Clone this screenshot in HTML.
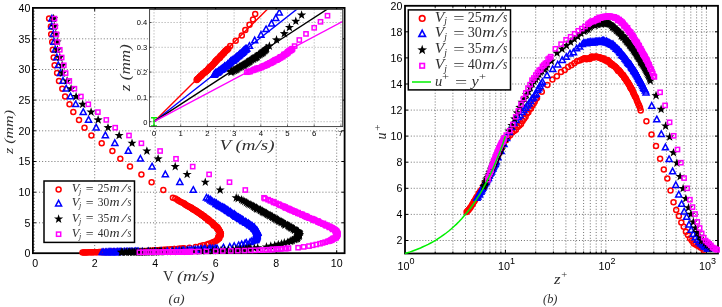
<!DOCTYPE html>
<html><head><meta charset="utf-8"><title>figure</title><style>html,body{margin:0;padding:0;background:#fff}svg{display:block}</style></head><body>
<svg width="722" height="307" viewBox="0 0 722 307">
<rect width="722" height="307" fill="#fff"/>
<g stroke="#5a5a5a" stroke-width="0.85" stroke-dasharray="1 2.08" fill="none">
<line x1="94.7" y1="7.9" x2="94.7" y2="253.2"/>
<line x1="155.2" y1="7.9" x2="155.2" y2="253.2"/>
<line x1="215.7" y1="7.9" x2="215.7" y2="253.2"/>
<line x1="276.2" y1="7.9" x2="276.2" y2="253.2"/>
<line x1="336.7" y1="7.9" x2="336.7" y2="253.2"/>
<line x1="32.9" y1="222.8" x2="344.6" y2="222.8"/>
<line x1="32.9" y1="192.2" x2="344.6" y2="192.2"/>
<line x1="32.9" y1="161.5" x2="344.6" y2="161.5"/>
<line x1="32.9" y1="130.8" x2="344.6" y2="130.8"/>
<line x1="32.9" y1="100.1" x2="344.6" y2="100.1"/>
<line x1="32.9" y1="69.5" x2="344.6" y2="69.5"/>
<line x1="32.9" y1="38.8" x2="344.6" y2="38.8"/>
</g>
<rect x="32.9" y="7.9" width="311.7" height="245.3" fill="none" stroke="#000" stroke-width="1.8"/>
<g stroke="#000" stroke-width="1">
<line x1="94.7" y1="253.2" x2="94.7" y2="250.2"/>
<line x1="94.7" y1="7.9" x2="94.7" y2="10.9"/>
<line x1="155.2" y1="253.2" x2="155.2" y2="250.2"/>
<line x1="155.2" y1="7.9" x2="155.2" y2="10.9"/>
<line x1="215.7" y1="253.2" x2="215.7" y2="250.2"/>
<line x1="215.7" y1="7.9" x2="215.7" y2="10.9"/>
<line x1="276.2" y1="253.2" x2="276.2" y2="250.2"/>
<line x1="276.2" y1="7.9" x2="276.2" y2="10.9"/>
<line x1="336.7" y1="253.2" x2="336.7" y2="250.2"/>
<line x1="336.7" y1="7.9" x2="336.7" y2="10.9"/>
<line x1="32.9" y1="222.8" x2="35.9" y2="222.8"/>
<line x1="344.6" y1="222.8" x2="341.6" y2="222.8"/>
<line x1="32.9" y1="192.2" x2="35.9" y2="192.2"/>
<line x1="344.6" y1="192.2" x2="341.6" y2="192.2"/>
<line x1="32.9" y1="161.5" x2="35.9" y2="161.5"/>
<line x1="344.6" y1="161.5" x2="341.6" y2="161.5"/>
<line x1="32.9" y1="130.8" x2="35.9" y2="130.8"/>
<line x1="344.6" y1="130.8" x2="341.6" y2="130.8"/>
<line x1="32.9" y1="100.1" x2="35.9" y2="100.1"/>
<line x1="344.6" y1="100.1" x2="341.6" y2="100.1"/>
<line x1="32.9" y1="69.5" x2="35.9" y2="69.5"/>
<line x1="344.6" y1="69.5" x2="341.6" y2="69.5"/>
<line x1="32.9" y1="38.8" x2="35.9" y2="38.8"/>
<line x1="344.6" y1="38.8" x2="341.6" y2="38.8"/>
<line x1="32.9" y1="250.4" x2="34.7" y2="250.4" stroke-width="0.6"/>
<line x1="32.9" y1="247.4" x2="34.7" y2="247.4" stroke-width="0.6"/>
<line x1="32.9" y1="244.3" x2="34.7" y2="244.3" stroke-width="0.6"/>
<line x1="32.9" y1="241.2" x2="34.7" y2="241.2" stroke-width="0.6"/>
<line x1="32.9" y1="238.2" x2="34.7" y2="238.2" stroke-width="0.6"/>
<line x1="32.9" y1="235.1" x2="34.7" y2="235.1" stroke-width="0.6"/>
<line x1="32.9" y1="232" x2="34.7" y2="232" stroke-width="0.6"/>
<line x1="32.9" y1="229" x2="34.7" y2="229" stroke-width="0.6"/>
<line x1="32.9" y1="225.9" x2="34.7" y2="225.9" stroke-width="0.6"/>
<line x1="32.9" y1="219.8" x2="34.7" y2="219.8" stroke-width="0.6"/>
<line x1="32.9" y1="216.7" x2="34.7" y2="216.7" stroke-width="0.6"/>
<line x1="32.9" y1="213.6" x2="34.7" y2="213.6" stroke-width="0.6"/>
<line x1="32.9" y1="210.6" x2="34.7" y2="210.6" stroke-width="0.6"/>
<line x1="32.9" y1="207.5" x2="34.7" y2="207.5" stroke-width="0.6"/>
<line x1="32.9" y1="204.4" x2="34.7" y2="204.4" stroke-width="0.6"/>
<line x1="32.9" y1="201.4" x2="34.7" y2="201.4" stroke-width="0.6"/>
<line x1="32.9" y1="198.3" x2="34.7" y2="198.3" stroke-width="0.6"/>
<line x1="32.9" y1="195.2" x2="34.7" y2="195.2" stroke-width="0.6"/>
<line x1="32.9" y1="189.1" x2="34.7" y2="189.1" stroke-width="0.6"/>
<line x1="32.9" y1="186" x2="34.7" y2="186" stroke-width="0.6"/>
<line x1="32.9" y1="182.9" x2="34.7" y2="182.9" stroke-width="0.6"/>
<line x1="32.9" y1="179.9" x2="34.7" y2="179.9" stroke-width="0.6"/>
<line x1="32.9" y1="176.8" x2="34.7" y2="176.8" stroke-width="0.6"/>
<line x1="32.9" y1="173.7" x2="34.7" y2="173.7" stroke-width="0.6"/>
<line x1="32.9" y1="170.7" x2="34.7" y2="170.7" stroke-width="0.6"/>
<line x1="32.9" y1="167.6" x2="34.7" y2="167.6" stroke-width="0.6"/>
<line x1="32.9" y1="164.5" x2="34.7" y2="164.5" stroke-width="0.6"/>
<line x1="32.9" y1="158.4" x2="34.7" y2="158.4" stroke-width="0.6"/>
<line x1="32.9" y1="155.3" x2="34.7" y2="155.3" stroke-width="0.6"/>
<line x1="32.9" y1="152.3" x2="34.7" y2="152.3" stroke-width="0.6"/>
<line x1="32.9" y1="149.2" x2="34.7" y2="149.2" stroke-width="0.6"/>
<line x1="32.9" y1="146.1" x2="34.7" y2="146.1" stroke-width="0.6"/>
<line x1="32.9" y1="143.1" x2="34.7" y2="143.1" stroke-width="0.6"/>
<line x1="32.9" y1="140" x2="34.7" y2="140" stroke-width="0.6"/>
<line x1="32.9" y1="136.9" x2="34.7" y2="136.9" stroke-width="0.6"/>
<line x1="32.9" y1="133.9" x2="34.7" y2="133.9" stroke-width="0.6"/>
<line x1="32.9" y1="127.7" x2="34.7" y2="127.7" stroke-width="0.6"/>
<line x1="32.9" y1="124.7" x2="34.7" y2="124.7" stroke-width="0.6"/>
<line x1="32.9" y1="121.6" x2="34.7" y2="121.6" stroke-width="0.6"/>
<line x1="32.9" y1="118.5" x2="34.7" y2="118.5" stroke-width="0.6"/>
<line x1="32.9" y1="115.5" x2="34.7" y2="115.5" stroke-width="0.6"/>
<line x1="32.9" y1="112.4" x2="34.7" y2="112.4" stroke-width="0.6"/>
<line x1="32.9" y1="109.3" x2="34.7" y2="109.3" stroke-width="0.6"/>
<line x1="32.9" y1="106.3" x2="34.7" y2="106.3" stroke-width="0.6"/>
<line x1="32.9" y1="103.2" x2="34.7" y2="103.2" stroke-width="0.6"/>
<line x1="32.9" y1="97.1" x2="34.7" y2="97.1" stroke-width="0.6"/>
<line x1="32.9" y1="94" x2="34.7" y2="94" stroke-width="0.6"/>
<line x1="32.9" y1="90.9" x2="34.7" y2="90.9" stroke-width="0.6"/>
<line x1="32.9" y1="87.9" x2="34.7" y2="87.9" stroke-width="0.6"/>
<line x1="32.9" y1="84.8" x2="34.7" y2="84.8" stroke-width="0.6"/>
<line x1="32.9" y1="81.7" x2="34.7" y2="81.7" stroke-width="0.6"/>
<line x1="32.9" y1="78.7" x2="34.7" y2="78.7" stroke-width="0.6"/>
<line x1="32.9" y1="75.6" x2="34.7" y2="75.6" stroke-width="0.6"/>
<line x1="32.9" y1="72.5" x2="34.7" y2="72.5" stroke-width="0.6"/>
<line x1="32.9" y1="66.4" x2="34.7" y2="66.4" stroke-width="0.6"/>
<line x1="32.9" y1="63.3" x2="34.7" y2="63.3" stroke-width="0.6"/>
<line x1="32.9" y1="60.2" x2="34.7" y2="60.2" stroke-width="0.6"/>
<line x1="32.9" y1="57.2" x2="34.7" y2="57.2" stroke-width="0.6"/>
<line x1="32.9" y1="54.1" x2="34.7" y2="54.1" stroke-width="0.6"/>
<line x1="32.9" y1="51" x2="34.7" y2="51" stroke-width="0.6"/>
<line x1="32.9" y1="48" x2="34.7" y2="48" stroke-width="0.6"/>
<line x1="32.9" y1="44.9" x2="34.7" y2="44.9" stroke-width="0.6"/>
<line x1="32.9" y1="41.8" x2="34.7" y2="41.8" stroke-width="0.6"/>
<line x1="32.9" y1="35.7" x2="34.7" y2="35.7" stroke-width="0.6"/>
<line x1="32.9" y1="32.6" x2="34.7" y2="32.6" stroke-width="0.6"/>
<line x1="32.9" y1="29.6" x2="34.7" y2="29.6" stroke-width="0.6"/>
<line x1="32.9" y1="26.5" x2="34.7" y2="26.5" stroke-width="0.6"/>
<line x1="32.9" y1="23.4" x2="34.7" y2="23.4" stroke-width="0.6"/>
<line x1="32.9" y1="20.4" x2="34.7" y2="20.4" stroke-width="0.6"/>
<line x1="32.9" y1="17.3" x2="34.7" y2="17.3" stroke-width="0.6"/>
<line x1="32.9" y1="14.2" x2="34.7" y2="14.2" stroke-width="0.6"/>
<line x1="32.9" y1="11.2" x2="34.7" y2="11.2" stroke-width="0.6"/>
</g>
<clipPath id="cl"><rect x="28.9" y="3.9" width="319.7" height="253.3"/></clipPath>
<g clip-path="url(#cl)">
<g fill="none" stroke="#ff0000" stroke-width="1.5">
<circle cx="82.5" cy="252.5" r="2.5"/>
<circle cx="83.7" cy="252.4" r="2.5"/>
<circle cx="84.7" cy="252.4" r="2.5"/>
<circle cx="86" cy="252.4" r="2.5"/>
<circle cx="87" cy="252.4" r="2.5"/>
<circle cx="88.8" cy="252.3" r="2.5"/>
<circle cx="90" cy="252.3" r="2.5"/>
<circle cx="91.8" cy="252.3" r="2.5"/>
<circle cx="92.5" cy="252.3" r="2.5"/>
<circle cx="93.8" cy="252.2" r="2.5"/>
<circle cx="95.2" cy="252.2" r="2.5"/>
<circle cx="96.4" cy="252.2" r="2.5"/>
<circle cx="97.4" cy="252.2" r="2.5"/>
<circle cx="99" cy="252.1" r="2.5"/>
<circle cx="100.4" cy="252.1" r="2.5"/>
<circle cx="101.1" cy="252.1" r="2.5"/>
<circle cx="102.3" cy="252.1" r="2.5"/>
<circle cx="103.6" cy="252" r="2.5"/>
<circle cx="104.3" cy="252" r="2.5"/>
<circle cx="105.9" cy="252" r="2.5"/>
<circle cx="106.9" cy="251.9" r="2.5"/>
<circle cx="108.6" cy="251.9" r="2.5"/>
<circle cx="109.2" cy="251.9" r="2.5"/>
<circle cx="110.4" cy="251.9" r="2.5"/>
<circle cx="111.8" cy="251.8" r="2.5"/>
<circle cx="113" cy="251.8" r="2.5"/>
<circle cx="113.8" cy="251.8" r="2.5"/>
<circle cx="115.1" cy="251.8" r="2.5"/>
<circle cx="116.8" cy="251.7" r="2.5"/>
<circle cx="118" cy="251.7" r="2.5"/>
<circle cx="120.6" cy="251.6" r="2.5"/>
<circle cx="126.7" cy="251.5" r="2.5"/>
<circle cx="133.7" cy="251.4" r="2.5"/>
<circle cx="137.7" cy="251.2" r="2.5"/>
<circle cx="142.4" cy="251.1" r="2.5"/>
<circle cx="146.4" cy="251" r="2.5"/>
<circle cx="148.9" cy="250.8" r="2.5"/>
<circle cx="150.8" cy="250.7" r="2.5"/>
<circle cx="153.3" cy="250.6" r="2.5"/>
<circle cx="154.5" cy="250.4" r="2.5"/>
<circle cx="155.7" cy="250.3" r="2.5"/>
<circle cx="158.2" cy="250.2" r="2.5"/>
<circle cx="159.6" cy="250" r="2.5"/>
<circle cx="160.8" cy="249.9" r="2.5"/>
<circle cx="163.5" cy="249.8" r="2.5"/>
<circle cx="165.4" cy="249.7" r="2.5"/>
<circle cx="167.4" cy="249.5" r="2.5"/>
<circle cx="170.1" cy="249.4" r="2.5"/>
<circle cx="171.3" cy="249.3" r="2.5"/>
<circle cx="174.2" cy="249.1" r="2.5"/>
<circle cx="174.5" cy="249" r="2.5"/>
<circle cx="177.4" cy="248.9" r="2.5"/>
<circle cx="178.9" cy="248.7" r="2.5"/>
<circle cx="180.7" cy="248.6" r="2.5"/>
<circle cx="183" cy="248.5" r="2.5"/>
<circle cx="183.9" cy="248.3" r="2.5"/>
<circle cx="189.5" cy="247.7" r="2.5"/>
<circle cx="195.6" cy="246.9" r="2.5"/>
<circle cx="200.3" cy="246.1" r="2.5"/>
<circle cx="203.2" cy="245.3" r="2.5"/>
<circle cx="207" cy="244.5" r="2.5"/>
<circle cx="208.9" cy="243.7" r="2.5"/>
<circle cx="211.4" cy="242.9" r="2.5"/>
<circle cx="213" cy="242.2" r="2.5"/>
<circle cx="214.8" cy="241.4" r="2.5"/>
<circle cx="216.6" cy="240.6" r="2.5"/>
<circle cx="217.2" cy="239.8" r="2.5"/>
<circle cx="218.2" cy="239" r="2.5"/>
<circle cx="218.6" cy="238.6" r="2.5"/>
<circle cx="219.3" cy="238.2" r="2.5"/>
<circle cx="218.9" cy="237.8" r="2.5"/>
<circle cx="218.3" cy="237.4" r="2.5"/>
<circle cx="219.1" cy="237" r="2.5"/>
<circle cx="219" cy="236.6" r="2.5"/>
<circle cx="218.6" cy="236.2" r="2.5"/>
<circle cx="219.9" cy="235.8" r="2.5"/>
<circle cx="220.7" cy="235.4" r="2.5"/>
<circle cx="220.3" cy="235" r="2.5"/>
<circle cx="220" cy="234.6" r="2.5"/>
<circle cx="220.1" cy="234.2" r="2.5"/>
<circle cx="220.9" cy="233.8" r="2.5"/>
<circle cx="220.5" cy="233.4" r="2.5"/>
<circle cx="220.6" cy="233" r="2.5"/>
<circle cx="220.2" cy="232.6" r="2.5"/>
<circle cx="220" cy="232.2" r="2.5"/>
<circle cx="219.9" cy="231.8" r="2.5"/>
<circle cx="219.9" cy="231.4" r="2.5"/>
<circle cx="219.2" cy="231" r="2.5"/>
<circle cx="218.6" cy="230.6" r="2.5"/>
<circle cx="219.2" cy="230.2" r="2.5"/>
<circle cx="218.5" cy="229.8" r="2.5"/>
<circle cx="218.8" cy="229.4" r="2.5"/>
<circle cx="217.5" cy="229" r="2.5"/>
<circle cx="217.7" cy="228.6" r="2.5"/>
<circle cx="217.4" cy="228.2" r="2.5"/>
<circle cx="216.7" cy="227.8" r="2.5"/>
<circle cx="217.6" cy="227.4" r="2.5"/>
<circle cx="216.9" cy="227" r="2.5"/>
<circle cx="215.7" cy="226.6" r="2.5"/>
<circle cx="215.7" cy="226.2" r="2.5"/>
<circle cx="215.3" cy="225.8" r="2.5"/>
<circle cx="213.8" cy="225.4" r="2.5"/>
<circle cx="214.3" cy="225" r="2.5"/>
<circle cx="213.9" cy="224.6" r="2.5"/>
<circle cx="213.4" cy="224.2" r="2.5"/>
<circle cx="212.8" cy="223.8" r="2.5"/>
<circle cx="212.6" cy="223.4" r="2.5"/>
<circle cx="212.2" cy="223" r="2.5"/>
<circle cx="212" cy="222.6" r="2.5"/>
<circle cx="211.4" cy="222.2" r="2.5"/>
<circle cx="210.7" cy="221.8" r="2.5"/>
<circle cx="210.7" cy="221.4" r="2.5"/>
<circle cx="209.5" cy="221" r="2.5"/>
<circle cx="208.9" cy="220.6" r="2.5"/>
<circle cx="207.9" cy="220.2" r="2.5"/>
<circle cx="208.9" cy="219.8" r="2.5"/>
<circle cx="208" cy="219.4" r="2.5"/>
<circle cx="207.6" cy="219" r="2.5"/>
<circle cx="207.1" cy="218.6" r="2.5"/>
<circle cx="206" cy="218.2" r="2.5"/>
<circle cx="205.7" cy="217.8" r="2.5"/>
<circle cx="205.1" cy="217.4" r="2.5"/>
<circle cx="204.7" cy="217" r="2.5"/>
<circle cx="204.1" cy="216.6" r="2.5"/>
<circle cx="204.3" cy="216.2" r="2.5"/>
<circle cx="203.3" cy="215.8" r="2.5"/>
<circle cx="202.4" cy="215.4" r="2.5"/>
<circle cx="201.7" cy="215" r="2.5"/>
<circle cx="201.3" cy="214.6" r="2.5"/>
<circle cx="201.5" cy="214.2" r="2.5"/>
<circle cx="200.2" cy="213.8" r="2.5"/>
<circle cx="199.9" cy="213.4" r="2.5"/>
<circle cx="199.1" cy="213" r="2.5"/>
<circle cx="198.4" cy="212.6" r="2.5"/>
<circle cx="197.9" cy="212.2" r="2.5"/>
<circle cx="197.6" cy="211.8" r="2.5"/>
<circle cx="196.5" cy="211.4" r="2.5"/>
<circle cx="196.4" cy="211" r="2.5"/>
<circle cx="195.5" cy="210.6" r="2.5"/>
<circle cx="195.2" cy="210.2" r="2.5"/>
<circle cx="193.8" cy="209.8" r="2.5"/>
<circle cx="193.7" cy="209.5" r="2.5"/>
<circle cx="192.7" cy="209.1" r="2.5"/>
<circle cx="192.7" cy="208.7" r="2.5"/>
<circle cx="191.7" cy="208.3" r="2.5"/>
<circle cx="191.2" cy="207.9" r="2.5"/>
<circle cx="191.1" cy="207.4" r="2.5"/>
<circle cx="189.6" cy="207" r="2.5"/>
<circle cx="188.5" cy="206.5" r="2.5"/>
<circle cx="187.9" cy="206" r="2.5"/>
<circle cx="186.8" cy="205.4" r="2.5"/>
<circle cx="185.5" cy="204.8" r="2.5"/>
<circle cx="184.7" cy="204.1" r="2.5"/>
<circle cx="183.9" cy="203.3" r="2.5"/>
<circle cx="182" cy="202.5" r="2.5"/>
<circle cx="180.4" cy="201.7" r="2.5"/>
<circle cx="178.6" cy="200.8" r="2.5"/>
<circle cx="177.4" cy="199.7" r="2.5"/>
<circle cx="175.3" cy="198.6" r="2.5"/>
<circle cx="172.9" cy="197.8" r="2.5"/>
<circle cx="163.3" cy="190" r="2.5"/>
<circle cx="151.6" cy="182.2" r="2.5"/>
<circle cx="141.4" cy="174.4" r="2.5"/>
<circle cx="130" cy="166.6" r="2.5"/>
<circle cx="120.3" cy="158.8" r="2.5"/>
<circle cx="112.4" cy="151" r="2.5"/>
<circle cx="101.7" cy="143.3" r="2.5"/>
<circle cx="91.4" cy="135.5" r="2.5"/>
<circle cx="84.5" cy="127.7" r="2.5"/>
<circle cx="79" cy="119.9" r="2.5"/>
<circle cx="73.3" cy="112.1" r="2.5"/>
<circle cx="69.5" cy="104.3" r="2.5"/>
<circle cx="65.1" cy="96.5" r="2.5"/>
<circle cx="62.3" cy="88.7" r="2.5"/>
<circle cx="59" cy="80.9" r="2.5"/>
<circle cx="57.1" cy="73.1" r="2.5"/>
<circle cx="54.6" cy="65.3" r="2.5"/>
<circle cx="53.7" cy="57.5" r="2.5"/>
<circle cx="52.8" cy="49.8" r="2.5"/>
<circle cx="52.2" cy="42" r="2.5"/>
<circle cx="51.2" cy="34.2" r="2.5"/>
<circle cx="50.9" cy="26.4" r="2.5"/>
<circle cx="49.1" cy="18.6" r="2.5"/>
</g>
<g fill="none" stroke="#0000ff" stroke-width="1.5">
<polygon points="102.1,249 105.2,254.6 99.1,254.6"/>
<polygon points="103.3,249 106.3,254.6 100.3,254.6"/>
<polygon points="105.3,249 108.3,254.6 102.3,254.6"/>
<polygon points="106.3,249 109.4,254.6 103.3,254.6"/>
<polygon points="108.1,248.9 111.1,254.5 105.1,254.5"/>
<polygon points="109.3,248.9 112.3,254.5 106.2,254.5"/>
<polygon points="110.7,248.9 113.8,254.5 107.7,254.5"/>
<polygon points="111.9,248.9 115,254.5 108.9,254.5"/>
<polygon points="113.4,248.8 116.4,254.4 110.4,254.4"/>
<polygon points="114.5,248.8 117.5,254.4 111.4,254.4"/>
<polygon points="116.1,248.8 119.1,254.4 113.1,254.4"/>
<polygon points="117.3,248.8 120.4,254.4 114.3,254.4"/>
<polygon points="118,248.7 121.1,254.4 115,254.4"/>
<polygon points="119.6,248.7 122.6,254.3 116.5,254.3"/>
<polygon points="120.8,248.7 123.8,254.3 117.8,254.3"/>
<polygon points="121.7,248.7 124.8,254.3 118.7,254.3"/>
<polygon points="123.9,248.7 126.9,254.3 120.8,254.3"/>
<polygon points="124.5,248.6 127.5,254.2 121.4,254.2"/>
<polygon points="126.1,248.6 129.1,254.2 123,254.2"/>
<polygon points="127.1,248.6 130.1,254.2 124,254.2"/>
<polygon points="128,248.6 131.1,254.2 125,254.2"/>
<polygon points="129.6,248.6 132.6,254.2 126.6,254.2"/>
<polygon points="130.9,248.5 134,254.1 127.9,254.1"/>
<polygon points="131.4,248.5 134.5,254.1 128.4,254.1"/>
<polygon points="132.8,248.5 135.8,254.1 129.8,254.1"/>
<polygon points="134.1,248.5 137.1,254.1 131,254.1"/>
<polygon points="135.2,248.4 138.2,254 132.1,254"/>
<polygon points="135.9,248.4 138.9,254 132.8,254"/>
<polygon points="137.2,248.4 140.3,254 134.2,254"/>
<polygon points="138.3,248.4 141.4,254 135.3,254"/>
<polygon points="142.3,248.3 145.4,253.9 139.3,253.9"/>
<polygon points="148.3,248.2 151.3,253.8 145.3,253.8"/>
<polygon points="155.4,248 158.5,253.6 152.4,253.6"/>
<polygon points="161.2,247.9 164.2,253.5 158.1,253.5"/>
<polygon points="167.3,247.8 170.4,253.4 164.3,253.4"/>
<polygon points="172.2,247.6 175.2,253.2 169.2,253.2"/>
<polygon points="176.2,247.5 179.2,253.1 173.1,253.1"/>
<polygon points="179.2,247.3 182.2,252.9 176.1,252.9"/>
<polygon points="182,247.2 185,252.8 178.9,252.8"/>
<polygon points="183.8,247.1 186.8,252.7 180.8,252.7"/>
<polygon points="187.1,246.9 190.1,252.5 184,252.5"/>
<polygon points="189.2,246.8 192.2,252.4 186.1,252.4"/>
<polygon points="191.3,246.6 194.4,252.3 188.3,252.3"/>
<polygon points="193.6,246.5 196.6,252.1 190.6,252.1"/>
<polygon points="195.5,246.4 198.5,252 192.5,252"/>
<polygon points="197.9,246.2 200.9,251.8 194.8,251.8"/>
<polygon points="200.4,246.1 203.4,251.7 197.4,251.7"/>
<polygon points="201.5,246 204.6,251.6 198.5,251.6"/>
<polygon points="204,245.8 207.1,251.4 201,251.4"/>
<polygon points="205.1,245.7 208.1,251.3 202,251.3"/>
<polygon points="209.2,245.5 212.2,251.1 206.1,251.1"/>
<polygon points="210.6,245.4 213.6,251 207.5,251"/>
<polygon points="212.7,245.3 215.8,250.9 209.7,250.9"/>
<polygon points="215.2,245.1 218.3,250.7 212.2,250.7"/>
<polygon points="217,245 220,250.6 213.9,250.6"/>
<polygon points="223.5,244.4 226.5,250 220.4,250"/>
<polygon points="229.8,243.6 232.8,249.2 226.8,249.2"/>
<polygon points="234.2,242.8 237.2,248.4 231.1,248.4"/>
<polygon points="238.7,242 241.7,247.6 235.7,247.6"/>
<polygon points="241.7,241.2 244.7,246.8 238.7,246.8"/>
<polygon points="245,240.4 248.1,246 242,246"/>
<polygon points="246.3,239.6 249.3,245.2 243.2,245.2"/>
<polygon points="250.1,238.8 253.2,244.4 247.1,244.4"/>
<polygon points="251.8,238 254.9,243.6 248.8,243.6"/>
<polygon points="254.3,237.2 257.4,242.8 251.3,242.8"/>
<polygon points="255.6,236.8 258.6,242.4 252.5,242.4"/>
<polygon points="255.6,236.4 258.7,242 252.6,242"/>
<polygon points="255.1,236 258.2,241.6 252.1,241.6"/>
<polygon points="256,235.6 259,241.2 252.9,241.2"/>
<polygon points="256,235.2 259.1,240.8 253,240.8"/>
<polygon points="256.3,234.8 259.4,240.4 253.3,240.4"/>
<polygon points="256.7,234.4 259.7,240 253.6,240"/>
<polygon points="255.8,234 258.9,239.6 252.8,239.6"/>
<polygon points="256.7,233.6 259.8,239.2 253.7,239.2"/>
<polygon points="256,233.2 259.1,238.8 253,238.8"/>
<polygon points="257,232.8 260.1,238.4 254,238.4"/>
<polygon points="257,232.4 260,238 253.9,238"/>
<polygon points="256.9,232 260,237.7 253.9,237.7"/>
<polygon points="256.9,231.6 259.9,237.3 253.8,237.3"/>
<polygon points="256.9,231.2 259.9,236.9 253.8,236.9"/>
<polygon points="257,230.8 260.1,236.5 254,236.5"/>
<polygon points="256.5,230.5 259.6,236.1 253.5,236.1"/>
<polygon points="257.2,230.1 260.2,235.7 254.1,235.7"/>
<polygon points="257.8,229.7 260.9,235.3 254.8,235.3"/>
<polygon points="258,229.3 261,234.9 254.9,234.9"/>
<polygon points="257.4,228.9 260.4,234.5 254.3,234.5"/>
<polygon points="256.9,228.5 259.9,234.1 253.9,234.1"/>
<polygon points="256.2,228.1 259.2,233.7 253.1,233.7"/>
<polygon points="257.2,227.7 260.2,233.3 254.2,233.3"/>
<polygon points="256.2,227.3 259.2,232.9 253.2,232.9"/>
<polygon points="256.1,226.9 259.1,232.5 253,232.5"/>
<polygon points="255.5,226.5 258.5,232.1 252.5,232.1"/>
<polygon points="255.5,226.1 258.5,231.7 252.5,231.7"/>
<polygon points="254.7,225.7 257.8,231.3 251.7,231.3"/>
<polygon points="254.5,225.3 257.6,230.9 251.5,230.9"/>
<polygon points="254,224.9 257.1,230.5 251,230.5"/>
<polygon points="253.7,224.5 256.8,230.1 250.7,230.1"/>
<polygon points="254.3,224.1 257.3,229.7 251.2,229.7"/>
<polygon points="252.8,223.7 255.8,229.3 249.8,229.3"/>
<polygon points="252.3,223.3 255.3,228.9 249.2,228.9"/>
<polygon points="252.2,222.9 255.2,228.5 249.1,228.5"/>
<polygon points="251.5,222.5 254.5,228.1 248.4,228.1"/>
<polygon points="249.9,222.1 253,227.7 246.9,227.7"/>
<polygon points="249.9,221.7 252.9,227.3 246.9,227.3"/>
<polygon points="249.8,221.3 252.8,226.9 246.8,226.9"/>
<polygon points="248.9,220.9 251.9,226.5 245.9,226.5"/>
<polygon points="248.4,220.5 251.4,226.1 245.3,226.1"/>
<polygon points="248.2,220.1 251.2,225.7 245.2,225.7"/>
<polygon points="246.7,219.7 249.7,225.3 243.6,225.3"/>
<polygon points="246.1,219.3 249.2,224.9 243.1,224.9"/>
<polygon points="245.5,218.9 248.5,224.5 242.4,224.5"/>
<polygon points="245.8,218.5 248.9,224.1 242.8,224.1"/>
<polygon points="243.6,218.1 246.6,223.7 240.5,223.7"/>
<polygon points="243.4,217.7 246.4,223.3 240.4,223.3"/>
<polygon points="242.8,217.3 245.9,222.9 239.8,222.9"/>
<polygon points="242.9,216.9 245.9,222.5 239.9,222.5"/>
<polygon points="241.9,216.5 245,222.1 238.9,222.1"/>
<polygon points="241.8,216.1 244.8,221.7 238.7,221.7"/>
<polygon points="240,215.7 243,221.3 237,221.3"/>
<polygon points="240.4,215.3 243.5,220.9 237.4,220.9"/>
<polygon points="239.2,214.9 242.3,220.5 236.2,220.5"/>
<polygon points="238.6,214.5 241.6,220.1 235.6,220.1"/>
<polygon points="238.4,214.1 241.5,219.7 235.4,219.7"/>
<polygon points="237.3,213.7 240.3,219.3 234.2,219.3"/>
<polygon points="236.2,213.3 239.2,218.9 233.1,218.9"/>
<polygon points="236.1,212.9 239.2,218.5 233.1,218.5"/>
<polygon points="235.2,212.5 238.2,218.1 232.2,218.1"/>
<polygon points="235.1,212.1 238.1,217.7 232,217.7"/>
<polygon points="234.6,211.7 237.7,217.3 231.6,217.3"/>
<polygon points="234.1,211.3 237.1,216.9 231,216.9"/>
<polygon points="234.1,210.9 237.1,216.5 231,216.5"/>
<polygon points="232.5,210.5 235.6,216.1 229.5,216.1"/>
<polygon points="231.5,210.1 234.6,215.7 228.5,215.7"/>
<polygon points="231.1,209.7 234.1,215.3 228,215.3"/>
<polygon points="230.7,209.3 233.7,214.9 227.6,214.9"/>
<polygon points="230.1,208.9 233.1,214.5 227,214.5"/>
<polygon points="230.1,208.5 233.1,214.1 227,214.1"/>
<polygon points="228.7,208.1 231.8,213.7 225.7,213.7"/>
<polygon points="227.7,207.7 230.8,213.3 224.7,213.3"/>
<polygon points="228.1,207.3 231.1,212.9 225,212.9"/>
<polygon points="227.1,206.9 230.1,212.5 224.1,212.5"/>
<polygon points="226.8,206.5 229.8,212.1 223.8,212.1"/>
<polygon points="225.7,206.1 228.7,211.7 222.7,211.7"/>
<polygon points="225.5,205.7 228.6,211.3 222.5,211.3"/>
<polygon points="224.5,205.3 227.5,210.9 221.5,210.9"/>
<polygon points="224.5,204.9 227.5,210.5 221.4,210.5"/>
<polygon points="223.3,204.5 226.4,210.1 220.3,210.1"/>
<polygon points="222.5,204.1 225.5,209.7 219.5,209.7"/>
<polygon points="221.9,203.7 224.9,209.3 218.8,209.3"/>
<polygon points="220.4,203.2 223.4,208.8 217.3,208.8"/>
<polygon points="219.9,202.6 222.9,208.2 216.8,208.2"/>
<polygon points="218.9,202.1 222,207.7 215.9,207.7"/>
<polygon points="218,201.4 221,207 214.9,207"/>
<polygon points="216.1,200.8 219.1,206.4 213.1,206.4"/>
<polygon points="216.4,200 219.4,205.6 213.4,205.6"/>
<polygon points="214.6,199.2 217.6,204.8 211.5,204.8"/>
<polygon points="212.7,198.4 215.8,204 209.7,204"/>
<polygon points="211.1,197.4 214.1,203 208.1,203"/>
<polygon points="210.2,196.4 213.2,202 207.1,202"/>
<polygon points="208.3,195.3 211.4,200.9 205.3,200.9"/>
<polygon points="206.5,194.5 209.5,200.1 203.4,200.1"/>
<polygon points="193.3,186.7 196.3,192.3 190.2,192.3"/>
<polygon points="179.8,178.9 182.9,184.5 176.8,184.5"/>
<polygon points="165.3,171.1 168.4,176.7 162.3,176.7"/>
<polygon points="152.1,163.3 155.1,168.9 149,168.9"/>
<polygon points="140.4,155.5 143.4,161.1 137.4,161.1"/>
<polygon points="128.3,147.7 131.3,153.3 125.3,153.3"/>
<polygon points="114.8,139.9 117.9,145.5 111.8,145.5"/>
<polygon points="105.4,132.1 108.4,137.7 102.3,137.7"/>
<polygon points="96.2,124.3 99.2,130 93.1,130"/>
<polygon points="88.6,116.6 91.6,122.2 85.5,122.2"/>
<polygon points="83.3,108.8 86.3,114.4 80.2,114.4"/>
<polygon points="75.7,101 78.7,106.6 72.7,106.6"/>
<polygon points="70.5,93.2 73.5,98.8 67.4,98.8"/>
<polygon points="66.2,85.4 69.2,91 63.1,91"/>
<polygon points="63,77.6 66,83.2 60,83.2"/>
<polygon points="60.5,69.8 63.5,75.4 57.4,75.4"/>
<polygon points="58.3,62 61.4,67.6 55.3,67.6"/>
<polygon points="56.8,54.2 59.8,59.8 53.7,59.8"/>
<polygon points="55.3,46.4 58.4,52 52.3,52"/>
<polygon points="54,38.6 57,44.2 50.9,44.2"/>
<polygon points="53.4,30.8 56.4,36.5 50.3,36.5"/>
<polygon points="51.8,23.1 54.9,28.7 48.8,28.7"/>
<polygon points="51.9,15.3 55,20.9 48.9,20.9"/>
</g>
<g fill="#000000" stroke="none">
<polygon points="121.3,247.5 122.4,250.7 125.9,250.8 123.1,252.9 124.1,256.2 121.3,254.2 118.5,256.2 119.5,252.9 116.7,250.8 120.2,250.7"/>
<polygon points="122.5,247.5 123.6,250.7 127,250.8 124.3,252.8 125.3,256.1 122.5,254.2 119.6,256.1 120.6,252.8 117.9,250.8 121.3,250.7"/>
<polygon points="124.9,247.4 126,250.7 129.5,250.7 126.7,252.8 127.7,256.1 124.9,254.2 122.1,256.1 123.1,252.8 120.4,250.7 123.8,250.7"/>
<polygon points="126.4,247.4 127.5,250.7 130.9,250.7 128.2,252.8 129.2,256.1 126.4,254.1 123.6,256.1 124.6,252.8 121.8,250.7 125.3,250.7"/>
<polygon points="128.4,247.4 129.6,250.6 133,250.7 130.3,252.8 131.3,256.1 128.4,254.1 125.6,256.1 126.6,252.8 123.9,250.7 127.3,250.6"/>
<polygon points="129.4,247.4 130.5,250.6 133.9,250.7 131.2,252.8 132.2,256.1 129.4,254.1 126.5,256.1 127.5,252.8 124.8,250.7 128.2,250.6"/>
<polygon points="131,247.3 132.1,250.6 135.6,250.7 132.8,252.7 133.8,256 131,254.1 128.2,256 129.2,252.7 126.4,250.7 129.9,250.6"/>
<polygon points="132.8,247.3 133.9,250.6 137.4,250.7 134.6,252.7 135.6,256 132.8,254.1 130,256 131,252.7 128.2,250.7 131.7,250.6"/>
<polygon points="134.3,247.3 135.4,250.6 138.8,250.6 136.1,252.7 137.1,256 134.3,254 131.5,256 132.5,252.7 129.7,250.6 133.2,250.6"/>
<polygon points="136.2,247.3 137.3,250.5 140.8,250.6 138,252.7 139,256 136.2,254 133.4,256 134.4,252.7 131.6,250.6 135.1,250.5"/>
<polygon points="137.1,247.3 138.2,250.5 141.7,250.6 138.9,252.7 139.9,256 137.1,254 134.3,256 135.3,252.7 132.5,250.6 136,250.5"/>
<polygon points="139.3,247.2 140.4,250.5 143.8,250.6 141.1,252.6 142.1,255.9 139.3,254 136.4,255.9 137.4,252.6 134.7,250.6 138.1,250.5"/>
<polygon points="140.2,247.2 141.3,250.5 144.8,250.5 142,252.6 143,255.9 140.2,254 137.4,255.9 138.4,252.6 135.6,250.5 139.1,250.5"/>
<polygon points="142,247.2 143.2,250.5 146.6,250.5 143.9,252.6 144.9,255.9 142,253.9 139.2,255.9 140.2,252.6 137.5,250.5 140.9,250.5"/>
<polygon points="143,247.2 144.1,250.4 147.5,250.5 144.8,252.6 145.8,255.9 143,253.9 140.1,255.9 141.1,252.6 138.4,250.5 141.8,250.4"/>
<polygon points="144.6,247.2 145.7,250.4 149.1,250.5 146.4,252.6 147.4,255.9 144.6,253.9 141.8,255.9 142.8,252.6 140,250.5 143.4,250.4"/>
<polygon points="146,247.2 147.2,250.4 150.6,250.5 147.9,252.5 148.9,255.8 146,253.9 143.2,255.8 144.2,252.5 141.5,250.5 144.9,250.4"/>
<polygon points="147.3,247.1 148.4,250.4 151.9,250.5 149.1,252.5 150.1,255.8 147.3,253.9 144.5,255.8 145.5,252.5 142.7,250.5 146.2,250.4"/>
<polygon points="148.8,247.1 150,250.4 153.4,250.4 150.7,252.5 151.7,255.8 148.8,253.8 146,255.8 147,252.5 144.3,250.4 147.7,250.4"/>
<polygon points="150,247.1 151.2,250.3 154.6,250.4 151.9,252.5 152.8,255.8 150,253.8 147.2,255.8 148.2,252.5 145.5,250.4 148.9,250.3"/>
<polygon points="150.7,247.1 151.9,250.3 155.3,250.4 152.6,252.5 153.6,255.8 150.7,253.8 147.9,255.8 148.9,252.5 146.2,250.4 149.6,250.3"/>
<polygon points="152.3,247.1 153.5,250.3 156.9,250.4 154.2,252.4 155.2,255.7 152.3,253.8 149.5,255.7 150.5,252.4 147.8,250.4 151.2,250.3"/>
<polygon points="154.3,247 155.4,250.3 158.8,250.4 156.1,252.4 157.1,255.7 154.3,253.8 151.4,255.7 152.4,252.4 149.7,250.4 153.1,250.3"/>
<polygon points="154.3,247 155.4,250.3 158.9,250.3 156.1,252.4 157.1,255.7 154.3,253.7 151.5,255.7 152.5,252.4 149.7,250.3 153.2,250.3"/>
<polygon points="156,247 157.1,250.3 160.6,250.3 157.8,252.4 158.8,255.7 156,253.7 153.2,255.7 154.2,252.4 151.4,250.3 154.9,250.3"/>
<polygon points="157.5,247 158.6,250.2 162.1,250.3 159.3,252.4 160.3,255.7 157.5,253.7 154.7,255.7 155.7,252.4 152.9,250.3 156.4,250.2"/>
<polygon points="159,246.9 160.1,250.2 163.6,250.3 160.8,252.3 161.8,255.6 159,253.7 156.2,255.6 157.2,252.3 154.5,250.3 157.9,250.2"/>
<polygon points="159.6,246.9 160.7,250.2 164.1,250.3 161.4,252.3 162.4,255.6 159.6,253.7 156.7,255.6 157.7,252.3 155,250.3 158.4,250.2"/>
<polygon points="160.6,246.9 161.7,250.2 165.1,250.2 162.4,252.3 163.4,255.6 160.6,253.6 157.7,255.6 158.7,252.3 156,250.2 159.4,250.2"/>
<polygon points="161.4,246.9 162.5,250.1 166,250.2 163.2,252.3 164.2,255.6 161.4,253.6 158.6,255.6 159.6,252.3 156.8,250.2 160.3,250.1"/>
<polygon points="164.9,246.8 166,250.1 169.5,250.1 166.7,252.2 167.7,255.5 164.9,253.5 162.1,255.5 163.1,252.2 160.3,250.1 163.8,250.1"/>
<polygon points="173,246.7 174.1,249.9 177.6,250 174.8,252.1 175.8,255.4 173,253.4 170.2,255.4 171.2,252.1 168.4,250 171.9,249.9"/>
<polygon points="181.7,246.5 182.9,249.8 186.3,249.8 183.6,251.9 184.6,255.2 181.7,253.2 178.9,255.2 179.9,251.9 177.2,249.8 180.6,249.8"/>
<polygon points="187.6,246.4 188.8,249.6 192.2,249.7 189.4,251.8 190.4,255.1 187.6,253.1 184.8,255.1 185.8,251.8 183.1,249.7 186.5,249.6"/>
<polygon points="194.9,246.2 196,249.5 199.4,249.5 196.7,251.6 197.7,254.9 194.9,252.9 192,254.9 193,251.6 190.3,249.5 193.7,249.5"/>
<polygon points="201.4,246.1 202.5,249.3 206,249.4 203.2,251.5 204.2,254.7 201.4,252.8 198.6,254.7 199.6,251.5 196.9,249.4 200.3,249.3"/>
<polygon points="207.4,245.9 208.5,249.2 212,249.2 209.2,251.3 210.2,254.6 207.4,252.6 204.6,254.6 205.6,251.3 202.8,249.2 206.3,249.2"/>
<polygon points="212.9,245.8 214,249 217.5,249.1 214.7,251.1 215.7,254.4 212.9,252.5 210.1,254.4 211.1,251.1 208.3,249.1 211.8,249"/>
<polygon points="216.3,245.6 217.4,248.8 220.9,248.9 218.1,251 219.1,254.3 216.3,252.3 213.5,254.3 214.5,251 211.8,248.9 215.2,248.8"/>
<polygon points="221,245.4 222.2,248.7 225.6,248.8 222.8,250.8 223.8,254.1 221,252.2 218.2,254.1 219.2,250.8 216.5,248.8 219.9,248.7"/>
<polygon points="224.3,245.3 225.5,248.5 228.9,248.6 226.2,250.7 227.2,254 224.3,252 221.5,254 222.5,250.7 219.8,248.6 223.2,248.5"/>
<polygon points="228.6,245.1 229.7,248.4 233.1,248.5 230.4,250.5 231.4,253.8 228.6,251.9 225.7,253.8 226.7,250.5 224,248.5 227.4,248.4"/>
<polygon points="233,245 234.1,248.2 237.6,248.3 234.8,250.4 235.8,253.7 233,251.7 230.2,253.7 231.2,250.4 228.5,248.3 231.9,248.2"/>
<polygon points="235.8,244.8 237,248.1 240.4,248.2 237.7,250.2 238.6,253.5 235.8,251.6 233,253.5 234,250.2 231.3,248.2 234.7,248.1"/>
<polygon points="237.9,244.7 239.1,247.9 242.5,248 239.8,250.1 240.8,253.4 237.9,251.4 235.1,253.4 236.1,250.1 233.4,248 236.8,247.9"/>
<polygon points="240.4,244.5 241.5,247.8 244.9,247.8 242.2,249.9 243.2,253.2 240.4,251.2 237.6,253.2 238.6,249.9 235.8,247.8 239.3,247.8"/>
<polygon points="243.3,244.4 244.4,247.6 247.9,247.7 245.1,249.8 246.1,253.1 243.3,251.1 240.5,253.1 241.5,249.8 238.8,247.7 242.2,247.6"/>
<polygon points="245.8,244.2 246.9,247.5 250.3,247.5 247.6,249.6 248.6,252.9 245.8,250.9 242.9,252.9 243.9,249.6 241.2,247.5 244.6,247.5"/>
<polygon points="246.9,244.1 248.1,247.3 251.5,247.4 248.8,249.5 249.8,252.8 246.9,250.8 244.1,252.8 245.1,249.5 242.4,247.4 245.8,247.3"/>
<polygon points="248.9,243.9 250,247.2 253.5,247.2 250.7,249.3 251.7,252.6 248.9,250.6 246.1,252.6 247.1,249.3 244.3,247.2 247.8,247.2"/>
<polygon points="249,243.8 250.1,247 253.5,247.1 250.8,249.2 251.8,252.4 249,250.5 246.1,252.4 247.1,249.2 244.4,247.1 247.8,247"/>
<polygon points="250.8,243.6 251.9,246.9 255.4,246.9 252.6,249 253.6,252.3 250.8,250.3 248,252.3 249,249 246.3,246.9 249.7,246.9"/>
<polygon points="254.4,243.5 255.5,246.7 258.9,246.8 256.2,248.8 257.2,252.1 254.4,250.2 251.5,252.1 252.5,248.8 249.8,246.8 253.2,246.7"/>
<polygon points="257.7,242.9 258.8,246.2 262.3,246.2 259.5,248.3 260.5,251.6 257.7,249.7 254.9,251.6 255.9,248.3 253.1,246.2 256.6,246.2"/>
<polygon points="266.4,242.1 267.5,245.4 271,245.5 268.2,247.5 269.2,250.8 266.4,248.9 263.6,250.8 264.6,247.5 261.8,245.5 265.3,245.4"/>
<polygon points="270.8,241.3 271.9,244.6 275.3,244.7 272.6,246.7 273.6,250 270.8,248.1 267.9,250 268.9,246.7 266.2,244.7 269.6,244.6"/>
<polygon points="274.7,240.5 275.8,243.8 279.2,243.9 276.5,245.9 277.5,249.2 274.7,247.3 271.9,249.2 272.9,245.9 270.1,243.9 273.6,243.8"/>
<polygon points="278.3,239.7 279.4,243 282.9,243.1 280.1,245.1 281.1,248.4 278.3,246.5 275.5,248.4 276.5,245.1 273.7,243.1 277.2,243"/>
<polygon points="281.6,238.9 282.7,242.2 286.2,242.3 283.4,244.3 284.4,247.6 281.6,245.7 278.8,247.6 279.8,244.3 277,242.3 280.5,242.2"/>
<polygon points="284.3,238.1 285.5,241.4 288.9,241.5 286.2,243.5 287.2,246.8 284.3,244.9 281.5,246.8 282.5,243.5 279.8,241.5 283.2,241.4"/>
<polygon points="287.8,237.4 289,240.6 292.4,240.7 289.7,242.7 290.7,246 287.8,244.1 285,246 286,242.7 283.3,240.7 286.7,240.6"/>
<polygon points="290.1,236.6 291.2,239.8 294.7,239.9 291.9,241.9 292.9,245.2 290.1,243.3 287.3,245.2 288.3,241.9 285.5,239.9 289,239.8"/>
<polygon points="290.9,236.2 292,239.4 295.5,239.5 292.7,241.5 293.7,244.8 290.9,242.9 288.1,244.8 289.1,241.5 286.4,239.5 289.8,239.4"/>
<polygon points="292,235.8 293.1,239 296.5,239.1 293.8,241.1 294.8,244.4 292,242.5 289.2,244.4 290.2,241.1 287.4,239.1 290.9,239"/>
<polygon points="292.4,235.4 293.5,238.6 297,238.7 294.2,240.7 295.2,244 292.4,242.1 289.6,244 290.6,240.7 287.9,238.7 291.3,238.6"/>
<polygon points="294.3,235 295.4,238.2 298.8,238.3 296.1,240.4 297.1,243.6 294.3,241.7 291.5,243.6 292.5,240.4 289.7,238.3 293.2,238.2"/>
<polygon points="294.9,234.6 296.1,237.8 299.5,237.9 296.8,240 297.8,243.2 294.9,241.3 292.1,243.2 293.1,240 290.4,237.9 293.8,237.8"/>
<polygon points="296.3,234.2 297.4,237.4 300.9,237.5 298.1,239.6 299.1,242.8 296.3,240.9 293.5,242.8 294.5,239.6 291.7,237.5 295.2,237.4"/>
<polygon points="297.3,233.8 298.5,237 301.9,237.1 299.2,239.2 300.2,242.4 297.3,240.5 294.5,242.4 295.5,239.2 292.8,237.1 296.2,237"/>
<polygon points="297,233.4 298.1,236.6 301.5,236.7 298.8,238.8 299.8,242 297,240.1 294.1,242 295.1,238.8 292.4,236.7 295.8,236.6"/>
<polygon points="296.5,233 297.6,236.2 301.1,236.3 298.3,238.4 299.3,241.6 296.5,239.7 293.7,241.6 294.7,238.4 291.9,236.3 295.4,236.2"/>
<polygon points="297.6,232.6 298.8,235.8 302.2,235.9 299.5,238 300.5,241.2 297.6,239.3 294.8,241.2 295.8,238 293.1,235.9 296.5,235.8"/>
<polygon points="297.7,232.2 298.8,235.4 302.3,235.5 299.5,237.6 300.5,240.8 297.7,238.9 294.9,240.8 295.9,237.6 293.2,235.5 296.6,235.4"/>
<polygon points="297.9,231.8 299,235 302.4,235.1 299.7,237.2 300.7,240.5 297.9,238.5 295,240.5 296,237.2 293.3,235.1 296.7,235"/>
<polygon points="299.2,231.4 300.4,234.6 303.8,234.7 301.1,236.8 302.1,240.1 299.2,238.1 296.4,240.1 297.4,236.8 294.7,234.7 298.1,234.6"/>
<polygon points="298.5,231 299.7,234.2 303.1,234.3 300.4,236.4 301.4,239.7 298.5,237.7 295.7,239.7 296.7,236.4 294,234.3 297.4,234.2"/>
<polygon points="298,230.6 299.1,233.8 302.5,233.9 299.8,236 300.8,239.3 298,237.3 295.1,239.3 296.1,236 293.4,233.9 296.8,233.8"/>
<polygon points="299.4,230.2 300.5,233.4 303.9,233.5 301.2,235.6 302.2,238.9 299.4,236.9 296.5,238.9 297.5,235.6 294.8,233.5 298.2,233.4"/>
<polygon points="299.5,229.8 300.6,233 304,233.1 301.3,235.2 302.3,238.5 299.5,236.5 296.6,238.5 297.6,235.2 294.9,233.1 298.3,233"/>
<polygon points="298.7,229.4 299.8,232.6 303.2,232.7 300.5,234.8 301.5,238.1 298.7,236.1 295.9,238.1 296.9,234.8 294.1,232.7 297.6,232.6"/>
<polygon points="298.4,229 299.6,232.2 303,232.3 300.3,234.4 301.3,237.7 298.4,235.7 295.6,237.7 296.6,234.4 293.9,232.3 297.3,232.2"/>
<polygon points="298.4,228.6 299.6,231.8 303,231.9 300.3,234 301.3,237.3 298.4,235.3 295.6,237.3 296.6,234 293.9,231.9 297.3,231.8"/>
<polygon points="299,228.2 300.1,231.4 303.6,231.5 300.8,233.6 301.8,236.9 299,234.9 296.2,236.9 297.2,233.6 294.4,231.5 297.9,231.4"/>
<polygon points="298.7,227.8 299.8,231 303.2,231.1 300.5,233.2 301.5,236.5 298.7,234.5 295.8,236.5 296.8,233.2 294.1,231.1 297.5,231"/>
<polygon points="298.7,227.4 299.8,230.6 303.3,230.7 300.5,232.8 301.5,236.1 298.7,234.1 295.9,236.1 296.9,232.8 294.1,230.7 297.6,230.6"/>
<polygon points="298.3,227 299.5,230.2 302.9,230.3 300.2,232.4 301.1,235.7 298.3,233.7 295.5,235.7 296.5,232.4 293.8,230.3 297.2,230.2"/>
<polygon points="297.9,226.6 299,229.8 302.4,229.9 299.7,232 300.7,235.3 297.9,233.3 295,235.3 296,232 293.3,229.9 296.7,229.8"/>
<polygon points="297.4,226.2 298.5,229.4 301.9,229.5 299.2,231.6 300.2,234.9 297.4,232.9 294.5,234.9 295.5,231.6 292.8,229.5 296.2,229.4"/>
<polygon points="296.4,225.8 297.6,229 301,229.1 298.3,231.2 299.2,234.5 296.4,232.5 293.6,234.5 294.6,231.2 291.9,229.1 295.3,229"/>
<polygon points="294.6,225.4 295.7,228.6 299.2,228.7 296.4,230.8 297.4,234.1 294.6,232.1 291.8,234.1 292.8,230.8 290,228.7 293.5,228.6"/>
<polygon points="294.7,225 295.8,228.2 299.3,228.3 296.5,230.4 297.5,233.7 294.7,231.7 291.9,233.7 292.9,230.4 290.2,228.3 293.6,228.2"/>
<polygon points="294.5,224.6 295.6,227.8 299.1,227.9 296.3,230 297.3,233.3 294.5,231.3 291.7,233.3 292.7,230 289.9,227.9 293.4,227.8"/>
<polygon points="293.4,224.2 294.5,227.4 297.9,227.5 295.2,229.6 296.2,232.9 293.4,230.9 290.5,232.9 291.5,229.6 288.8,227.5 292.2,227.4"/>
<polygon points="293.2,223.8 294.4,227 297.8,227.1 295.1,229.2 296.1,232.5 293.2,230.5 290.4,232.5 291.4,229.2 288.7,227.1 292.1,227"/>
<polygon points="291.9,223.4 293,226.6 296.4,226.7 293.7,228.8 294.7,232.1 291.9,230.1 289,232.1 290,228.8 287.3,226.7 290.7,226.6"/>
<polygon points="290.9,223 292,226.2 295.5,226.3 292.7,228.4 293.7,231.7 290.9,229.7 288.1,231.7 289.1,228.4 286.4,226.3 289.8,226.2"/>
<polygon points="291.2,222.6 292.4,225.8 295.8,225.9 293.1,228 294.1,231.3 291.2,229.3 288.4,231.3 289.4,228 286.7,225.9 290.1,225.8"/>
<polygon points="290.2,222.2 291.3,225.4 294.8,225.5 292,227.6 293,230.9 290.2,228.9 287.4,230.9 288.4,227.6 285.6,225.5 289.1,225.4"/>
<polygon points="289.2,221.8 290.4,225 293.8,225.1 291.1,227.2 292,230.5 289.2,228.5 286.4,230.5 287.4,227.2 284.7,225.1 288.1,225"/>
<polygon points="289.1,221.4 290.2,224.6 293.7,224.7 290.9,226.8 291.9,230.1 289.1,228.1 286.3,230.1 287.3,226.8 284.5,224.7 288,224.6"/>
<polygon points="288.5,221 289.6,224.2 293.1,224.3 290.3,226.4 291.3,229.7 288.5,227.7 285.7,229.7 286.7,226.4 283.9,224.3 287.4,224.2"/>
<polygon points="287.6,220.6 288.8,223.8 292.2,223.9 289.5,226 290.5,229.3 287.6,227.3 284.8,229.3 285.8,226 283.1,223.9 286.5,223.8"/>
<polygon points="285.1,220.2 286.2,223.4 289.7,223.5 286.9,225.6 287.9,228.9 285.1,226.9 282.3,228.9 283.3,225.6 280.5,223.5 284,223.4"/>
<polygon points="285.4,219.8 286.5,223.1 290,223.1 287.2,225.2 288.2,228.5 285.4,226.5 282.6,228.5 283.6,225.2 280.8,223.1 284.3,223.1"/>
<polygon points="285,219.4 286.2,222.7 289.6,222.7 286.8,224.8 287.8,228.1 285,226.1 282.2,228.1 283.2,224.8 280.5,222.7 283.9,222.7"/>
<polygon points="283.9,219 285.1,222.3 288.5,222.3 285.8,224.4 286.7,227.7 283.9,225.7 281.1,227.7 282.1,224.4 279.4,222.3 282.8,222.3"/>
<polygon points="283.8,218.6 284.9,221.9 288.4,221.9 285.6,224 286.6,227.3 283.8,225.3 281,227.3 282,224 279.2,221.9 282.7,221.9"/>
<polygon points="283.9,218.2 285,221.5 288.4,221.5 285.7,223.6 286.7,226.9 283.9,224.9 281,226.9 282,223.6 279.3,221.5 282.7,221.5"/>
<polygon points="282.1,217.8 283.2,221.1 286.6,221.1 283.9,223.2 284.9,226.5 282.1,224.5 279.3,226.5 280.3,223.2 277.5,221.1 280.9,221.1"/>
<polygon points="281,217.4 282.1,220.7 285.5,220.7 282.8,222.8 283.8,226.1 281,224.1 278.1,226.1 279.1,222.8 276.4,220.7 279.8,220.7"/>
<polygon points="281.8,217 282.9,220.3 286.4,220.3 283.6,222.4 284.6,225.7 281.8,223.7 279,225.7 280,222.4 277.2,220.3 280.7,220.3"/>
<polygon points="280.1,216.6 281.2,219.9 284.6,219.9 281.9,222 282.9,225.3 280.1,223.3 277.3,225.3 278.3,222 275.5,219.9 279,219.9"/>
<polygon points="279,216.2 280.1,219.5 283.6,219.5 280.8,221.6 281.8,224.9 279,222.9 276.2,224.9 277.2,221.6 274.4,219.5 277.9,219.5"/>
<polygon points="278.8,215.8 279.9,219.1 283.4,219.1 280.6,221.2 281.6,224.5 278.8,222.5 276,224.5 277,221.2 274.2,219.1 277.7,219.1"/>
<polygon points="278.2,215.4 279.4,218.7 282.8,218.7 280.1,220.8 281.1,224.1 278.2,222.1 275.4,224.1 276.4,220.8 273.7,218.7 277.1,218.7"/>
<polygon points="277.2,215 278.3,218.3 281.7,218.3 279,220.4 280,223.7 277.2,221.7 274.3,223.7 275.3,220.4 272.6,218.3 276,218.3"/>
<polygon points="277.2,214.6 278.3,217.9 281.7,217.9 279,220 280,223.3 277.2,221.3 274.4,223.3 275.4,220 272.6,217.9 276,217.9"/>
<polygon points="275.7,214.2 276.8,217.5 280.3,217.5 277.5,219.6 278.5,222.9 275.7,220.9 272.9,222.9 273.9,219.6 271.1,217.5 274.6,217.5"/>
<polygon points="274.9,213.8 276,217.1 279.5,217.1 276.7,219.2 277.7,222.5 274.9,220.5 272.1,222.5 273.1,219.2 270.4,217.1 273.8,217.1"/>
<polygon points="274.7,213.4 275.8,216.7 279.3,216.7 276.5,218.8 277.5,222.1 274.7,220.1 271.9,222.1 272.9,218.8 270.2,216.7 273.6,216.7"/>
<polygon points="274,213 275.1,216.3 278.6,216.3 275.8,218.4 276.8,221.7 274,219.7 271.2,221.7 272.2,218.4 269.4,216.3 272.9,216.3"/>
<polygon points="272.8,212.6 273.9,215.9 277.3,215.9 274.6,218 275.6,221.3 272.8,219.3 269.9,221.3 270.9,218 268.2,215.9 271.6,215.9"/>
<polygon points="272.6,212.2 273.7,215.5 277.2,215.5 274.4,217.6 275.4,220.9 272.6,218.9 269.8,220.9 270.8,217.6 268,215.5 271.5,215.5"/>
<polygon points="271.5,211.8 272.7,215.1 276.1,215.1 273.4,217.2 274.4,220.5 271.5,218.5 268.7,220.5 269.7,217.2 267,215.1 270.4,215.1"/>
<polygon points="272,211.4 273.1,214.7 276.6,214.7 273.8,216.8 274.8,220.1 272,218.1 269.2,220.1 270.2,216.8 267.4,214.7 270.9,214.7"/>
<polygon points="269.8,211 271,214.3 274.4,214.3 271.7,216.4 272.6,219.7 269.8,217.8 267,219.7 268,216.4 265.3,214.3 268.7,214.3"/>
<polygon points="270.2,210.6 271.3,213.9 274.8,213.9 272,216 273,219.3 270.2,217.4 267.4,219.3 268.4,216 265.6,213.9 269.1,213.9"/>
<polygon points="268.9,210.2 270,213.5 273.5,213.6 270.7,215.6 271.7,218.9 268.9,217 266.1,218.9 267.1,215.6 264.3,213.6 267.8,213.5"/>
<polygon points="267.7,209.8 268.8,213.1 272.2,213.2 269.5,215.2 270.5,218.5 267.7,216.6 264.9,218.5 265.9,215.2 263.1,213.2 266.6,213.1"/>
<polygon points="267.9,209.4 269.1,212.7 272.5,212.8 269.8,214.8 270.8,218.1 267.9,216.2 265.1,218.1 266.1,214.8 263.4,212.8 266.8,212.7"/>
<polygon points="266.8,209 268,212.3 271.4,212.4 268.7,214.4 269.7,217.7 266.8,215.8 264,217.7 265,214.4 262.3,212.4 265.7,212.3"/>
<polygon points="266.5,208.6 267.7,211.9 271.1,212 268.4,214 269.4,217.3 266.5,215.4 263.7,217.3 264.7,214 262,212 265.4,211.9"/>
<polygon points="265.4,208.2 266.5,211.5 270,211.6 267.2,213.6 268.2,216.9 265.4,215 262.6,216.9 263.6,213.6 260.8,211.6 264.3,211.5"/>
<polygon points="264.2,207.8 265.4,211.1 268.8,211.2 266.1,213.2 267.1,216.5 264.2,214.6 261.4,216.5 262.4,213.2 259.7,211.2 263.1,211.1"/>
<polygon points="263.4,207.4 264.6,210.7 268,210.8 265.3,212.8 266.3,216.1 263.4,214.2 260.6,216.1 261.6,212.8 258.9,210.8 262.3,210.7"/>
<polygon points="263,207 264.2,210.3 267.6,210.4 264.9,212.4 265.9,215.7 263,213.8 260.2,215.7 261.2,212.4 258.5,210.4 261.9,210.3"/>
<polygon points="262.6,206.6 263.7,209.9 267.1,210 264.4,212 265.4,215.3 262.6,213.4 259.8,215.3 260.8,212 258,210 261.4,209.9"/>
<polygon points="262.1,206.2 263.2,209.5 266.6,209.6 263.9,211.6 264.9,214.9 262.1,213 259.3,214.9 260.2,211.6 257.5,209.6 260.9,209.5"/>
<polygon points="260.7,205.8 261.8,209.1 265.3,209.2 262.5,211.2 263.5,214.5 260.7,212.6 257.9,214.5 258.9,211.2 256.1,209.2 259.6,209.1"/>
<polygon points="260.9,205.4 262.1,208.7 265.5,208.8 262.8,210.8 263.7,214.1 260.9,212.2 258.1,214.1 259.1,210.8 256.4,208.8 259.8,208.7"/>
<polygon points="260.2,205 261.3,208.3 264.7,208.4 262,210.4 263,213.7 260.2,211.8 257.3,213.7 258.3,210.4 255.6,208.4 259,208.3"/>
<polygon points="259,204.7 260.1,207.9 263.6,208 260.8,210 261.8,213.3 259,211.4 256.2,213.3 257.2,210 254.4,208 257.9,207.9"/>
<polygon points="257.2,204.3 258.3,207.5 261.8,207.6 259,209.6 260,212.9 257.2,211 254.4,212.9 255.4,209.6 252.6,207.6 256.1,207.5"/>
<polygon points="256.9,203.9 258.1,207.1 261.5,207.2 258.8,209.2 259.8,212.5 256.9,210.6 254.1,212.5 255.1,209.2 252.4,207.2 255.8,207.1"/>
<polygon points="256.1,203.5 257.3,206.7 260.7,206.8 258,208.8 259,212.1 256.1,210.2 253.3,212.1 254.3,208.8 251.6,206.8 255,206.7"/>
<polygon points="256.8,203.1 257.9,206.3 261.3,206.4 258.6,208.4 259.6,211.7 256.8,209.8 253.9,211.7 254.9,208.4 252.2,206.4 255.6,206.3"/>
<polygon points="254.8,202.6 255.9,205.9 259.3,206 256.6,208 257.6,211.3 254.8,209.4 251.9,211.3 252.9,208 250.2,206 253.6,205.9"/>
<polygon points="254.7,202.2 255.8,205.4 259.3,205.5 256.5,207.6 257.5,210.9 254.7,208.9 251.9,210.9 252.9,207.6 250.2,205.5 253.6,205.4"/>
<polygon points="253.7,201.7 254.8,204.9 258.2,205 255.5,207.1 256.5,210.4 253.7,208.4 250.9,210.4 251.9,207.1 249.1,205 252.6,204.9"/>
<polygon points="253,201.2 254.1,204.4 257.5,204.5 254.8,206.6 255.8,209.8 253,207.9 250.2,209.8 251.2,206.6 248.4,204.5 251.9,204.4"/>
<polygon points="251.7,200.6 252.8,203.8 256.3,203.9 253.5,206 254.5,209.3 251.7,207.3 248.9,209.3 249.9,206 247.1,203.9 250.6,203.8"/>
<polygon points="250.3,200 251.4,203.2 254.9,203.3 252.1,205.3 253.1,208.6 250.3,206.7 247.5,208.6 248.5,205.3 245.7,203.3 249.2,203.2"/>
<polygon points="248.9,199.3 250,202.5 253.5,202.6 250.7,204.7 251.7,208 248.9,206 246.1,208 247.1,204.7 244.3,202.6 247.8,202.5"/>
<polygon points="247.8,198.5 248.9,201.8 252.4,201.9 249.6,203.9 250.6,207.2 247.8,205.3 245,207.2 246,203.9 243.2,201.9 246.7,201.8"/>
<polygon points="246.4,197.7 247.5,201 250.9,201.1 248.2,203.1 249.2,206.4 246.4,204.5 243.6,206.4 244.6,203.1 241.8,201.1 245.3,201"/>
<polygon points="244.7,196.9 245.9,200.1 249.3,200.2 246.6,202.3 247.6,205.6 244.7,203.6 241.9,205.6 242.9,202.3 240.2,200.2 243.6,200.1"/>
<polygon points="243.1,196 244.2,199.2 247.7,199.3 244.9,201.3 245.9,204.6 243.1,202.7 240.3,204.6 241.3,201.3 238.5,199.3 242,199.2"/>
<polygon points="241.6,194.9 242.7,198.2 246.1,198.3 243.4,200.3 244.4,203.6 241.6,201.7 238.8,203.6 239.8,200.3 237,198.3 240.5,198.2"/>
<polygon points="238.1,193.8 239.3,197.1 242.7,197.2 239.9,199.2 240.9,202.5 238.1,200.6 235.3,202.5 236.3,199.2 233.6,197.2 237,197.1"/>
<polygon points="236.2,193 237.3,196.2 240.7,196.3 238,198.4 239,201.7 236.2,199.7 233.4,201.7 234.4,198.4 231.6,196.3 235.1,196.2"/>
<polygon points="220.1,185.2 221.3,188.4 224.7,188.5 222,190.6 223,193.9 220.1,191.9 217.3,193.9 218.3,190.6 215.6,188.5 219,188.4"/>
<polygon points="205.3,177.4 206.4,180.7 209.8,180.7 207.1,182.8 208.1,186.1 205.3,184.1 202.5,186.1 203.5,182.8 200.7,180.7 204.1,180.7"/>
<polygon points="187.1,169.6 188.2,172.9 191.7,172.9 188.9,175 189.9,178.3 187.1,176.3 184.3,178.3 185.3,175 182.5,172.9 186,172.9"/>
<polygon points="175.2,161.8 176.3,165.1 179.8,165.1 177,167.2 178,170.5 175.2,168.5 172.4,170.5 173.4,167.2 170.6,165.1 174.1,165.1"/>
<polygon points="158.1,154 159.2,157.3 162.7,157.4 159.9,159.4 160.9,162.7 158.1,160.8 155.3,162.7 156.3,159.4 153.5,157.4 157,157.3"/>
<polygon points="146.9,146.2 148,149.5 151.4,149.6 148.7,151.6 149.7,154.9 146.9,153 144,154.9 145,151.6 142.3,149.6 145.7,149.5"/>
<polygon points="132,138.5 133.2,141.7 136.6,141.8 133.9,143.8 134.9,147.1 132,145.2 129.2,147.1 130.2,143.8 127.5,141.8 130.9,141.7"/>
<polygon points="119.2,130.7 120.3,133.9 123.7,134 121,136.1 122,139.3 119.2,137.4 116.3,139.3 117.3,136.1 114.6,134 118,133.9"/>
<polygon points="108,122.9 109.1,126.1 112.6,126.2 109.8,128.3 110.8,131.6 108,129.6 105.2,131.6 106.2,128.3 103.5,126.2 106.9,126.1"/>
<polygon points="98.1,115.1 99.3,118.3 102.7,118.4 100,120.5 101,123.8 98.1,121.8 95.3,123.8 96.3,120.5 93.6,118.4 97,118.3"/>
<polygon points="91.1,107.3 92.2,110.5 95.6,110.6 92.9,112.7 93.9,116 91.1,114 88.3,116 89.3,112.7 86.5,110.6 90,110.5"/>
<polygon points="82.7,99.5 83.8,102.7 87.2,102.8 84.5,104.9 85.5,108.2 82.7,106.2 79.8,108.2 80.8,104.9 78.1,102.8 81.5,102.7"/>
<polygon points="76.1,91.7 77.2,95 80.7,95 77.9,97.1 78.9,100.4 76.1,98.4 73.3,100.4 74.3,97.1 71.5,95 75,95"/>
<polygon points="71.1,83.9 72.2,87.2 75.7,87.2 72.9,89.3 73.9,92.6 71.1,90.6 68.3,92.6 69.3,89.3 66.6,87.2 70,87.2"/>
<polygon points="67.1,76.1 68.2,79.4 71.6,79.4 68.9,81.5 69.9,84.8 67.1,82.8 64.3,84.8 65.3,81.5 62.5,79.4 65.9,79.4"/>
<polygon points="62.5,68.3 63.6,71.6 67.1,71.6 64.3,73.7 65.3,77 62.5,75.1 59.7,77 60.7,73.7 57.9,71.6 61.4,71.6"/>
<polygon points="62.1,60.5 63.2,63.8 66.7,63.9 63.9,65.9 64.9,69.2 62.1,67.3 59.3,69.2 60.3,65.9 57.5,63.9 61,63.8"/>
<polygon points="59.8,52.7 60.9,56 64.4,56.1 61.6,58.1 62.6,61.4 59.8,59.5 57,61.4 58,58.1 55.2,56.1 58.7,56"/>
<polygon points="57.5,45 58.6,48.2 62.1,48.3 59.3,50.3 60.3,53.6 57.5,51.7 54.7,53.6 55.7,50.3 52.9,48.3 56.4,48.2"/>
<polygon points="57.2,37.2 58.3,40.4 61.7,40.5 59,42.6 60,45.8 57.2,43.9 54.3,45.8 55.3,42.6 52.6,40.5 56,40.4"/>
<polygon points="55.8,29.4 56.9,32.6 60.3,32.7 57.6,34.8 58.6,38.1 55.8,36.1 52.9,38.1 53.9,34.8 51.2,32.7 54.6,32.6"/>
<polygon points="54.2,21.6 55.3,24.8 58.8,24.9 56,27 57,30.3 54.2,28.3 51.4,30.3 52.4,27 49.6,24.9 53.1,24.8"/>
<polygon points="53.6,13.8 54.8,17 58.2,17.1 55.5,19.2 56.5,22.5 53.6,20.5 50.8,22.5 51.8,19.2 49.1,17.1 52.5,17"/>
</g>
<g fill="none" stroke="#ff00ff" stroke-width="1.5">
<rect x="137.3" y="250.2" width="4.2" height="4.2"/>
<rect x="140.8" y="250.2" width="4.2" height="4.2"/>
<rect x="143.9" y="250.1" width="4.2" height="4.2"/>
<rect x="146.2" y="250.1" width="4.2" height="4.2"/>
<rect x="148.6" y="250.1" width="4.2" height="4.2"/>
<rect x="150.8" y="250.1" width="4.2" height="4.2"/>
<rect x="153.4" y="250.1" width="4.2" height="4.2"/>
<rect x="154.6" y="250" width="4.2" height="4.2"/>
<rect x="157.2" y="250" width="4.2" height="4.2"/>
<rect x="160" y="250" width="4.2" height="4.2"/>
<rect x="161.2" y="250" width="4.2" height="4.2"/>
<rect x="163.3" y="250" width="4.2" height="4.2"/>
<rect x="165.1" y="249.9" width="4.2" height="4.2"/>
<rect x="167.5" y="249.9" width="4.2" height="4.2"/>
<rect x="169.4" y="249.9" width="4.2" height="4.2"/>
<rect x="170.7" y="249.9" width="4.2" height="4.2"/>
<rect x="170.9" y="249.9" width="4.2" height="4.2"/>
<rect x="173.2" y="249.8" width="4.2" height="4.2"/>
<rect x="175.4" y="249.8" width="4.2" height="4.2"/>
<rect x="175.9" y="249.8" width="4.2" height="4.2"/>
<rect x="177.9" y="249.8" width="4.2" height="4.2"/>
<rect x="179.5" y="249.8" width="4.2" height="4.2"/>
<rect x="180.6" y="249.7" width="4.2" height="4.2"/>
<rect x="182.2" y="249.7" width="4.2" height="4.2"/>
<rect x="183.4" y="249.7" width="4.2" height="4.2"/>
<rect x="183.9" y="249.7" width="4.2" height="4.2"/>
<rect x="185.3" y="249.7" width="4.2" height="4.2"/>
<rect x="186.5" y="249.6" width="4.2" height="4.2"/>
<rect x="187.9" y="249.6" width="4.2" height="4.2"/>
<rect x="188.2" y="249.6" width="4.2" height="4.2"/>
<rect x="191.4" y="249.5" width="4.2" height="4.2"/>
<rect x="196.8" y="249.4" width="4.2" height="4.2"/>
<rect x="204.3" y="249.2" width="4.2" height="4.2"/>
<rect x="213.6" y="249.1" width="4.2" height="4.2"/>
<rect x="220.7" y="248.9" width="4.2" height="4.2"/>
<rect x="228.7" y="248.8" width="4.2" height="4.2"/>
<rect x="235.7" y="248.6" width="4.2" height="4.2"/>
<rect x="242.4" y="248.5" width="4.2" height="4.2"/>
<rect x="248.4" y="248.3" width="4.2" height="4.2"/>
<rect x="252.6" y="248.2" width="4.2" height="4.2"/>
<rect x="258" y="248" width="4.2" height="4.2"/>
<rect x="260.6" y="247.9" width="4.2" height="4.2"/>
<rect x="264.1" y="247.7" width="4.2" height="4.2"/>
<rect x="267.2" y="247.6" width="4.2" height="4.2"/>
<rect x="270" y="247.4" width="4.2" height="4.2"/>
<rect x="270.8" y="247.3" width="4.2" height="4.2"/>
<rect x="274.6" y="247.1" width="4.2" height="4.2"/>
<rect x="276.3" y="247" width="4.2" height="4.2"/>
<rect x="278.2" y="246.8" width="4.2" height="4.2"/>
<rect x="278.9" y="246.7" width="4.2" height="4.2"/>
<rect x="283.4" y="246.5" width="4.2" height="4.2"/>
<rect x="284.5" y="246.4" width="4.2" height="4.2"/>
<rect x="286.4" y="246.2" width="4.2" height="4.2"/>
<rect x="296" y="245.6" width="4.2" height="4.2"/>
<rect x="301.6" y="244.8" width="4.2" height="4.2"/>
<rect x="306.9" y="244" width="4.2" height="4.2"/>
<rect x="310.6" y="243.2" width="4.2" height="4.2"/>
<rect x="314.2" y="242.4" width="4.2" height="4.2"/>
<rect x="317.9" y="241.6" width="4.2" height="4.2"/>
<rect x="320.5" y="240.8" width="4.2" height="4.2"/>
<rect x="323.1" y="240.1" width="4.2" height="4.2"/>
<rect x="325.7" y="239.3" width="4.2" height="4.2"/>
<rect x="327.2" y="238.9" width="4.2" height="4.2"/>
<rect x="328.3" y="238.5" width="4.2" height="4.2"/>
<rect x="329.6" y="238.1" width="4.2" height="4.2"/>
<rect x="329.1" y="237.7" width="4.2" height="4.2"/>
<rect x="330.1" y="237.3" width="4.2" height="4.2"/>
<rect x="330.7" y="236.9" width="4.2" height="4.2"/>
<rect x="332.4" y="236.5" width="4.2" height="4.2"/>
<rect x="331.3" y="236.1" width="4.2" height="4.2"/>
<rect x="334" y="235.7" width="4.2" height="4.2"/>
<rect x="333.3" y="235.3" width="4.2" height="4.2"/>
<rect x="333.7" y="234.9" width="4.2" height="4.2"/>
<rect x="334.3" y="234.5" width="4.2" height="4.2"/>
<rect x="334.9" y="234.1" width="4.2" height="4.2"/>
<rect x="334.9" y="233.7" width="4.2" height="4.2"/>
<rect x="335.2" y="233.3" width="4.2" height="4.2"/>
<rect x="334.7" y="232.9" width="4.2" height="4.2"/>
<rect x="335.7" y="232.5" width="4.2" height="4.2"/>
<rect x="335.6" y="232.1" width="4.2" height="4.2"/>
<rect x="334.7" y="231.7" width="4.2" height="4.2"/>
<rect x="335.8" y="231.3" width="4.2" height="4.2"/>
<rect x="334.8" y="230.9" width="4.2" height="4.2"/>
<rect x="335.1" y="230.5" width="4.2" height="4.2"/>
<rect x="334.4" y="230.1" width="4.2" height="4.2"/>
<rect x="334.3" y="229.7" width="4.2" height="4.2"/>
<rect x="334.7" y="229.3" width="4.2" height="4.2"/>
<rect x="333.1" y="228.9" width="4.2" height="4.2"/>
<rect x="333.9" y="228.5" width="4.2" height="4.2"/>
<rect x="333.1" y="228.1" width="4.2" height="4.2"/>
<rect x="332.8" y="227.7" width="4.2" height="4.2"/>
<rect x="330.5" y="227.3" width="4.2" height="4.2"/>
<rect x="331.4" y="226.9" width="4.2" height="4.2"/>
<rect x="331.4" y="226.5" width="4.2" height="4.2"/>
<rect x="329.9" y="226.1" width="4.2" height="4.2"/>
<rect x="329.8" y="225.7" width="4.2" height="4.2"/>
<rect x="327.4" y="225.3" width="4.2" height="4.2"/>
<rect x="328.5" y="224.9" width="4.2" height="4.2"/>
<rect x="326.8" y="224.5" width="4.2" height="4.2"/>
<rect x="326.7" y="224.1" width="4.2" height="4.2"/>
<rect x="324.1" y="223.7" width="4.2" height="4.2"/>
<rect x="324.7" y="223.3" width="4.2" height="4.2"/>
<rect x="323.4" y="222.9" width="4.2" height="4.2"/>
<rect x="322.9" y="222.5" width="4.2" height="4.2"/>
<rect x="321.1" y="222.1" width="4.2" height="4.2"/>
<rect x="320.5" y="221.7" width="4.2" height="4.2"/>
<rect x="321.3" y="221.3" width="4.2" height="4.2"/>
<rect x="318.7" y="220.9" width="4.2" height="4.2"/>
<rect x="317.7" y="220.5" width="4.2" height="4.2"/>
<rect x="316.9" y="220.1" width="4.2" height="4.2"/>
<rect x="315.8" y="219.7" width="4.2" height="4.2"/>
<rect x="316.1" y="219.3" width="4.2" height="4.2"/>
<rect x="315.5" y="218.9" width="4.2" height="4.2"/>
<rect x="313.1" y="218.5" width="4.2" height="4.2"/>
<rect x="311.7" y="218.1" width="4.2" height="4.2"/>
<rect x="312.4" y="217.7" width="4.2" height="4.2"/>
<rect x="311.4" y="217.3" width="4.2" height="4.2"/>
<rect x="310.3" y="216.9" width="4.2" height="4.2"/>
<rect x="309.5" y="216.5" width="4.2" height="4.2"/>
<rect x="307.4" y="216.1" width="4.2" height="4.2"/>
<rect x="306.9" y="215.7" width="4.2" height="4.2"/>
<rect x="305.4" y="215.3" width="4.2" height="4.2"/>
<rect x="304.2" y="214.9" width="4.2" height="4.2"/>
<rect x="304.9" y="214.5" width="4.2" height="4.2"/>
<rect x="302.8" y="214.1" width="4.2" height="4.2"/>
<rect x="303.6" y="213.7" width="4.2" height="4.2"/>
<rect x="301.4" y="213.3" width="4.2" height="4.2"/>
<rect x="300" y="212.9" width="4.2" height="4.2"/>
<rect x="300.2" y="212.5" width="4.2" height="4.2"/>
<rect x="299.5" y="212.1" width="4.2" height="4.2"/>
<rect x="297.8" y="211.7" width="4.2" height="4.2"/>
<rect x="296" y="211.3" width="4.2" height="4.2"/>
<rect x="296" y="210.9" width="4.2" height="4.2"/>
<rect x="295.9" y="210.5" width="4.2" height="4.2"/>
<rect x="293.8" y="210.1" width="4.2" height="4.2"/>
<rect x="292.8" y="209.7" width="4.2" height="4.2"/>
<rect x="292.6" y="209.3" width="4.2" height="4.2"/>
<rect x="291.5" y="208.9" width="4.2" height="4.2"/>
<rect x="290" y="208.5" width="4.2" height="4.2"/>
<rect x="289.6" y="208.1" width="4.2" height="4.2"/>
<rect x="288.2" y="207.7" width="4.2" height="4.2"/>
<rect x="288" y="207.4" width="4.2" height="4.2"/>
<rect x="287" y="207" width="4.2" height="4.2"/>
<rect x="286.5" y="206.6" width="4.2" height="4.2"/>
<rect x="285.5" y="206.2" width="4.2" height="4.2"/>
<rect x="283.5" y="205.8" width="4.2" height="4.2"/>
<rect x="283.3" y="205.3" width="4.2" height="4.2"/>
<rect x="282.9" y="204.9" width="4.2" height="4.2"/>
<rect x="281.6" y="204.4" width="4.2" height="4.2"/>
<rect x="280.6" y="203.9" width="4.2" height="4.2"/>
<rect x="278.5" y="203.3" width="4.2" height="4.2"/>
<rect x="277.2" y="202.7" width="4.2" height="4.2"/>
<rect x="276.5" y="202" width="4.2" height="4.2"/>
<rect x="274" y="201.2" width="4.2" height="4.2"/>
<rect x="271.8" y="200.4" width="4.2" height="4.2"/>
<rect x="271.1" y="199.6" width="4.2" height="4.2"/>
<rect x="268.3" y="198.7" width="4.2" height="4.2"/>
<rect x="266" y="197.6" width="4.2" height="4.2"/>
<rect x="262.9" y="196.5" width="4.2" height="4.2"/>
<rect x="261.9" y="195.7" width="4.2" height="4.2"/>
<rect x="243.2" y="187.9" width="4.2" height="4.2"/>
<rect x="227.4" y="180.1" width="4.2" height="4.2"/>
<rect x="207" y="172.3" width="4.2" height="4.2"/>
<rect x="190.6" y="164.5" width="4.2" height="4.2"/>
<rect x="173.9" y="156.7" width="4.2" height="4.2"/>
<rect x="158" y="148.9" width="4.2" height="4.2"/>
<rect x="139.3" y="141.2" width="4.2" height="4.2"/>
<rect x="126.9" y="133.4" width="4.2" height="4.2"/>
<rect x="113.1" y="125.6" width="4.2" height="4.2"/>
<rect x="104.2" y="117.8" width="4.2" height="4.2"/>
<rect x="95.8" y="110" width="4.2" height="4.2"/>
<rect x="86.2" y="102.2" width="4.2" height="4.2"/>
<rect x="78.8" y="94.4" width="4.2" height="4.2"/>
<rect x="72.3" y="86.6" width="4.2" height="4.2"/>
<rect x="67.2" y="78.8" width="4.2" height="4.2"/>
<rect x="63.5" y="71" width="4.2" height="4.2"/>
<rect x="61.7" y="63.2" width="4.2" height="4.2"/>
<rect x="59.6" y="55.4" width="4.2" height="4.2"/>
<rect x="57.7" y="47.7" width="4.2" height="4.2"/>
<rect x="55.2" y="39.9" width="4.2" height="4.2"/>
<rect x="54.3" y="32.1" width="4.2" height="4.2"/>
<rect x="53.2" y="24.3" width="4.2" height="4.2"/>
<rect x="52.4" y="16.5" width="4.2" height="4.2"/>
</g>
</g>
<text x="35.2" y="267.2" font-family="Liberation Sans, sans-serif" font-size="10.6" text-anchor="middle" fill="#000">0</text>
<text x="94.7" y="267.2" font-family="Liberation Sans, sans-serif" font-size="10.6" text-anchor="middle" fill="#000">2</text>
<text x="155.2" y="267.2" font-family="Liberation Sans, sans-serif" font-size="10.6" text-anchor="middle" fill="#000">4</text>
<text x="215.7" y="267.2" font-family="Liberation Sans, sans-serif" font-size="10.6" text-anchor="middle" fill="#000">6</text>
<text x="276.2" y="267.2" font-family="Liberation Sans, sans-serif" font-size="10.6" text-anchor="middle" fill="#000">8</text>
<text x="336.7" y="267.2" font-family="Liberation Sans, sans-serif" font-size="10.6" text-anchor="middle" fill="#000">10</text>
<text x="30.4" y="257.3" font-family="Liberation Sans, sans-serif" font-size="10.6" text-anchor="end" fill="#000">0</text>
<text x="30.4" y="226.6" font-family="Liberation Sans, sans-serif" font-size="10.6" text-anchor="end" fill="#000">5</text>
<text x="30.4" y="196" font-family="Liberation Sans, sans-serif" font-size="10.6" text-anchor="end" fill="#000">10</text>
<text x="30.4" y="165.3" font-family="Liberation Sans, sans-serif" font-size="10.6" text-anchor="end" fill="#000">15</text>
<text x="30.4" y="134.6" font-family="Liberation Sans, sans-serif" font-size="10.6" text-anchor="end" fill="#000">20</text>
<text x="30.4" y="103.9" font-family="Liberation Sans, sans-serif" font-size="10.6" text-anchor="end" fill="#000">25</text>
<text x="30.4" y="73.3" font-family="Liberation Sans, sans-serif" font-size="10.6" text-anchor="end" fill="#000">30</text>
<text x="30.4" y="42.6" font-family="Liberation Sans, sans-serif" font-size="10.6" text-anchor="end" fill="#000">35</text>
<text x="30.4" y="11.9" font-family="Liberation Sans, sans-serif" font-size="10.6" text-anchor="end" fill="#000">40</text>
<rect x="149.6" y="9.4" width="193.1" height="117.2" fill="#fff"/>
<g stroke="#8a8a8a" stroke-width="0.8" stroke-dasharray="1 2" fill="none">
<line x1="154" y1="9.4" x2="154" y2="126.6"/>
<line x1="180.7" y1="9.4" x2="180.7" y2="126.6"/>
<line x1="207.4" y1="9.4" x2="207.4" y2="126.6"/>
<line x1="234.1" y1="9.4" x2="234.1" y2="126.6"/>
<line x1="260.8" y1="9.4" x2="260.8" y2="126.6"/>
<line x1="287.5" y1="9.4" x2="287.5" y2="126.6"/>
<line x1="314.2" y1="9.4" x2="314.2" y2="126.6"/>
<line x1="340.9" y1="9.4" x2="340.9" y2="126.6"/>
<line x1="149.6" y1="121.7" x2="342.7" y2="121.7"/>
<line x1="149.6" y1="96.9" x2="342.7" y2="96.9"/>
<line x1="149.6" y1="72.1" x2="342.7" y2="72.1"/>
<line x1="149.6" y1="47.3" x2="342.7" y2="47.3"/>
<line x1="149.6" y1="22.5" x2="342.7" y2="22.5"/>
</g>
<clipPath id="ci"><rect x="149.6" y="9.4" width="193.1" height="117.2"/></clipPath>
<g clip-path="url(#ci)">
<line x1="154" y1="121.7" x2="279" y2="-2.3" stroke="#ff0000" stroke-width="1.4"/>
<line x1="154" y1="121.7" x2="311.5" y2="-2.3" stroke="#0000ff" stroke-width="1.4"/>
<line x1="154" y1="121.7" x2="344.9" y2="-2.3" stroke="#000000" stroke-width="1.4"/>
<line x1="154" y1="121.7" x2="387.3" y2="-2.3" stroke="#ff00ff" stroke-width="1.4"/>
<g fill="none" stroke="#ff0000" stroke-width="1.5">
<circle cx="196.7" cy="80" r="2.5"/>
<circle cx="197" cy="79.4" r="2.5"/>
<circle cx="197.7" cy="79" r="2.5"/>
<circle cx="197.8" cy="78.7" r="2.5"/>
<circle cx="198.6" cy="78" r="2.5"/>
<circle cx="199.4" cy="77.6" r="2.5"/>
<circle cx="199.7" cy="76.8" r="2.5"/>
<circle cx="200.8" cy="76" r="2.5"/>
<circle cx="200.6" cy="75.9" r="2.5"/>
<circle cx="201.6" cy="75.4" r="2.5"/>
<circle cx="202.2" cy="74.6" r="2.5"/>
<circle cx="202.6" cy="74.1" r="2.5"/>
<circle cx="203.3" cy="73.6" r="2.5"/>
<circle cx="203.6" cy="73.3" r="2.5"/>
<circle cx="204.8" cy="72.6" r="2.5"/>
<circle cx="205.3" cy="71.9" r="2.5"/>
<circle cx="205.5" cy="71.8" r="2.5"/>
<circle cx="206" cy="71.1" r="2.5"/>
<circle cx="206.6" cy="70.9" r="2.5"/>
<circle cx="207.3" cy="70.2" r="2.5"/>
<circle cx="207.9" cy="69.8" r="2.5"/>
<circle cx="208.2" cy="68.9" r="2.5"/>
<circle cx="208.9" cy="68.6" r="2.5"/>
<circle cx="209.3" cy="67.7" r="2.5"/>
<circle cx="209.8" cy="67.2" r="2.5"/>
<circle cx="210.1" cy="66.7" r="2.5"/>
<circle cx="211.2" cy="66.8" r="2.5"/>
<circle cx="211.5" cy="65.8" r="2.5"/>
<circle cx="212.5" cy="65.1" r="2.5"/>
<circle cx="212.8" cy="64.5" r="2.5"/>
<circle cx="213.1" cy="64.4" r="2.5"/>
<circle cx="213.8" cy="63.6" r="2.5"/>
<circle cx="214.1" cy="63.2" r="2.5"/>
<circle cx="215" cy="62.6" r="2.5"/>
<circle cx="215.2" cy="61.6" r="2.5"/>
<circle cx="215.9" cy="61.6" r="2.5"/>
<circle cx="215.9" cy="60.8" r="2.5"/>
<circle cx="216.8" cy="60.1" r="2.5"/>
<circle cx="217.3" cy="59.9" r="2.5"/>
<circle cx="217.4" cy="59.2" r="2.5"/>
<circle cx="218.1" cy="58.7" r="2.5"/>
<circle cx="218.8" cy="58.1" r="2.5"/>
<circle cx="219.7" cy="57.9" r="2.5"/>
<circle cx="220.1" cy="57.1" r="2.5"/>
<circle cx="220.2" cy="56.2" r="2.5"/>
<circle cx="220.7" cy="56.4" r="2.5"/>
<circle cx="221.2" cy="55.3" r="2.5"/>
<circle cx="222.2" cy="54.9" r="2.5"/>
<circle cx="222.5" cy="54.6" r="2.5"/>
<circle cx="223" cy="53.4" r="2.5"/>
<circle cx="223.6" cy="53.2" r="2.5"/>
<circle cx="224.2" cy="53.1" r="2.5"/>
<circle cx="224.3" cy="52.3" r="2.5"/>
<circle cx="225" cy="51.6" r="2.5"/>
<circle cx="225.4" cy="51.3" r="2.5"/>
<circle cx="225.7" cy="50.5" r="2.5"/>
<circle cx="226.9" cy="50.2" r="2.5"/>
<circle cx="226.9" cy="49.4" r="2.5"/>
<circle cx="228" cy="48.7" r="2.5"/>
<circle cx="228.3" cy="48.7" r="2.5"/>
<circle cx="230.2" cy="46.1" r="2.5"/>
<circle cx="235.7" cy="40.7" r="2.5"/>
<circle cx="241.8" cy="35.4" r="2.5"/>
<circle cx="245.3" cy="30.1" r="2.5"/>
<circle cx="249.5" cy="24.7" r="2.5"/>
<circle cx="253" cy="19.4" r="2.5"/>
<circle cx="255.2" cy="14.1" r="2.5"/>
</g>
<g fill="none" stroke="#0000ff" stroke-width="1.5">
<polygon points="214,71.6 217,77.2 210.9,77.2"/>
<polygon points="214.5,71.1 217.5,76.7 211.4,76.7"/>
<polygon points="215,70.7 218,76.3 212,76.3"/>
<polygon points="215.7,69.7 218.7,75.4 212.6,75.4"/>
<polygon points="216.8,69.3 219.8,74.9 213.7,74.9"/>
<polygon points="217.3,69.3 220.3,74.9 214.2,74.9"/>
<polygon points="217.7,69 220.7,74.6 214.6,74.6"/>
<polygon points="218.3,68.3 221.3,73.9 215.3,73.9"/>
<polygon points="219.2,67.4 222.3,73 216.2,73"/>
<polygon points="218.8,68 221.9,73.6 215.8,73.6"/>
<polygon points="220.3,66.7 223.3,72.3 217.2,72.3"/>
<polygon points="220.9,66.7 224,72.3 217.9,72.3"/>
<polygon points="221.5,65.7 224.6,71.3 218.5,71.3"/>
<polygon points="222.3,65.8 225.4,71.4 219.3,71.4"/>
<polygon points="222.6,65.1 225.6,70.8 219.6,70.8"/>
<polygon points="223.1,65 226.2,70.6 220.1,70.6"/>
<polygon points="223.9,64.4 226.9,70 220.9,70"/>
<polygon points="224.5,63.4 227.6,69 221.5,69"/>
<polygon points="224.8,63.1 227.9,68.7 221.8,68.7"/>
<polygon points="225.1,63 228.2,68.6 222.1,68.6"/>
<polygon points="226.3,62.6 229.3,68.2 223.3,68.2"/>
<polygon points="227.2,62.5 230.2,68.1 224.1,68.1"/>
<polygon points="227.4,61.6 230.4,67.2 224.3,67.2"/>
<polygon points="227.8,61.1 230.8,66.7 224.7,66.7"/>
<polygon points="228,60.7 231,66.3 224.9,66.3"/>
<polygon points="229.3,60.2 232.3,65.8 226.2,65.8"/>
<polygon points="229.4,60.1 232.4,65.7 226.3,65.7"/>
<polygon points="229.6,59.4 232.7,65 226.6,65"/>
<polygon points="230.4,58.9 233.5,64.5 227.4,64.5"/>
<polygon points="230.7,58.1 233.7,63.7 227.6,63.7"/>
<polygon points="231.3,57.6 234.3,63.2 228.2,63.2"/>
<polygon points="232.1,57.6 235.2,63.2 229.1,63.2"/>
<polygon points="233.2,57.3 236.2,62.9 230.1,62.9"/>
<polygon points="232.9,56.7 235.9,62.3 229.9,62.3"/>
<polygon points="233.7,56.4 236.7,62 230.6,62"/>
<polygon points="234.8,56 237.8,61.6 231.7,61.6"/>
<polygon points="235.1,55.4 238.1,61 232.1,61"/>
<polygon points="235.1,55.2 238.1,60.8 232,60.8"/>
<polygon points="236,54.3 239,59.9 232.9,59.9"/>
<polygon points="236.2,54.1 239.2,59.7 233.1,59.7"/>
<polygon points="236.8,53.5 239.9,59.1 233.8,59.1"/>
<polygon points="237.5,53.2 240.5,58.8 234.4,58.8"/>
<polygon points="238.2,52.9 241.2,58.5 235.2,58.5"/>
<polygon points="238.4,52.5 241.5,58.1 235.4,58.1"/>
<polygon points="239.4,51.9 242.4,57.5 236.3,57.5"/>
<polygon points="239.1,51.5 242.2,57.1 236.1,57.1"/>
<polygon points="239.8,50.9 242.9,56.5 236.8,56.5"/>
<polygon points="240.7,50.5 243.7,56.1 237.7,56.1"/>
<polygon points="241,50.4 244.1,56 238,56"/>
<polygon points="241.9,49.6 244.9,55.2 238.8,55.2"/>
<polygon points="242.1,49.5 245.2,55.1 239.1,55.1"/>
<polygon points="242.3,48.9 245.3,54.5 239.2,54.5"/>
<polygon points="243.1,48.4 246.2,54 240.1,54"/>
<polygon points="243.2,48.4 246.2,54 240.1,54"/>
<polygon points="243.7,47.4 246.8,53 240.7,53"/>
<polygon points="244.6,46.9 247.6,52.5 241.5,52.5"/>
<polygon points="244.9,46.6 248,52.2 241.9,52.2"/>
<polygon points="245.8,46.2 248.8,51.8 242.8,51.8"/>
<polygon points="245.9,45.7 248.9,51.4 242.9,51.4"/>
<polygon points="246.7,45.5 249.8,51.1 243.7,51.1"/>
<polygon points="249.4,42.7 252.5,48.3 246.4,48.3"/>
<polygon points="254.7,37.2 257.7,42.8 251.7,42.8"/>
<polygon points="261,31.6 264,37.2 258,37.2"/>
<polygon points="266.1,26 269.1,31.6 263,31.6"/>
<polygon points="271.5,20.4 274.5,26 268.5,26"/>
<polygon points="275.8,14.8 278.8,20.4 272.8,20.4"/>
<polygon points="279.3,9.3 282.3,14.9 276.3,14.9"/>
</g>
<g fill="#000000" stroke="none">
<polygon points="230.9,67.6 232,70.8 235.5,70.9 232.7,72.9 233.7,76.2 230.9,74.3 228.1,76.2 229.1,72.9 226.3,70.9 229.8,70.8"/>
<polygon points="231.3,66.7 232.4,69.9 235.8,70 233.1,72.1 234.1,75.3 231.3,73.4 228.5,75.3 229.5,72.1 226.7,70 230.1,69.9"/>
<polygon points="231.9,66.6 233,69.8 236.5,69.9 233.7,72 234.7,75.2 231.9,73.3 229.1,75.2 230.1,72 227.3,69.9 230.8,69.8"/>
<polygon points="232.9,66.3 234,69.6 237.4,69.6 234.7,71.7 235.7,75 232.9,73 230.1,75 231,71.7 228.3,69.6 231.7,69.6"/>
<polygon points="234.1,65.6 235.2,68.9 238.6,68.9 235.9,71 236.9,74.3 234.1,72.3 231.3,74.3 232.2,71 229.5,68.9 232.9,68.9"/>
<polygon points="234,65.5 235.2,68.8 238.6,68.8 235.9,70.9 236.9,74.2 234,72.2 231.2,74.2 232.2,70.9 229.5,68.8 232.9,68.8"/>
<polygon points="235.4,65.1 236.5,68.4 239.9,68.4 237.2,70.5 238.2,73.8 235.4,71.9 232.5,73.8 233.5,70.5 230.8,68.4 234.2,68.4"/>
<polygon points="236.3,64.9 237.4,68.1 240.8,68.2 238.1,70.3 239.1,73.6 236.3,71.6 233.4,73.6 234.4,70.3 231.7,68.2 235.1,68.1"/>
<polygon points="237.2,64.1 238.3,67.4 241.7,67.4 239,69.5 240,72.8 237.2,70.8 234.4,72.8 235.4,69.5 232.6,67.4 236.1,67.4"/>
<polygon points="236.9,63.6 238,66.8 241.5,66.9 238.7,69 239.7,72.3 236.9,70.3 234.1,72.3 235.1,69 232.3,66.9 235.8,66.8"/>
<polygon points="238,63.1 239.1,66.3 242.6,66.4 239.8,68.4 240.8,71.7 238,69.8 235.2,71.7 236.2,68.4 233.4,66.4 236.9,66.3"/>
<polygon points="239,62.9 240.1,66.2 243.5,66.3 240.8,68.3 241.8,71.6 239,69.7 236.2,71.6 237.2,68.3 234.4,66.3 237.8,66.2"/>
<polygon points="239.4,62.2 240.6,65.5 244,65.6 241.3,67.6 242.3,70.9 239.4,69 236.6,70.9 237.6,67.6 234.9,65.6 238.3,65.5"/>
<polygon points="240,62.1 241.1,65.4 244.5,65.4 241.8,67.5 242.8,70.8 240,68.8 237.2,70.8 238.2,67.5 235.4,65.4 238.9,65.4"/>
<polygon points="241,61.7 242.2,65 245.6,65 242.9,67.1 243.9,70.4 241,68.5 238.2,70.4 239.2,67.1 236.5,65 239.9,65"/>
<polygon points="241.3,61.2 242.4,64.4 245.8,64.5 243.1,66.6 244.1,69.9 241.3,67.9 238.4,69.9 239.4,66.6 236.7,64.5 240.1,64.4"/>
<polygon points="242.3,60.6 243.5,63.9 246.9,64 244.2,66 245.2,69.3 242.3,67.4 239.5,69.3 240.5,66 237.8,64 241.2,63.9"/>
<polygon points="243.5,60.6 244.7,63.8 248.1,63.9 245.3,66 246.3,69.3 243.5,67.3 240.7,69.3 241.7,66 239,63.9 242.4,63.8"/>
<polygon points="244,60.2 245.2,63.4 248.6,63.5 245.9,65.6 246.9,68.9 244,66.9 241.2,68.9 242.2,65.6 239.5,63.5 242.9,63.4"/>
<polygon points="244,59.8 245.1,63 248.5,63.1 245.8,65.1 246.8,68.4 244,66.5 241.1,68.4 242.1,65.1 239.4,63.1 242.8,63"/>
<polygon points="244.8,59.3 245.9,62.5 249.4,62.6 246.6,64.7 247.6,68 244.8,66 242,68 243,64.7 240.2,62.6 243.7,62.5"/>
<polygon points="245.8,59.1 246.9,62.4 250.4,62.5 247.6,64.5 248.6,67.8 245.8,65.9 243,67.8 244,64.5 241.2,62.5 244.7,62.4"/>
<polygon points="246.7,58.3 247.9,61.5 251.3,61.6 248.6,63.7 249.6,66.9 246.7,65 243.9,66.9 244.9,63.7 242.2,61.6 245.6,61.5"/>
<polygon points="246.9,58.2 248,61.5 251.5,61.5 248.7,63.6 249.7,66.9 246.9,64.9 244.1,66.9 245.1,63.6 242.3,61.5 245.8,61.5"/>
<polygon points="247.5,57.6 248.7,60.8 252.1,60.9 249.4,63 250.4,66.3 247.5,64.3 244.7,66.3 245.7,63 243,60.9 246.4,60.8"/>
<polygon points="248.6,57.5 249.7,60.8 253.1,60.8 250.4,62.9 251.4,66.2 248.6,64.2 245.8,66.2 246.8,62.9 244,60.8 247.5,60.8"/>
<polygon points="249.2,56.8 250.3,60.1 253.7,60.1 251,62.2 252,65.5 249.2,63.5 246.4,65.5 247.3,62.2 244.6,60.1 248,60.1"/>
<polygon points="249.4,56.4 250.5,59.7 254,59.7 251.2,61.8 252.2,65.1 249.4,63.1 246.6,65.1 247.6,61.8 244.9,59.7 248.3,59.7"/>
<polygon points="250,56.2 251.1,59.5 254.6,59.5 251.8,61.6 252.8,64.9 250,62.9 247.2,64.9 248.2,61.6 245.4,59.5 248.9,59.5"/>
<polygon points="250.2,55.2 251.3,58.5 254.7,58.5 252,60.6 253,63.9 250.2,61.9 247.4,63.9 248.4,60.6 245.6,58.5 249.1,58.5"/>
<polygon points="251.4,55.2 252.6,58.5 256,58.5 253.3,60.6 254.2,63.9 251.4,61.9 248.6,63.9 249.6,60.6 246.9,58.5 250.3,58.5"/>
<polygon points="251.4,54.5 252.5,57.7 255.9,57.8 253.2,59.9 254.2,63.2 251.4,61.2 248.5,63.2 249.5,59.9 246.8,57.8 250.2,57.7"/>
<polygon points="252.7,54.3 253.8,57.5 257.3,57.6 254.5,59.7 255.5,63 252.7,61 249.9,63 250.9,59.7 248.2,57.6 251.6,57.5"/>
<polygon points="252.9,54.3 254.1,57.5 257.5,57.6 254.8,59.7 255.8,63 252.9,61 250.1,63 251.1,59.7 248.4,57.6 251.8,57.5"/>
<polygon points="253.8,53.8 255,57.1 258.4,57.1 255.7,59.2 256.6,62.5 253.8,60.5 251,62.5 252,59.2 249.3,57.1 252.7,57.1"/>
<polygon points="255,53.2 256.1,56.5 259.5,56.5 256.8,58.6 257.8,61.9 255,59.9 252.1,61.9 253.1,58.6 250.4,56.5 253.8,56.5"/>
<polygon points="255.2,52.9 256.3,56.2 259.8,56.2 257,58.3 258,61.6 255.2,59.6 252.4,61.6 253.4,58.3 250.6,56.2 254.1,56.2"/>
<polygon points="255.4,52.5 256.5,55.8 259.9,55.8 257.2,57.9 258.2,61.2 255.4,59.2 252.5,61.2 253.5,57.9 250.8,55.8 254.2,55.8"/>
<polygon points="256.2,52.2 257.4,55.4 260.8,55.5 258.1,57.6 259.1,60.9 256.2,58.9 253.4,60.9 254.4,57.6 251.7,55.5 255.1,55.4"/>
<polygon points="256.6,52.2 257.8,55.4 261.2,55.5 258.5,57.6 259.5,60.9 256.6,58.9 253.8,60.9 254.8,57.6 252.1,55.5 255.5,55.4"/>
<polygon points="256.9,51.4 258,54.6 261.4,54.7 258.7,56.8 259.7,60.1 256.9,58.1 254,60.1 255,56.8 252.3,54.7 255.7,54.6"/>
<polygon points="257.1,51.5 258.3,54.7 261.7,54.8 259,56.9 260,60.2 257.1,58.2 254.3,60.2 255.3,56.9 252.6,54.8 256,54.7"/>
<polygon points="258.3,50.4 259.4,53.7 262.8,53.8 260.1,55.8 261.1,59.1 258.3,57.2 255.5,59.1 256.5,55.8 253.7,53.8 257.1,53.7"/>
<polygon points="258.5,50.3 259.7,53.6 263.1,53.6 260.4,55.7 261.4,59 258.5,57 255.7,59 256.7,55.7 254,53.6 257.4,53.6"/>
<polygon points="260,49.9 261.1,53.2 264.5,53.2 261.8,55.3 262.8,58.6 260,56.6 257.2,58.6 258.1,55.3 255.4,53.2 258.8,53.2"/>
<polygon points="259,49.4 260.1,52.6 263.5,52.7 260.8,54.8 261.8,58.1 259,56.1 256.1,58.1 257.1,54.8 254.4,52.7 257.8,52.6"/>
<polygon points="260,48.9 261.1,52.1 264.6,52.2 261.8,54.3 262.8,57.5 260,55.6 257.2,57.5 258.2,54.3 255.4,52.2 258.9,52.1"/>
<polygon points="261.2,48.9 262.3,52.1 265.8,52.2 263,54.3 264,57.6 261.2,55.6 258.4,57.6 259.4,54.3 256.6,52.2 260.1,52.1"/>
<polygon points="261.5,48.6 262.6,51.8 266.1,51.9 263.3,54 264.3,57.2 261.5,55.3 258.7,57.2 259.7,54 256.9,51.9 260.4,51.8"/>
<polygon points="262.1,48 263.2,51.2 266.7,51.3 263.9,53.4 264.9,56.7 262.1,54.7 259.3,56.7 260.3,53.4 257.5,51.3 261,51.2"/>
<polygon points="262.8,47.8 264,51.1 267.4,51.2 264.7,53.2 265.6,56.5 262.8,54.6 260,56.5 261,53.2 258.3,51.2 261.7,51.1"/>
<polygon points="263.4,47.2 264.5,50.4 268,50.5 265.2,52.6 266.2,55.9 263.4,53.9 260.6,55.9 261.6,52.6 258.8,50.5 262.3,50.4"/>
<polygon points="264.2,46.1 265.3,49.4 268.7,49.5 266,51.5 267,54.8 264.2,52.9 261.4,54.8 262.3,51.5 259.6,49.5 263,49.4"/>
<polygon points="263.4,46.4 264.5,49.6 268,49.7 265.2,51.8 266.2,55.1 263.4,53.1 260.6,55.1 261.6,51.8 258.8,49.7 262.3,49.6"/>
<polygon points="264.7,45.6 265.8,48.8 269.2,48.9 266.5,51 267.5,54.3 264.7,52.3 261.8,54.3 262.8,51 260.1,48.9 263.5,48.8"/>
<polygon points="265,45.7 266.1,48.9 269.5,49 266.8,51.1 267.8,54.4 265,52.4 262.1,54.4 263.1,51.1 260.4,49 263.8,48.9"/>
<polygon points="265.5,44.9 266.7,48.1 270.1,48.2 267.4,50.3 268.4,53.5 265.5,51.6 262.7,53.5 263.7,50.3 261,48.2 264.4,48.1"/>
<polygon points="266,44.6 267.1,47.9 270.6,47.9 267.8,50 268.8,53.3 266,51.3 263.2,53.3 264.2,50 261.4,47.9 264.9,47.9"/>
<polygon points="266.3,44.2 267.4,47.4 270.8,47.5 268.1,49.5 269.1,52.8 266.3,50.9 263.5,52.8 264.4,49.5 261.7,47.5 265.1,47.4"/>
<polygon points="266.7,43.6 267.8,46.8 271.3,46.9 268.5,49 269.5,52.3 266.7,50.3 263.9,52.3 264.9,49 262.1,46.9 265.6,46.8"/>
<polygon points="269.4,41.3 270.5,44.5 273.9,44.6 271.2,46.7 272.2,49.9 269.4,48 266.5,49.9 267.5,46.7 264.8,44.6 268.2,44.5"/>
<polygon points="276.5,35.1 277.6,38.3 281.1,38.4 278.3,40.5 279.3,43.7 276.5,41.8 273.7,43.7 274.7,40.5 271.9,38.4 275.4,38.3"/>
<polygon points="284.2,28.9 285.3,32.1 288.8,32.2 286,34.3 287,37.5 284.2,35.6 281.4,37.5 282.4,34.3 279.7,32.2 283.1,32.1"/>
<polygon points="289.4,22.7 290.5,25.9 294,26 291.2,28.1 292.2,31.3 289.4,29.4 286.6,31.3 287.6,28.1 284.9,26 288.3,25.9"/>
<polygon points="295.8,16.5 296.9,19.7 300.4,19.8 297.6,21.9 298.6,25.1 295.8,23.2 293,25.1 294,21.9 291.2,19.8 294.7,19.7"/>
<polygon points="301.6,10.3 302.7,13.5 306.2,13.6 303.4,15.7 304.4,18.9 301.6,17 298.8,18.9 299.8,15.7 297,13.6 300.5,13.5"/>
</g>
<g fill="none" stroke="#ff00ff" stroke-width="1.5">
<rect x="244.8" y="70.1" width="4.2" height="4.2"/>
<rect x="246.2" y="69.6" width="4.2" height="4.2"/>
<rect x="247.8" y="69.6" width="4.2" height="4.2"/>
<rect x="248.3" y="69" width="4.2" height="4.2"/>
<rect x="250.6" y="68.3" width="4.2" height="4.2"/>
<rect x="251.7" y="67.9" width="4.2" height="4.2"/>
<rect x="252.6" y="67.3" width="4.2" height="4.2"/>
<rect x="253.2" y="67.2" width="4.2" height="4.2"/>
<rect x="254.8" y="66.2" width="4.2" height="4.2"/>
<rect x="255.8" y="66.6" width="4.2" height="4.2"/>
<rect x="256.6" y="65.9" width="4.2" height="4.2"/>
<rect x="257.2" y="66.1" width="4.2" height="4.2"/>
<rect x="258.9" y="65.5" width="4.2" height="4.2"/>
<rect x="260.4" y="64.5" width="4.2" height="4.2"/>
<rect x="260" y="64.6" width="4.2" height="4.2"/>
<rect x="261.9" y="63.9" width="4.2" height="4.2"/>
<rect x="262.3" y="63.6" width="4.2" height="4.2"/>
<rect x="263.3" y="63.5" width="4.2" height="4.2"/>
<rect x="264.8" y="62.9" width="4.2" height="4.2"/>
<rect x="264.7" y="62.5" width="4.2" height="4.2"/>
<rect x="265.9" y="62.1" width="4.2" height="4.2"/>
<rect x="267.4" y="61.4" width="4.2" height="4.2"/>
<rect x="267.7" y="61.1" width="4.2" height="4.2"/>
<rect x="268.5" y="61" width="4.2" height="4.2"/>
<rect x="269.3" y="60.6" width="4.2" height="4.2"/>
<rect x="270.2" y="59.9" width="4.2" height="4.2"/>
<rect x="271.4" y="59.6" width="4.2" height="4.2"/>
<rect x="271.4" y="59" width="4.2" height="4.2"/>
<rect x="273.1" y="58.2" width="4.2" height="4.2"/>
<rect x="272.7" y="58.2" width="4.2" height="4.2"/>
<rect x="274.2" y="58" width="4.2" height="4.2"/>
<rect x="274.9" y="57.7" width="4.2" height="4.2"/>
<rect x="274.4" y="57.4" width="4.2" height="4.2"/>
<rect x="276.1" y="57" width="4.2" height="4.2"/>
<rect x="276.4" y="56.7" width="4.2" height="4.2"/>
<rect x="277.5" y="56.1" width="4.2" height="4.2"/>
<rect x="278.4" y="55.7" width="4.2" height="4.2"/>
<rect x="278.2" y="55" width="4.2" height="4.2"/>
<rect x="278.8" y="54.9" width="4.2" height="4.2"/>
<rect x="280.4" y="54.5" width="4.2" height="4.2"/>
<rect x="280.6" y="54.3" width="4.2" height="4.2"/>
<rect x="281.7" y="53.2" width="4.2" height="4.2"/>
<rect x="282" y="53.1" width="4.2" height="4.2"/>
<rect x="281.9" y="52.4" width="4.2" height="4.2"/>
<rect x="283" y="52.2" width="4.2" height="4.2"/>
<rect x="284.1" y="51.7" width="4.2" height="4.2"/>
<rect x="284.4" y="51.7" width="4.2" height="4.2"/>
<rect x="284.7" y="51.1" width="4.2" height="4.2"/>
<rect x="285.5" y="50.2" width="4.2" height="4.2"/>
<rect x="285.7" y="50.7" width="4.2" height="4.2"/>
<rect x="285.9" y="49.7" width="4.2" height="4.2"/>
<rect x="287.5" y="49.2" width="4.2" height="4.2"/>
<rect x="287.1" y="49.1" width="4.2" height="4.2"/>
<rect x="287.3" y="48.6" width="4.2" height="4.2"/>
<rect x="288.1" y="48.1" width="4.2" height="4.2"/>
<rect x="288.9" y="48.2" width="4.2" height="4.2"/>
<rect x="289.4" y="47.5" width="4.2" height="4.2"/>
<rect x="289.7" y="47.5" width="4.2" height="4.2"/>
<rect x="289.7" y="47" width="4.2" height="4.2"/>
<rect x="290.5" y="46.6" width="4.2" height="4.2"/>
<rect x="292.5" y="44" width="4.2" height="4.2"/>
<rect x="297.2" y="37.9" width="4.2" height="4.2"/>
<rect x="303.9" y="31.8" width="4.2" height="4.2"/>
<rect x="312.1" y="25.7" width="4.2" height="4.2"/>
<rect x="318.4" y="19.7" width="4.2" height="4.2"/>
<rect x="325.4" y="13.6" width="4.2" height="4.2"/>
</g>
<g stroke="#00f000" stroke-width="1.4" fill="none"><line x1="154" y1="117.7" x2="154" y2="125.9"/><line x1="151" y1="117.7" x2="157" y2="117.7"/><line x1="151" y1="125.9" x2="157" y2="125.9"/></g>
</g>
<rect x="149.6" y="9.4" width="193.1" height="117.2" fill="none" stroke="#333" stroke-width="0.9"/>
<g stroke="#333" stroke-width="0.8">
<line x1="154" y1="126.6" x2="154" y2="124.6"/>
<line x1="180.7" y1="126.6" x2="180.7" y2="124.6"/>
<line x1="207.4" y1="126.6" x2="207.4" y2="124.6"/>
<line x1="234.1" y1="126.6" x2="234.1" y2="124.6"/>
<line x1="260.8" y1="126.6" x2="260.8" y2="124.6"/>
<line x1="287.5" y1="126.6" x2="287.5" y2="124.6"/>
<line x1="314.2" y1="126.6" x2="314.2" y2="124.6"/>
<line x1="340.9" y1="126.6" x2="340.9" y2="124.6"/>
<line x1="149.6" y1="121.7" x2="151.6" y2="121.7"/>
<line x1="149.6" y1="96.9" x2="151.6" y2="96.9"/>
<line x1="149.6" y1="72.1" x2="151.6" y2="72.1"/>
<line x1="149.6" y1="47.3" x2="151.6" y2="47.3"/>
<line x1="149.6" y1="22.5" x2="151.6" y2="22.5"/>
</g>
<text x="154" y="135.7" font-family="Liberation Sans, sans-serif" font-size="7.8" text-anchor="middle" fill="#000">0</text>
<text x="180.7" y="135.7" font-family="Liberation Sans, sans-serif" font-size="7.8" text-anchor="middle" fill="#000">1</text>
<text x="207.4" y="135.7" font-family="Liberation Sans, sans-serif" font-size="7.8" text-anchor="middle" fill="#000">2</text>
<text x="234.1" y="135.7" font-family="Liberation Sans, sans-serif" font-size="7.8" text-anchor="middle" fill="#000">3</text>
<text x="260.8" y="135.7" font-family="Liberation Sans, sans-serif" font-size="7.8" text-anchor="middle" fill="#000">4</text>
<text x="287.5" y="135.7" font-family="Liberation Sans, sans-serif" font-size="7.8" text-anchor="middle" fill="#000">5</text>
<text x="314.2" y="135.7" font-family="Liberation Sans, sans-serif" font-size="7.8" text-anchor="middle" fill="#000">6</text>
<text x="340.4" y="135.7" font-family="Liberation Sans, sans-serif" font-size="7.8" text-anchor="middle" fill="#000">7</text>
<text x="147.3" y="124.5" font-family="Liberation Sans, sans-serif" font-size="7.5" text-anchor="end" fill="#000">0</text>
<text x="147.3" y="99.7" font-family="Liberation Sans, sans-serif" font-size="7.5" text-anchor="end" fill="#000">0.1</text>
<text x="147.3" y="74.9" font-family="Liberation Sans, sans-serif" font-size="7.5" text-anchor="end" fill="#000">0.2</text>
<text x="147.3" y="50.1" font-family="Liberation Sans, sans-serif" font-size="7.5" text-anchor="end" fill="#000">0.3</text>
<text x="147.3" y="25.3" font-family="Liberation Sans, sans-serif" font-size="7.5" text-anchor="end" fill="#000">0.4</text>
<text x="219.5" y="149.5" font-family="Liberation Serif, serif" font-size="14.5" font-style="italic" text-anchor="start" textLength="55" lengthAdjust="spacingAndGlyphs" fill="#303030">V (m/s)</text>
<rect x="118" y="43" width="15.5" height="50" fill="#fff"/>
<g transform="translate(129.8,91.2) rotate(-90)"><text x="0" y="0" font-family="Liberation Serif, serif" font-size="14.5" font-style="italic" text-anchor="start" textLength="47" lengthAdjust="spacingAndGlyphs" fill="#303030">z (mm)</text></g>
<rect x="44" y="181" width="90.5" height="61.4" fill="#fff" stroke="#000" stroke-width="1.5"/>
<g fill="none" stroke="#ff0000" stroke-width="1.5">
<circle cx="58.6" cy="189.4" r="2.5"/>
</g>
<text fill="#303030"><tspan x="71.7" y="191.9" font-family="Liberation Serif, serif" font-size="11.7" font-style="italic" textLength="7.6" lengthAdjust="spacingAndGlyphs">V</tspan><tspan x="78.9" y="194.1" font-family="Liberation Serif, serif" font-size="8" font-style="italic">j</tspan><tspan x="85.8" y="192.8" font-family="Liberation Serif, serif" font-size="11.7" textLength="7.8" lengthAdjust="spacingAndGlyphs">=</tspan><tspan x="97.8" y="191.9" font-family="Liberation Serif, serif" font-size="11.7" textLength="11.4" lengthAdjust="spacingAndGlyphs">25</tspan><tspan x="109.5" y="191.9" font-family="Liberation Serif, serif" font-size="11.7" font-style="italic" textLength="10.1" lengthAdjust="spacingAndGlyphs">m</tspan><tspan x="121.7" y="191.9" font-family="Liberation Serif, serif" font-size="11.7" font-style="italic" textLength="4.7" lengthAdjust="spacingAndGlyphs">/</tspan><tspan x="127.5" y="191.9" font-family="Liberation Serif, serif" font-size="11.7" font-style="italic" textLength="3.9" lengthAdjust="spacingAndGlyphs">s</tspan></text>
<g fill="none" stroke="#0000ff" stroke-width="1.5">
<polygon points="58.6,200.4 61.6,206 55.6,206"/>
</g>
<text fill="#303030"><tspan x="71.7" y="206.2" font-family="Liberation Serif, serif" font-size="11.7" font-style="italic" textLength="7.6" lengthAdjust="spacingAndGlyphs">V</tspan><tspan x="78.9" y="208.4" font-family="Liberation Serif, serif" font-size="8" font-style="italic">j</tspan><tspan x="85.8" y="207.1" font-family="Liberation Serif, serif" font-size="11.7" textLength="7.8" lengthAdjust="spacingAndGlyphs">=</tspan><tspan x="97.8" y="206.2" font-family="Liberation Serif, serif" font-size="11.7" textLength="11.4" lengthAdjust="spacingAndGlyphs">30</tspan><tspan x="109.5" y="206.2" font-family="Liberation Serif, serif" font-size="11.7" font-style="italic" textLength="10.1" lengthAdjust="spacingAndGlyphs">m</tspan><tspan x="121.7" y="206.2" font-family="Liberation Serif, serif" font-size="11.7" font-style="italic" textLength="4.7" lengthAdjust="spacingAndGlyphs">/</tspan><tspan x="127.5" y="206.2" font-family="Liberation Serif, serif" font-size="11.7" font-style="italic" textLength="3.9" lengthAdjust="spacingAndGlyphs">s</tspan></text>
<g fill="#000000" stroke="none">
<polygon points="58.6,214.2 59.7,217.4 63.2,217.5 60.4,219.6 61.4,222.9 58.6,220.9 55.8,222.9 56.8,219.6 54,217.5 57.5,217.4"/>
</g>
<text fill="#303030"><tspan x="71.7" y="221.5" font-family="Liberation Serif, serif" font-size="11.7" font-style="italic" textLength="7.6" lengthAdjust="spacingAndGlyphs">V</tspan><tspan x="78.9" y="223.7" font-family="Liberation Serif, serif" font-size="8" font-style="italic">j</tspan><tspan x="85.8" y="222.4" font-family="Liberation Serif, serif" font-size="11.7" textLength="7.8" lengthAdjust="spacingAndGlyphs">=</tspan><tspan x="97.8" y="221.5" font-family="Liberation Serif, serif" font-size="11.7" textLength="11.4" lengthAdjust="spacingAndGlyphs">35</tspan><tspan x="109.5" y="221.5" font-family="Liberation Serif, serif" font-size="11.7" font-style="italic" textLength="10.1" lengthAdjust="spacingAndGlyphs">m</tspan><tspan x="121.7" y="221.5" font-family="Liberation Serif, serif" font-size="11.7" font-style="italic" textLength="4.7" lengthAdjust="spacingAndGlyphs">/</tspan><tspan x="127.5" y="221.5" font-family="Liberation Serif, serif" font-size="11.7" font-style="italic" textLength="3.9" lengthAdjust="spacingAndGlyphs">s</tspan></text>
<g fill="none" stroke="#ff00ff" stroke-width="1.5">
<rect x="56.5" y="232.1" width="4.2" height="4.2"/>
</g>
<text fill="#303030"><tspan x="71.7" y="236.7" font-family="Liberation Serif, serif" font-size="11.7" font-style="italic" textLength="7.6" lengthAdjust="spacingAndGlyphs">V</tspan><tspan x="78.9" y="238.9" font-family="Liberation Serif, serif" font-size="8" font-style="italic">j</tspan><tspan x="85.8" y="237.6" font-family="Liberation Serif, serif" font-size="11.7" textLength="7.8" lengthAdjust="spacingAndGlyphs">=</tspan><tspan x="97.8" y="236.7" font-family="Liberation Serif, serif" font-size="11.7" textLength="11.4" lengthAdjust="spacingAndGlyphs">40</tspan><tspan x="109.5" y="236.7" font-family="Liberation Serif, serif" font-size="11.7" font-style="italic" textLength="10.1" lengthAdjust="spacingAndGlyphs">m</tspan><tspan x="121.7" y="236.7" font-family="Liberation Serif, serif" font-size="11.7" font-style="italic" textLength="4.7" lengthAdjust="spacingAndGlyphs">/</tspan><tspan x="127.5" y="236.7" font-family="Liberation Serif, serif" font-size="11.7" font-style="italic" textLength="3.9" lengthAdjust="spacingAndGlyphs">s</tspan></text>
<g transform="translate(13.2,154) rotate(-90)"><text x="0" y="0" font-family="Liberation Serif, serif" font-size="13.5" font-style="italic" text-anchor="start" textLength="44" lengthAdjust="spacingAndGlyphs" fill="#303030">z (mm)</text></g>
<text fill="#303030"><tspan x="163" y="281.3" font-family="Liberation Serif, serif" font-size="14.5">V </tspan><tspan x="177" y="281.3" font-family="Liberation Serif, serif" font-size="14.5" font-style="italic" textLength="37.7" lengthAdjust="spacingAndGlyphs">(m/s)</tspan></text>
<text x="168.6" y="303.3" font-family="Liberation Serif, serif" font-size="12" font-style="italic" text-anchor="start" textLength="16" lengthAdjust="spacingAndGlyphs" fill="#303030">(a)</text>
<g stroke="#5a5a5a" stroke-width="0.85" stroke-dasharray="1 1.9" fill="none">
<line x1="435.2" y1="5.8" x2="435.2" y2="253.5"/>
<line x1="452.9" y1="5.8" x2="452.9" y2="253.5"/>
<line x1="465.5" y1="5.8" x2="465.5" y2="253.5"/>
<line x1="475.2" y1="5.8" x2="475.2" y2="253.5"/>
<line x1="483.2" y1="5.8" x2="483.2" y2="253.5"/>
<line x1="489.9" y1="5.8" x2="489.9" y2="253.5"/>
<line x1="495.7" y1="5.8" x2="495.7" y2="253.5"/>
<line x1="500.9" y1="5.8" x2="500.9" y2="253.5"/>
<line x1="505.4" y1="5.8" x2="505.4" y2="253.5"/>
<line x1="535.7" y1="5.8" x2="535.7" y2="253.5"/>
<line x1="553.4" y1="5.8" x2="553.4" y2="253.5"/>
<line x1="565.9" y1="5.8" x2="565.9" y2="253.5"/>
<line x1="575.7" y1="5.8" x2="575.7" y2="253.5"/>
<line x1="583.6" y1="5.8" x2="583.6" y2="253.5"/>
<line x1="590.3" y1="5.8" x2="590.3" y2="253.5"/>
<line x1="596.2" y1="5.8" x2="596.2" y2="253.5"/>
<line x1="601.3" y1="5.8" x2="601.3" y2="253.5"/>
<line x1="605.9" y1="5.8" x2="605.9" y2="253.5"/>
<line x1="636.1" y1="5.8" x2="636.1" y2="253.5"/>
<line x1="653.8" y1="5.8" x2="653.8" y2="253.5"/>
<line x1="666.4" y1="5.8" x2="666.4" y2="253.5"/>
<line x1="676.1" y1="5.8" x2="676.1" y2="253.5"/>
<line x1="684.1" y1="5.8" x2="684.1" y2="253.5"/>
<line x1="690.8" y1="5.8" x2="690.8" y2="253.5"/>
<line x1="696.6" y1="5.8" x2="696.6" y2="253.5"/>
<line x1="701.8" y1="5.8" x2="701.8" y2="253.5"/>
<line x1="706.4" y1="5.8" x2="706.4" y2="253.5"/>
<line x1="405" y1="240.5" x2="718" y2="240.5"/>
<line x1="405" y1="214.4" x2="718" y2="214.4"/>
<line x1="405" y1="188.3" x2="718" y2="188.3"/>
<line x1="405" y1="162.2" x2="718" y2="162.2"/>
<line x1="405" y1="136.1" x2="718" y2="136.1"/>
<line x1="405" y1="110.1" x2="718" y2="110.1"/>
<line x1="405" y1="84" x2="718" y2="84"/>
<line x1="405" y1="57.9" x2="718" y2="57.9"/>
<line x1="405" y1="31.8" x2="718" y2="31.8"/>
</g>
<rect x="405" y="5.8" width="313" height="247.7" fill="none" stroke="#000" stroke-width="1.8"/>
<g stroke="#000" stroke-width="1">
<line x1="435.2" y1="253.5" x2="435.2" y2="251.5"/>
<line x1="435.2" y1="5.8" x2="435.2" y2="7.8"/>
<line x1="452.9" y1="253.5" x2="452.9" y2="251.5"/>
<line x1="452.9" y1="5.8" x2="452.9" y2="7.8"/>
<line x1="465.5" y1="253.5" x2="465.5" y2="251.5"/>
<line x1="465.5" y1="5.8" x2="465.5" y2="7.8"/>
<line x1="475.2" y1="253.5" x2="475.2" y2="251.5"/>
<line x1="475.2" y1="5.8" x2="475.2" y2="7.8"/>
<line x1="483.2" y1="253.5" x2="483.2" y2="251.5"/>
<line x1="483.2" y1="5.8" x2="483.2" y2="7.8"/>
<line x1="489.9" y1="253.5" x2="489.9" y2="251.5"/>
<line x1="489.9" y1="5.8" x2="489.9" y2="7.8"/>
<line x1="495.7" y1="253.5" x2="495.7" y2="251.5"/>
<line x1="495.7" y1="5.8" x2="495.7" y2="7.8"/>
<line x1="500.9" y1="253.5" x2="500.9" y2="251.5"/>
<line x1="500.9" y1="5.8" x2="500.9" y2="7.8"/>
<line x1="505.4" y1="253.5" x2="505.4" y2="250"/>
<line x1="505.4" y1="5.8" x2="505.4" y2="9.3"/>
<line x1="535.7" y1="253.5" x2="535.7" y2="251.5"/>
<line x1="535.7" y1="5.8" x2="535.7" y2="7.8"/>
<line x1="553.4" y1="253.5" x2="553.4" y2="251.5"/>
<line x1="553.4" y1="5.8" x2="553.4" y2="7.8"/>
<line x1="565.9" y1="253.5" x2="565.9" y2="251.5"/>
<line x1="565.9" y1="5.8" x2="565.9" y2="7.8"/>
<line x1="575.7" y1="253.5" x2="575.7" y2="251.5"/>
<line x1="575.7" y1="5.8" x2="575.7" y2="7.8"/>
<line x1="583.6" y1="253.5" x2="583.6" y2="251.5"/>
<line x1="583.6" y1="5.8" x2="583.6" y2="7.8"/>
<line x1="590.3" y1="253.5" x2="590.3" y2="251.5"/>
<line x1="590.3" y1="5.8" x2="590.3" y2="7.8"/>
<line x1="596.2" y1="253.5" x2="596.2" y2="251.5"/>
<line x1="596.2" y1="5.8" x2="596.2" y2="7.8"/>
<line x1="601.3" y1="253.5" x2="601.3" y2="251.5"/>
<line x1="601.3" y1="5.8" x2="601.3" y2="7.8"/>
<line x1="605.9" y1="253.5" x2="605.9" y2="250"/>
<line x1="605.9" y1="5.8" x2="605.9" y2="9.3"/>
<line x1="636.1" y1="253.5" x2="636.1" y2="251.5"/>
<line x1="636.1" y1="5.8" x2="636.1" y2="7.8"/>
<line x1="653.8" y1="253.5" x2="653.8" y2="251.5"/>
<line x1="653.8" y1="5.8" x2="653.8" y2="7.8"/>
<line x1="666.4" y1="253.5" x2="666.4" y2="251.5"/>
<line x1="666.4" y1="5.8" x2="666.4" y2="7.8"/>
<line x1="676.1" y1="253.5" x2="676.1" y2="251.5"/>
<line x1="676.1" y1="5.8" x2="676.1" y2="7.8"/>
<line x1="684.1" y1="253.5" x2="684.1" y2="251.5"/>
<line x1="684.1" y1="5.8" x2="684.1" y2="7.8"/>
<line x1="690.8" y1="253.5" x2="690.8" y2="251.5"/>
<line x1="690.8" y1="5.8" x2="690.8" y2="7.8"/>
<line x1="696.6" y1="253.5" x2="696.6" y2="251.5"/>
<line x1="696.6" y1="5.8" x2="696.6" y2="7.8"/>
<line x1="701.8" y1="253.5" x2="701.8" y2="251.5"/>
<line x1="701.8" y1="5.8" x2="701.8" y2="7.8"/>
<line x1="706.4" y1="253.5" x2="706.4" y2="250"/>
<line x1="706.4" y1="5.8" x2="706.4" y2="9.3"/>
<line x1="405" y1="240.5" x2="408" y2="240.5"/>
<line x1="718" y1="240.5" x2="715" y2="240.5"/>
<line x1="405" y1="214.4" x2="408" y2="214.4"/>
<line x1="718" y1="214.4" x2="715" y2="214.4"/>
<line x1="405" y1="188.3" x2="408" y2="188.3"/>
<line x1="718" y1="188.3" x2="715" y2="188.3"/>
<line x1="405" y1="162.2" x2="408" y2="162.2"/>
<line x1="718" y1="162.2" x2="715" y2="162.2"/>
<line x1="405" y1="136.1" x2="408" y2="136.1"/>
<line x1="718" y1="136.1" x2="715" y2="136.1"/>
<line x1="405" y1="110.1" x2="408" y2="110.1"/>
<line x1="718" y1="110.1" x2="715" y2="110.1"/>
<line x1="405" y1="84" x2="408" y2="84"/>
<line x1="718" y1="84" x2="715" y2="84"/>
<line x1="405" y1="57.9" x2="408" y2="57.9"/>
<line x1="718" y1="57.9" x2="715" y2="57.9"/>
<line x1="405" y1="31.8" x2="408" y2="31.8"/>
<line x1="718" y1="31.8" x2="715" y2="31.8"/>
</g>
<clipPath id="cr"><rect x="401" y="1.8" width="319" height="255.7"/></clipPath>
<g clip-path="url(#cr)">
<g fill="none" stroke="#ff0000" stroke-width="1.5">
<circle cx="466.6" cy="212.1" r="2.5"/>
<circle cx="467.7" cy="210.8" r="2.5"/>
<circle cx="468.7" cy="209.7" r="2.5"/>
<circle cx="469.9" cy="208.2" r="2.5"/>
<circle cx="470.8" cy="207.1" r="2.5"/>
<circle cx="472" cy="205.1" r="2.5"/>
<circle cx="472.9" cy="203.7" r="2.5"/>
<circle cx="473.8" cy="201.7" r="2.5"/>
<circle cx="474.5" cy="200.9" r="2.5"/>
<circle cx="475.3" cy="199.5" r="2.5"/>
<circle cx="476.2" cy="197.8" r="2.5"/>
<circle cx="477.2" cy="196.5" r="2.5"/>
<circle cx="478.4" cy="195.4" r="2.5"/>
<circle cx="478.7" cy="193.6" r="2.5"/>
<circle cx="480" cy="192" r="2.5"/>
<circle cx="480.5" cy="191.2" r="2.5"/>
<circle cx="481.4" cy="189.9" r="2.5"/>
<circle cx="482.6" cy="188.5" r="2.5"/>
<circle cx="483.2" cy="187.7" r="2.5"/>
<circle cx="483.8" cy="185.8" r="2.5"/>
<circle cx="484.7" cy="184.8" r="2.5"/>
<circle cx="485.2" cy="182.8" r="2.5"/>
<circle cx="486.4" cy="182.1" r="2.5"/>
<circle cx="487" cy="180.8" r="2.5"/>
<circle cx="487.4" cy="179.3" r="2.5"/>
<circle cx="488.4" cy="177.8" r="2.5"/>
<circle cx="488.9" cy="176.9" r="2.5"/>
<circle cx="489.5" cy="175.4" r="2.5"/>
<circle cx="490.2" cy="173.6" r="2.5"/>
<circle cx="491.1" cy="172.2" r="2.5"/>
<circle cx="492.7" cy="169.3" r="2.5"/>
<circle cx="495.6" cy="162.4" r="2.5"/>
<circle cx="498.4" cy="154.6" r="2.5"/>
<circle cx="501" cy="150.1" r="2.5"/>
<circle cx="503.5" cy="144.8" r="2.5"/>
<circle cx="505.8" cy="140.3" r="2.5"/>
<circle cx="508" cy="137.5" r="2.5"/>
<circle cx="510.1" cy="135.3" r="2.5"/>
<circle cx="512.2" cy="132.5" r="2.5"/>
<circle cx="514.1" cy="131.1" r="2.5"/>
<circle cx="515.9" cy="129.8" r="2.5"/>
<circle cx="517.7" cy="127" r="2.5"/>
<circle cx="519.4" cy="125.4" r="2.5"/>
<circle cx="521" cy="124" r="2.5"/>
<circle cx="522.6" cy="121" r="2.5"/>
<circle cx="524.1" cy="118.8" r="2.5"/>
<circle cx="525.6" cy="116.7" r="2.5"/>
<circle cx="527" cy="113.6" r="2.5"/>
<circle cx="528.4" cy="112.2" r="2.5"/>
<circle cx="529.7" cy="108.9" r="2.5"/>
<circle cx="531" cy="108.6" r="2.5"/>
<circle cx="532.3" cy="105.4" r="2.5"/>
<circle cx="533.5" cy="103.7" r="2.5"/>
<circle cx="534.7" cy="101.7" r="2.5"/>
<circle cx="535.8" cy="99.1" r="2.5"/>
<circle cx="537" cy="98" r="2.5"/>
<circle cx="541.8" cy="91.7" r="2.5"/>
<circle cx="547.4" cy="84.9" r="2.5"/>
<circle cx="552.4" cy="79.5" r="2.5"/>
<circle cx="556.9" cy="76.3" r="2.5"/>
<circle cx="561" cy="72.1" r="2.5"/>
<circle cx="564.7" cy="70" r="2.5"/>
<circle cx="568.1" cy="67.1" r="2.5"/>
<circle cx="571.3" cy="65.2" r="2.5"/>
<circle cx="574.3" cy="63.2" r="2.5"/>
<circle cx="577" cy="61.2" r="2.5"/>
<circle cx="579.6" cy="60.6" r="2.5"/>
<circle cx="582.1" cy="59.4" r="2.5"/>
<circle cx="583.3" cy="59" r="2.5"/>
<circle cx="584.4" cy="58.2" r="2.5"/>
<circle cx="585.5" cy="58.6" r="2.5"/>
<circle cx="586.6" cy="59.3" r="2.5"/>
<circle cx="587.7" cy="58.4" r="2.5"/>
<circle cx="588.7" cy="58.6" r="2.5"/>
<circle cx="589.8" cy="59" r="2.5"/>
<circle cx="590.7" cy="57.6" r="2.5"/>
<circle cx="591.7" cy="56.6" r="2.5"/>
<circle cx="592.7" cy="57.1" r="2.5"/>
<circle cx="593.6" cy="57.5" r="2.5"/>
<circle cx="594.5" cy="57.3" r="2.5"/>
<circle cx="595.4" cy="56.4" r="2.5"/>
<circle cx="596.3" cy="56.8" r="2.5"/>
<circle cx="597.1" cy="56.8" r="2.5"/>
<circle cx="598" cy="57.2" r="2.5"/>
<circle cx="598.8" cy="57.4" r="2.5"/>
<circle cx="599.6" cy="57.5" r="2.5"/>
<circle cx="600.4" cy="57.6" r="2.5"/>
<circle cx="601.2" cy="58.3" r="2.5"/>
<circle cx="601.9" cy="59" r="2.5"/>
<circle cx="602.7" cy="58.3" r="2.5"/>
<circle cx="603.4" cy="59.1" r="2.5"/>
<circle cx="604.2" cy="58.7" r="2.5"/>
<circle cx="604.9" cy="60.3" r="2.5"/>
<circle cx="605.6" cy="60" r="2.5"/>
<circle cx="606.3" cy="60.4" r="2.5"/>
<circle cx="607" cy="61.1" r="2.5"/>
<circle cx="607.6" cy="60.1" r="2.5"/>
<circle cx="608.3" cy="60.9" r="2.5"/>
<circle cx="608.9" cy="62.2" r="2.5"/>
<circle cx="609.6" cy="62.2" r="2.5"/>
<circle cx="610.2" cy="62.7" r="2.5"/>
<circle cx="610.8" cy="64.4" r="2.5"/>
<circle cx="611.5" cy="63.8" r="2.5"/>
<circle cx="612.1" cy="64.2" r="2.5"/>
<circle cx="612.7" cy="64.8" r="2.5"/>
<circle cx="613.2" cy="65.5" r="2.5"/>
<circle cx="613.8" cy="65.7" r="2.5"/>
<circle cx="614.4" cy="66.2" r="2.5"/>
<circle cx="615" cy="66.4" r="2.5"/>
<circle cx="615.5" cy="67.1" r="2.5"/>
<circle cx="616.1" cy="67.9" r="2.5"/>
<circle cx="616.6" cy="67.9" r="2.5"/>
<circle cx="617.2" cy="69.2" r="2.5"/>
<circle cx="617.7" cy="69.9" r="2.5"/>
<circle cx="618.2" cy="71" r="2.5"/>
<circle cx="618.7" cy="69.9" r="2.5"/>
<circle cx="619.3" cy="70.9" r="2.5"/>
<circle cx="619.8" cy="71.4" r="2.5"/>
<circle cx="620.3" cy="72" r="2.5"/>
<circle cx="620.8" cy="73.1" r="2.5"/>
<circle cx="621.3" cy="73.5" r="2.5"/>
<circle cx="621.7" cy="74.1" r="2.5"/>
<circle cx="622.2" cy="74.7" r="2.5"/>
<circle cx="622.7" cy="75.3" r="2.5"/>
<circle cx="623.2" cy="75.1" r="2.5"/>
<circle cx="623.6" cy="76.2" r="2.5"/>
<circle cx="624.1" cy="77.3" r="2.5"/>
<circle cx="624.5" cy="78" r="2.5"/>
<circle cx="625" cy="78.4" r="2.5"/>
<circle cx="625.4" cy="78.3" r="2.5"/>
<circle cx="625.9" cy="79.7" r="2.5"/>
<circle cx="626.3" cy="80" r="2.5"/>
<circle cx="626.7" cy="80.9" r="2.5"/>
<circle cx="627.2" cy="81.8" r="2.5"/>
<circle cx="627.6" cy="82.3" r="2.5"/>
<circle cx="628" cy="82.6" r="2.5"/>
<circle cx="628.4" cy="83.8" r="2.5"/>
<circle cx="628.8" cy="83.9" r="2.5"/>
<circle cx="629.2" cy="85" r="2.5"/>
<circle cx="629.7" cy="85.3" r="2.5"/>
<circle cx="630.1" cy="86.9" r="2.5"/>
<circle cx="630.5" cy="87" r="2.5"/>
<circle cx="630.8" cy="88.2" r="2.5"/>
<circle cx="631.2" cy="88.1" r="2.5"/>
<circle cx="631.6" cy="89.2" r="2.5"/>
<circle cx="632" cy="89.8" r="2.5"/>
<circle cx="632.4" cy="90" r="2.5"/>
<circle cx="632.8" cy="91.6" r="2.5"/>
<circle cx="633.3" cy="92.9" r="2.5"/>
<circle cx="633.8" cy="93.5" r="2.5"/>
<circle cx="634.3" cy="94.7" r="2.5"/>
<circle cx="634.9" cy="96.2" r="2.5"/>
<circle cx="635.5" cy="97.1" r="2.5"/>
<circle cx="636.1" cy="98" r="2.5"/>
<circle cx="636.8" cy="100.2" r="2.5"/>
<circle cx="637.5" cy="101.9" r="2.5"/>
<circle cx="638.3" cy="104" r="2.5"/>
<circle cx="639.1" cy="105.4" r="2.5"/>
<circle cx="640" cy="107.8" r="2.5"/>
<circle cx="640.7" cy="110.5" r="2.5"/>
<circle cx="646.4" cy="121.3" r="2.5"/>
<circle cx="651.5" cy="134.5" r="2.5"/>
<circle cx="656" cy="145.9" r="2.5"/>
<circle cx="660.1" cy="158.7" r="2.5"/>
<circle cx="663.8" cy="169.6" r="2.5"/>
<circle cx="667.3" cy="178.6" r="2.5"/>
<circle cx="670.5" cy="190.5" r="2.5"/>
<circle cx="673.5" cy="202.2" r="2.5"/>
<circle cx="676.2" cy="210" r="2.5"/>
<circle cx="678.9" cy="216.1" r="2.5"/>
<circle cx="681.3" cy="222.5" r="2.5"/>
<circle cx="683.7" cy="226.8" r="2.5"/>
<circle cx="685.9" cy="231.8" r="2.5"/>
<circle cx="688" cy="234.9" r="2.5"/>
<circle cx="690" cy="238.6" r="2.5"/>
<circle cx="691.9" cy="240.7" r="2.5"/>
<circle cx="693.8" cy="243.6" r="2.5"/>
<circle cx="695.6" cy="244.5" r="2.5"/>
<circle cx="697.3" cy="245.6" r="2.5"/>
<circle cx="698.9" cy="246.2" r="2.5"/>
<circle cx="700.5" cy="247.4" r="2.5"/>
<circle cx="702" cy="247.8" r="2.5"/>
<circle cx="703.5" cy="249.8" r="2.5"/>
</g>
<g fill="none" stroke="#0000ff" stroke-width="1.5">
<polygon points="477,194.6 480,200.2 473.9,200.2"/>
<polygon points="477.8,193.4 480.9,199.1 474.8,199.1"/>
<polygon points="479.1,191.4 482.2,197 476.1,197"/>
<polygon points="479.4,190.4 482.5,196 476.4,196"/>
<polygon points="480.8,188.6 483.8,194.2 477.7,194.2"/>
<polygon points="481.3,187.4 484.4,193 478.3,193"/>
<polygon points="482.2,186 485.2,191.6 479.1,191.6"/>
<polygon points="482.6,184.7 485.7,190.3 479.6,190.3"/>
<polygon points="483.2,183.3 486.3,188.9 480.2,188.9"/>
<polygon points="484.3,182.2 487.3,187.8 481.2,187.8"/>
<polygon points="484.7,180.5 487.7,186.1 481.6,186.1"/>
<polygon points="485.4,179.3 488.5,184.9 482.4,184.9"/>
<polygon points="486.2,178.6 489.2,184.2 483.1,184.2"/>
<polygon points="486.6,177 489.7,182.6 483.6,182.6"/>
<polygon points="487.5,175.8 490.5,181.4 484.4,181.4"/>
<polygon points="488.5,174.8 491.5,180.4 485.4,180.4"/>
<polygon points="488.6,172.7 491.7,178.3 485.6,178.3"/>
<polygon points="489.3,172.1 492.3,177.7 486.2,177.7"/>
<polygon points="490,170.5 493,176.1 487,176.1"/>
<polygon points="490.7,169.5 493.8,175.1 487.7,175.1"/>
<polygon points="491.3,168.5 494.3,174.1 488.2,174.1"/>
<polygon points="491.7,166.9 494.7,172.5 488.6,172.5"/>
<polygon points="492.3,165.5 495.4,171.2 489.3,171.2"/>
<polygon points="493,165.1 496,170.7 490,170.7"/>
<polygon points="493.3,163.7 496.3,169.3 490.3,169.3"/>
<polygon points="493.9,162.4 496.9,168 490.8,168"/>
<polygon points="494.6,161.3 497.6,166.9 491.6,166.9"/>
<polygon points="495.2,160.6 498.2,166.2 492.2,166.2"/>
<polygon points="495.7,159.2 498.7,164.8 492.7,164.8"/>
<polygon points="496.2,158.1 499.2,163.7 493.2,163.7"/>
<polygon points="498,154 501,159.7 494.9,159.7"/>
<polygon points="501.1,148 504.1,153.6 498,153.6"/>
<polygon points="504,140.8 507,146.4 500.9,146.4"/>
<polygon points="506.7,135 509.7,140.6 503.7,140.6"/>
<polygon points="509.3,128.8 512.3,134.4 506.2,134.4"/>
<polygon points="511.7,123.9 514.7,129.5 508.6,129.5"/>
<polygon points="514,119.9 517,125.5 510.9,125.5"/>
<polygon points="516.1,116.9 519.2,122.5 513.1,122.5"/>
<polygon points="518.2,114 521.3,119.6 515.2,119.6"/>
<polygon points="520.2,112.2 523.2,117.8 517.1,117.8"/>
<polygon points="522.1,108.9 525.1,114.5 519,114.5"/>
<polygon points="523.9,106.8 526.9,112.4 520.9,112.4"/>
<polygon points="525.6,104.6 528.7,110.2 522.6,110.2"/>
<polygon points="527.3,102.3 530.4,107.9 524.3,107.9"/>
<polygon points="528.9,100.4 532,106 525.9,106"/>
<polygon points="530.5,98 533.5,103.6 527.4,103.6"/>
<polygon points="532,95.4 535,101 528.9,101"/>
<polygon points="533.4,94.3 536.5,99.9 530.4,99.9"/>
<polygon points="534.8,91.8 537.9,97.4 531.8,97.4"/>
<polygon points="536.2,90.7 539.2,96.3 533.2,96.3"/>
<polygon points="537.5,86.6 540.6,92.2 534.5,92.2"/>
<polygon points="538.8,85.2 541.8,90.8 535.8,90.8"/>
<polygon points="540,83 543.1,88.6 537,88.6"/>
<polygon points="541.3,80.5 544.3,86.1 538.2,86.1"/>
<polygon points="542.4,78.7 545.5,84.3 539.4,84.3"/>
<polygon points="547.1,72.1 550.1,77.7 544,77.7"/>
<polygon points="552.7,65.8 555.8,71.4 549.7,71.4"/>
<polygon points="557.7,61.3 560.8,66.9 554.7,66.9"/>
<polygon points="562.2,56.8 565.3,62.4 559.2,62.4"/>
<polygon points="566.3,53.7 569.3,59.3 563.2,59.3"/>
<polygon points="570,50.4 573,56 567,56"/>
<polygon points="573.4,49.1 576.5,54.7 570.4,54.7"/>
<polygon points="576.6,45.2 579.7,50.8 573.6,50.8"/>
<polygon points="579.6,43.5 582.6,49.1 576.5,49.1"/>
<polygon points="582.4,41 585.4,46.6 579.3,46.6"/>
<polygon points="583.7,39.7 586.7,45.3 580.6,45.3"/>
<polygon points="585,39.7 588,45.3 581.9,45.3"/>
<polygon points="586.2,40.2 589.2,45.8 583.2,45.8"/>
<polygon points="587.4,39.3 590.5,44.9 584.4,44.9"/>
<polygon points="588.6,39.3 591.6,44.9 585.6,44.9"/>
<polygon points="589.8,39 592.8,44.6 586.7,44.6"/>
<polygon points="590.9,38.6 593.9,44.2 587.8,44.2"/>
<polygon points="592,39.5 595,45.1 588.9,45.1"/>
<polygon points="593,38.6 596.1,44.2 590,44.2"/>
<polygon points="594.1,39.3 597.1,44.9 591,44.9"/>
<polygon points="595.1,38.3 598.1,43.9 592,43.9"/>
<polygon points="596.1,38.3 599.1,43.9 593,43.9"/>
<polygon points="597,38.4 600.1,44 594,44"/>
<polygon points="598,38.4 601,44 595,44"/>
<polygon points="598.9,38.4 602,44 595.9,44"/>
<polygon points="599.8,38.2 602.9,43.9 596.8,43.9"/>
<polygon points="600.7,38.8 603.8,44.4 597.7,44.4"/>
<polygon points="601.6,38.1 604.6,43.7 598.6,43.7"/>
<polygon points="602.5,37.5 605.5,43.1 599.4,43.1"/>
<polygon points="603.3,37.3 606.3,42.9 600.3,42.9"/>
<polygon points="604.1,37.9 607.2,43.5 601.1,43.5"/>
<polygon points="604.9,38.4 608,44 601.9,44"/>
<polygon points="605.7,39.1 608.8,44.7 602.7,44.7"/>
<polygon points="606.5,38.1 609.5,43.7 603.5,43.7"/>
<polygon points="607.3,39.1 610.3,44.7 604.2,44.7"/>
<polygon points="608,39.2 611.1,44.8 605,44.8"/>
<polygon points="608.8,39.8 611.8,45.4 605.7,45.4"/>
<polygon points="609.5,39.8 612.5,45.4 606.4,45.4"/>
<polygon points="610.2,40.6 613.2,46.2 607.2,46.2"/>
<polygon points="610.9,40.8 613.9,46.4 607.9,46.4"/>
<polygon points="611.6,41.3 614.6,46.9 608.6,46.9"/>
<polygon points="612.3,41.6 615.3,47.2 609.2,47.2"/>
<polygon points="613,41 616,46.7 609.9,46.7"/>
<polygon points="613.6,42.5 616.7,48.1 610.6,48.1"/>
<polygon points="614.3,43.1 617.3,48.7 611.2,48.7"/>
<polygon points="614.9,43.2 617.9,48.8 611.9,48.8"/>
<polygon points="615.5,43.9 618.6,49.5 612.5,49.5"/>
<polygon points="616.2,45.4 619.2,51 613.1,51"/>
<polygon points="616.8,45.5 619.8,51.1 613.7,51.1"/>
<polygon points="617.4,45.6 620.4,51.2 614.3,51.2"/>
<polygon points="618,46.5 621,52.1 614.9,52.1"/>
<polygon points="618.6,47 621.6,52.6 615.5,52.6"/>
<polygon points="619.2,47.2 622.2,52.8 616.1,52.8"/>
<polygon points="619.7,48.7 622.8,54.3 616.7,54.3"/>
<polygon points="620.3,49.3 623.3,54.9 617.3,54.9"/>
<polygon points="620.9,49.9 623.9,55.5 617.8,55.5"/>
<polygon points="621.4,49.6 624.4,55.2 618.4,55.2"/>
<polygon points="622,51.9 625,57.5 618.9,57.5"/>
<polygon points="622.5,52 625.5,57.6 619.5,57.6"/>
<polygon points="623,52.6 626.1,58.2 620,58.2"/>
<polygon points="623.5,52.5 626.6,58.1 620.5,58.1"/>
<polygon points="624.1,53.5 627.1,59.1 621,59.1"/>
<polygon points="624.6,53.7 627.6,59.3 621.5,59.3"/>
<polygon points="625.1,55.4 628.1,61 622,61"/>
<polygon points="625.6,55 628.6,60.6 622.6,60.6"/>
<polygon points="626.1,56.2 629.1,61.8 623,61.8"/>
<polygon points="626.6,56.9 629.6,62.5 623.5,62.5"/>
<polygon points="627.1,57.1 630.1,62.7 624,62.7"/>
<polygon points="627.5,58.2 630.6,63.8 624.5,63.8"/>
<polygon points="628,59.3 631.1,64.9 625,64.9"/>
<polygon points="628.5,59.4 631.5,65 625.4,65"/>
<polygon points="628.9,60.3 632,65.9 625.9,65.9"/>
<polygon points="629.4,60.4 632.4,66.1 626.4,66.1"/>
<polygon points="629.9,60.9 632.9,66.5 626.8,66.5"/>
<polygon points="630.3,61.4 633.4,67 627.3,67"/>
<polygon points="630.8,61.4 633.8,67 627.7,67"/>
<polygon points="631.2,63 634.2,68.6 628.2,68.6"/>
<polygon points="631.6,64 634.7,69.6 628.6,69.6"/>
<polygon points="632.1,64.4 635.1,70.1 629,70.1"/>
<polygon points="632.5,64.9 635.5,70.5 629.5,70.5"/>
<polygon points="632.9,65.5 636,71.1 629.9,71.1"/>
<polygon points="633.3,65.5 636.4,71.1 630.3,71.1"/>
<polygon points="633.8,66.8 636.8,72.4 630.7,72.4"/>
<polygon points="634.2,67.8 637.2,73.5 631.1,73.5"/>
<polygon points="634.6,67.5 637.6,73.1 631.5,73.1"/>
<polygon points="635,68.5 638,74.1 631.9,74.1"/>
<polygon points="635.4,68.8 638.4,74.4 632.3,74.4"/>
<polygon points="635.8,69.9 638.8,75.5 632.7,75.5"/>
<polygon points="636.2,70.1 639.2,75.7 633.1,75.7"/>
<polygon points="636.6,71.1 639.6,76.7 633.5,76.7"/>
<polygon points="636.9,71.1 640,76.7 633.9,76.7"/>
<polygon points="637.3,72.3 640.4,77.9 634.3,77.9"/>
<polygon points="637.7,73.1 640.8,78.7 634.7,78.7"/>
<polygon points="638.2,73.8 641.2,79.4 635.1,79.4"/>
<polygon points="638.6,75.3 641.7,80.9 635.6,80.9"/>
<polygon points="639.1,75.8 642.1,81.4 636.1,81.4"/>
<polygon points="639.6,76.7 642.7,82.3 636.6,82.3"/>
<polygon points="640.2,77.7 643.2,83.3 637.2,83.3"/>
<polygon points="640.8,79.6 643.8,85.2 637.8,85.2"/>
<polygon points="641.4,79.3 644.5,84.9 638.4,84.9"/>
<polygon points="642.1,81.1 645.2,86.7 639.1,86.7"/>
<polygon points="642.9,83 645.9,88.6 639.8,88.6"/>
<polygon points="643.6,84.6 646.7,90.2 640.6,90.2"/>
<polygon points="644.5,85.6 647.5,91.2 641.4,91.2"/>
<polygon points="645.3,87.4 648.4,93 642.3,93"/>
<polygon points="646,89.3 649.1,94.9 643,94.9"/>
<polygon points="651.7,102.6 654.8,108.3 648.7,108.3"/>
<polygon points="656.8,116.2 659.8,121.8 653.7,121.8"/>
<polygon points="661.3,130.8 664.3,136.4 658.3,136.4"/>
<polygon points="665.4,144.2 668.4,149.8 662.4,149.8"/>
<polygon points="669.1,156 672.2,161.6 666.1,161.6"/>
<polygon points="672.6,168.2 675.6,173.8 669.6,173.8"/>
<polygon points="675.8,181.8 678.8,187.4 672.8,187.4"/>
<polygon points="678.8,191.4 681.8,197 675.7,197"/>
<polygon points="681.6,200.7 684.6,206.3 678.5,206.3"/>
<polygon points="684.2,208.3 687.2,213.9 681.1,213.9"/>
<polygon points="686.7,213.7 689.7,219.3 683.6,219.3"/>
<polygon points="689,221.3 692,226.9 686,226.9"/>
<polygon points="691.2,226.6 694.3,232.2 688.2,232.2"/>
<polygon points="693.3,230.9 696.4,236.5 690.3,236.5"/>
<polygon points="695.3,234.1 698.4,239.7 692.3,239.7"/>
<polygon points="697.3,236.7 700.3,242.3 694.2,242.3"/>
<polygon points="699.1,238.8 702.2,244.4 696.1,244.4"/>
<polygon points="700.9,240.4 703.9,246 697.8,246"/>
<polygon points="702.6,241.9 705.6,247.5 699.5,247.5"/>
<polygon points="704.2,243.2 707.3,248.9 701.2,248.9"/>
<polygon points="705.8,243.9 708.8,249.5 702.8,249.5"/>
<polygon points="707.3,245.4 710.4,251 704.3,251"/>
<polygon points="708.8,245.3 711.8,250.9 705.8,250.9"/>
</g>
<g fill="#000000" stroke="none">
<polygon points="483.6,181.7 484.8,184.9 488.2,185 485.5,187.1 486.5,190.4 483.6,188.4 480.8,190.4 481.8,187.1 479.1,185 482.5,184.9"/>
<polygon points="484.5,180.6 485.6,183.9 489.1,183.9 486.3,186 487.3,189.3 484.5,187.3 481.7,189.3 482.7,186 480,183.9 483.4,183.9"/>
<polygon points="485.3,178.4 486.5,181.6 489.9,181.7 487.2,183.7 488.2,187 485.3,185.1 482.5,187 483.5,183.7 480.8,181.7 484.2,181.6"/>
<polygon points="485.7,177 486.9,180.3 490.3,180.3 487.6,182.4 488.6,185.7 485.7,183.7 482.9,185.7 483.9,182.4 481.2,180.3 484.6,180.3"/>
<polygon points="486.6,175.1 487.7,178.4 491.2,178.4 488.4,180.5 489.4,183.8 486.6,181.8 483.8,183.8 484.8,180.5 482,178.4 485.5,178.4"/>
<polygon points="487.5,174.3 488.6,177.5 492,177.6 489.3,179.7 490.3,182.9 487.5,181 484.6,182.9 485.6,179.7 482.9,177.6 486.3,177.5"/>
<polygon points="488.1,172.8 489.2,176 492.7,176.1 489.9,178.2 490.9,181.5 488.1,179.5 485.3,181.5 486.3,178.2 483.5,176.1 487,176"/>
<polygon points="488.5,171.1 489.6,174.4 493.1,174.4 490.3,176.5 491.3,179.8 488.5,177.8 485.7,179.8 486.7,176.5 483.9,174.4 487.4,174.4"/>
<polygon points="489.4,169.8 490.5,173 493.9,173.1 491.2,175.1 492.2,178.4 489.4,176.5 486.5,178.4 487.5,175.1 484.8,173.1 488.2,173"/>
<polygon points="489.7,168 490.9,171.2 494.3,171.3 491.6,173.4 492.5,176.7 489.7,174.7 486.9,176.7 487.9,173.4 485.2,171.3 488.6,171.2"/>
<polygon points="490.4,167.2 491.5,170.4 495,170.5 492.2,172.6 493.2,175.9 490.4,173.9 487.6,175.9 488.6,172.6 485.8,170.5 489.3,170.4"/>
<polygon points="491.2,165.2 492.3,168.4 495.7,168.5 493,170.6 494,173.9 491.2,171.9 488.4,173.9 489.3,170.6 486.6,168.5 490,168.4"/>
<polygon points="491.7,164.3 492.8,167.6 496.2,167.6 493.5,169.7 494.5,173 491.7,171 488.8,173 489.8,169.7 487.1,167.6 490.5,167.6"/>
<polygon points="492.2,162.6 493.4,165.9 496.8,165.9 494.1,168 495,171.3 492.2,169.3 489.4,171.3 490.4,168 487.7,165.9 491.1,165.9"/>
<polygon points="492.7,161.8 493.8,165 497.2,165.1 494.5,167.2 495.5,170.5 492.7,168.5 489.8,170.5 490.8,167.2 488.1,165.1 491.5,165"/>
<polygon points="493.4,160.3 494.5,163.5 497.9,163.6 495.2,165.7 496.2,169 493.4,167 490.6,169 491.5,165.7 488.8,163.6 492.2,163.5"/>
<polygon points="494,158.9 495.2,162.2 498.6,162.3 495.9,164.3 496.9,167.6 494,165.7 491.2,167.6 492.2,164.3 489.5,162.3 492.9,162.2"/>
<polygon points="494.4,157.8 495.5,161 498.9,161.1 496.2,163.2 497.2,166.5 494.4,164.5 491.5,166.5 492.5,163.2 489.8,161.1 493.2,161"/>
<polygon points="495,156.4 496.1,159.6 499.5,159.7 496.8,161.8 497.8,165 495,163.1 492.2,165 493.2,161.8 490.4,159.7 493.9,159.6"/>
<polygon points="495.5,155.3 496.6,158.5 500,158.6 497.3,160.7 498.3,164 495.5,162 492.6,164 493.6,160.7 490.9,158.6 494.3,158.5"/>
<polygon points="496,154.6 497.1,157.9 500.6,157.9 497.8,160 498.8,163.3 496,161.3 493.2,163.3 494.2,160 491.4,157.9 494.9,157.9"/>
<polygon points="496.6,153.2 497.8,156.4 501.2,156.5 498.5,158.5 499.5,161.8 496.6,159.9 493.8,161.8 494.8,158.5 492.1,156.5 495.5,156.4"/>
<polygon points="497,151.4 498.1,154.6 501.5,154.7 498.8,156.8 499.8,160.1 497,158.1 494.2,160.1 495.2,156.8 492.4,154.7 495.9,154.6"/>
<polygon points="497.7,151.4 498.8,154.6 502.2,154.7 499.5,156.8 500.5,160 497.7,158.1 494.8,160 495.8,156.8 493.1,154.7 496.5,154.6"/>
<polygon points="497.8,149.8 499,153 502.4,153.1 499.7,155.2 500.7,158.5 497.8,156.5 495,158.5 496,155.2 493.3,153.1 496.7,153"/>
<polygon points="498.3,148.4 499.4,151.7 502.9,151.7 500.1,153.8 501.1,157.1 498.3,155.1 495.5,157.1 496.5,153.8 493.7,151.7 497.2,151.7"/>
<polygon points="499.4,147 500.5,150.3 503.9,150.3 501.2,152.4 502.2,155.7 499.4,153.7 496.5,155.7 497.5,152.4 494.8,150.3 498.2,150.3"/>
<polygon points="499.7,146.5 500.8,149.8 504.3,149.8 501.5,151.9 502.5,155.2 499.7,153.2 496.9,155.2 497.9,151.9 495.2,149.8 498.6,149.8"/>
<polygon points="500.1,145.6 501.3,148.8 504.7,148.9 502,151 503,154.3 500.1,152.3 497.3,154.3 498.3,151 495.6,148.9 499,148.8"/>
<polygon points="500.6,144.8 501.7,148.1 505.1,148.1 502.4,150.2 503.4,153.5 500.6,151.5 497.8,153.5 498.8,150.2 496,148.1 499.4,148.1"/>
<polygon points="502.3,141.6 503.4,144.8 506.8,144.9 504.1,147 505.1,150.3 502.3,148.3 499.5,150.3 500.5,147 497.7,144.9 501.1,144.8"/>
<polygon points="505.7,134.2 506.8,137.4 510.3,137.5 507.5,139.6 508.5,142.8 505.7,140.9 502.9,142.8 503.9,139.6 501.2,137.5 504.6,137.4"/>
<polygon points="508.9,126.1 510,129.4 513.5,129.5 510.7,131.5 511.7,134.8 508.9,132.9 506.1,134.8 507.1,131.5 504.3,129.5 507.8,129.4"/>
<polygon points="511.9,120.7 513,124 516.4,124 513.7,126.1 514.7,129.4 511.9,127.4 509,129.4 510,126.1 507.3,124 510.7,124"/>
<polygon points="514.6,114.1 515.8,117.3 519.2,117.4 516.5,119.5 517.5,122.8 514.6,120.8 511.8,122.8 512.8,119.5 510.1,117.4 513.5,117.3"/>
<polygon points="517.3,108 518.4,111.3 521.8,111.4 519.1,113.4 520.1,116.7 517.3,114.8 514.4,116.7 515.4,113.4 512.7,111.4 516.1,111.3"/>
<polygon points="519.7,102.5 520.9,105.8 524.3,105.9 521.6,107.9 522.5,111.2 519.7,109.3 516.9,111.2 517.9,107.9 515.2,105.9 518.6,105.8"/>
<polygon points="522.1,97.5 523.2,100.7 526.6,100.8 523.9,102.9 524.9,106.2 522.1,104.2 519.2,106.2 520.2,102.9 517.5,100.8 520.9,100.7"/>
<polygon points="524.3,94.3 525.4,97.6 528.8,97.7 526.1,99.7 527.1,103 524.3,101.1 521.5,103 522.5,99.7 519.7,97.7 523.1,97.6"/>
<polygon points="526.4,90 527.5,93.3 530.9,93.3 528.2,95.4 529.2,98.7 526.4,96.7 523.6,98.7 524.6,95.4 521.8,93.3 525.3,93.3"/>
<polygon points="528.4,87 529.5,90.2 533,90.3 530.2,92.4 531.2,95.7 528.4,93.7 525.6,95.7 526.6,92.4 523.8,90.3 527.3,90.2"/>
<polygon points="530.3,83.1 531.4,86.3 534.9,86.4 532.1,88.5 533.1,91.8 530.3,89.8 527.5,91.8 528.5,88.5 525.8,86.4 529.2,86.3"/>
<polygon points="532.2,79 533.3,82.2 536.7,82.3 534,84.4 535,87.7 532.2,85.7 529.3,87.7 530.3,84.4 527.6,82.3 531,82.2"/>
<polygon points="533.9,76.4 535.1,79.7 538.5,79.7 535.8,81.8 536.7,85.1 533.9,83.1 531.1,85.1 532.1,81.8 529.4,79.7 532.8,79.7"/>
<polygon points="535.6,74.5 536.8,77.7 540.2,77.8 537.4,79.9 538.4,83.2 535.6,81.2 532.8,83.2 533.8,79.9 531.1,77.8 534.5,77.7"/>
<polygon points="537.3,72.2 538.4,75.5 541.8,75.5 539.1,77.6 540.1,80.9 537.3,79 534.4,80.9 535.4,77.6 532.7,75.5 536.1,75.5"/>
<polygon points="538.8,69.5 540,72.8 543.4,72.8 540.7,74.9 541.7,78.2 538.8,76.3 536,78.2 537,74.9 534.3,72.8 537.7,72.8"/>
<polygon points="540.4,67.3 541.5,70.5 544.9,70.6 542.2,72.7 543.2,76 540.4,74 537.5,76 538.5,72.7 535.8,70.6 539.2,70.5"/>
<polygon points="541.8,66.2 542.9,69.4 546.4,69.5 543.6,71.6 544.6,74.9 541.8,72.9 539,74.9 540,71.6 537.3,69.5 540.7,69.4"/>
<polygon points="543.2,64.4 544.4,67.6 547.8,67.7 545.1,69.8 546.1,73.1 543.2,71.1 540.4,73.1 541.4,69.8 538.7,67.7 542.1,67.6"/>
<polygon points="544.6,64.3 545.7,67.6 549.2,67.7 546.4,69.7 547.4,73 544.6,71.1 541.8,73 542.8,69.7 540.1,67.7 543.5,67.6"/>
<polygon points="546,62.6 547.1,65.9 550.5,66 547.8,68 548.8,71.3 546,69.4 543.1,71.3 544.1,68 541.4,66 544.8,65.9"/>
<polygon points="547.2,59.4 548.4,62.6 551.8,62.7 549.1,64.8 550.1,68.1 547.2,66.1 544.4,68.1 545.4,64.8 542.7,62.7 546.1,62.6"/>
<polygon points="551.4,56.3 552.5,59.6 555.9,59.6 553.2,61.7 554.2,65 551.4,63 548.6,65 549.6,61.7 546.8,59.6 550.3,59.6"/>
<polygon points="557,48.3 558.2,51.6 561.6,51.6 558.9,53.7 559.9,57 557,55 554.2,57 555.2,53.7 552.5,51.6 555.9,51.6"/>
<polygon points="562,44.3 563.2,47.6 566.6,47.6 563.9,49.7 564.9,53 562,51 559.2,53 560.2,49.7 557.5,47.6 560.9,47.6"/>
<polygon points="566.5,40.7 567.6,43.9 571.1,44 568.3,46.1 569.3,49.4 566.5,47.4 563.7,49.4 564.7,46.1 562,44 565.4,43.9"/>
<polygon points="570.6,37.4 571.7,40.6 575.2,40.7 572.4,42.8 573.4,46.1 570.6,44.1 567.8,46.1 568.8,42.8 566,40.7 569.5,40.6"/>
<polygon points="574.3,34.4 575.4,37.6 578.9,37.7 576.1,39.7 577.1,43 574.3,41.1 571.5,43 572.5,39.7 569.7,37.7 573.2,37.6"/>
<polygon points="577.7,31.8 578.9,35.1 582.3,35.1 579.6,37.2 580.6,40.5 577.7,38.5 574.9,40.5 575.9,37.2 573.2,35.1 576.6,35.1"/>
<polygon points="580.9,28.6 582,31.9 585.5,31.9 582.7,34 583.7,37.3 580.9,35.3 578.1,37.3 579.1,34 576.4,31.9 579.8,31.9"/>
<polygon points="583.9,26.5 585,29.8 588.4,29.8 585.7,31.9 586.7,35.2 583.9,33.3 581.1,35.2 582.1,31.9 579.3,29.8 582.8,29.8"/>
<polygon points="585.3,25.8 586.4,29 589.9,29.1 587.1,31.2 588.1,34.5 585.3,32.5 582.5,34.5 583.5,31.2 580.7,29.1 584.2,29"/>
<polygon points="586.7,24.8 587.8,28.1 591.2,28.1 588.5,30.2 589.5,33.5 586.7,31.5 583.8,33.5 584.8,30.2 582.1,28.1 585.5,28.1"/>
<polygon points="588,24.4 589.1,27.7 592.5,27.7 589.8,29.8 590.8,33.1 588,31.1 585.2,33.1 586.2,29.8 583.4,27.7 586.8,27.7"/>
<polygon points="589.3,22.7 590.4,25.9 593.8,26 591.1,28.1 592.1,31.4 589.3,29.4 586.4,31.4 587.4,28.1 584.7,26 588.1,25.9"/>
<polygon points="590.5,22.1 591.6,25.3 595.1,25.4 592.3,27.5 593.3,30.8 590.5,28.8 587.7,30.8 588.7,27.5 585.9,25.4 589.4,25.3"/>
<polygon points="591.7,20.8 592.9,24.1 596.3,24.2 593.5,26.2 594.5,29.5 591.7,27.6 588.9,29.5 589.9,26.2 587.2,24.2 590.6,24.1"/>
<polygon points="592.9,19.9 594,23.1 597.5,23.2 594.7,25.3 595.7,28.6 592.9,26.6 590.1,28.6 591.1,25.3 588.3,23.2 591.8,23.1"/>
<polygon points="594.1,20.2 595.2,23.5 598.6,23.5 595.9,25.6 596.9,28.9 594.1,26.9 591.2,28.9 592.2,25.6 589.5,23.5 592.9,23.5"/>
<polygon points="595.2,20.6 596.3,23.9 599.7,24 597,26 598,29.3 595.2,27.4 592.4,29.3 593.3,26 590.6,24 594,23.9"/>
<polygon points="596.3,19.6 597.4,22.8 600.8,22.9 598.1,25 599.1,28.3 596.3,26.3 593.4,28.3 594.4,25 591.7,22.9 595.1,22.8"/>
<polygon points="597.3,19.5 598.5,22.8 601.9,22.8 599.2,24.9 600.2,28.2 597.3,26.2 594.5,28.2 595.5,24.9 592.8,22.8 596.2,22.8"/>
<polygon points="598.4,19.4 599.5,22.6 602.9,22.7 600.2,24.8 601.2,28.1 598.4,26.1 595.5,28.1 596.5,24.8 593.8,22.7 597.2,22.6"/>
<polygon points="599.4,18.1 600.5,21.4 604,21.5 601.2,23.5 602.2,26.8 599.4,24.9 596.6,26.8 597.6,23.5 594.8,21.5 598.3,21.4"/>
<polygon points="600.4,18.8 601.5,22 604.9,22.1 602.2,24.2 603.2,27.5 600.4,25.5 597.6,27.5 598.6,24.2 595.8,22.1 599.2,22"/>
<polygon points="601.3,19.3 602.5,22.6 605.9,22.6 603.2,24.7 604.2,28 601.3,26 598.5,28 599.5,24.7 596.8,22.6 600.2,22.6"/>
<polygon points="602.3,18 603.4,21.3 606.9,21.3 604.1,23.4 605.1,26.7 602.3,24.8 599.5,26.7 600.5,23.4 597.7,21.3 601.2,21.3"/>
<polygon points="603.2,17.9 604.4,21.2 607.8,21.3 605.1,23.3 606,26.6 603.2,24.7 600.4,26.6 601.4,23.3 598.7,21.3 602.1,21.2"/>
<polygon points="604.1,18.6 605.3,21.9 608.7,22 606,24 607,27.3 604.1,25.4 601.3,27.3 602.3,24 599.6,22 603,21.9"/>
<polygon points="605,18.9 606.2,22.1 609.6,22.2 606.9,24.3 607.8,27.6 605,25.6 602.2,27.6 603.2,24.3 600.5,22.2 603.9,22.1"/>
<polygon points="605.9,18.9 607,22.1 610.5,22.2 607.7,24.3 608.7,27.6 605.9,25.6 603.1,27.6 604.1,24.3 601.3,22.2 604.8,22.1"/>
<polygon points="606.8,18.4 607.9,21.6 611.3,21.7 608.6,23.7 609.6,27 606.8,25.1 603.9,27 604.9,23.7 602.2,21.7 605.6,21.6"/>
<polygon points="607.6,18.7 608.7,21.9 612.2,22 609.4,24.1 610.4,27.4 607.6,25.4 604.8,27.4 605.8,24.1 603,22 606.5,21.9"/>
<polygon points="608.4,18.6 609.5,21.9 613,21.9 610.2,24 611.2,27.3 608.4,25.3 605.6,27.3 606.6,24 603.9,21.9 607.3,21.9"/>
<polygon points="609.2,19 610.4,22.2 613.8,22.3 611.1,24.4 612,27.7 609.2,25.7 606.4,27.7 607.4,24.4 604.7,22.3 608.1,22.2"/>
<polygon points="610,19.4 611.2,22.6 614.6,22.7 611.8,24.8 612.8,28.1 610,26.1 607.2,28.1 608.2,24.8 605.5,22.7 608.9,22.6"/>
<polygon points="610.8,19.9 611.9,23.1 615.4,23.2 612.6,25.3 613.6,28.6 610.8,26.6 608,28.6 609,25.3 606.2,23.2 609.7,23.1"/>
<polygon points="611.6,20.7 612.7,24 616.1,24 613.4,26.1 614.4,29.4 611.6,27.4 608.7,29.4 609.7,26.1 607,24 610.4,24"/>
<polygon points="612.3,22.4 613.4,25.6 616.9,25.7 614.1,27.8 615.1,31.1 612.3,29.1 609.5,31.1 610.5,27.8 607.8,25.7 611.2,25.6"/>
<polygon points="613.1,22.3 614.2,25.5 617.6,25.6 614.9,27.7 615.9,31 613.1,29 610.2,31 611.2,27.7 608.5,25.6 611.9,25.5"/>
<polygon points="613.8,22.5 614.9,25.7 618.4,25.8 615.6,27.9 616.6,31.2 613.8,29.2 611,31.2 612,27.9 609.2,25.8 612.7,25.7"/>
<polygon points="614.5,23.5 615.6,26.8 619.1,26.9 616.3,28.9 617.3,32.2 614.5,30.3 611.7,32.2 612.7,28.9 609.9,26.9 613.4,26.8"/>
<polygon points="615.2,23.6 616.3,26.9 619.8,27 617,29 618,32.3 615.2,30.4 612.4,32.3 613.4,29 610.6,27 614.1,26.9"/>
<polygon points="615.9,24.9 617,28.2 620.5,28.2 617.7,30.3 618.7,33.6 615.9,31.6 613.1,33.6 614.1,30.3 611.3,28.2 614.8,28.2"/>
<polygon points="616.6,25.8 617.7,29 621.1,29.1 618.4,31.2 619.4,34.5 616.6,32.5 613.8,34.5 614.8,31.2 612,29.1 615.5,29"/>
<polygon points="617.3,25.5 618.4,28.7 621.8,28.8 619.1,30.9 620.1,34.2 617.3,32.2 614.4,34.2 615.4,30.9 612.7,28.8 616.1,28.7"/>
<polygon points="617.9,26.5 619,29.7 622.5,29.8 619.7,31.8 620.7,35.1 617.9,33.2 615.1,35.1 616.1,31.8 613.3,29.8 616.8,29.7"/>
<polygon points="618.6,27.3 619.7,30.6 623.1,30.7 620.4,32.7 621.4,36 618.6,34.1 615.7,36 616.7,32.7 614,30.7 617.4,30.6"/>
<polygon points="619.2,27.4 620.3,30.7 623.8,30.8 621,32.8 622,36.1 619.2,34.2 616.4,36.1 617.4,32.8 614.6,30.8 618.1,30.7"/>
<polygon points="619.8,28 621,31.2 624.4,31.3 621.7,33.4 622.7,36.7 619.8,34.7 617,36.7 618,33.4 615.3,31.3 618.7,31.2"/>
<polygon points="620.5,28.8 621.6,32 625,32.1 622.3,34.2 623.3,37.5 620.5,35.5 617.6,37.5 618.6,34.2 615.9,32.1 619.3,32"/>
<polygon points="621.1,31.1 622.2,34.4 625.6,34.4 622.9,36.5 623.9,39.8 621.1,37.8 618.3,39.8 619.3,36.5 616.5,34.4 620,34.4"/>
<polygon points="621.7,30.8 622.8,34.1 626.3,34.2 623.5,36.2 624.5,39.5 621.7,37.6 618.9,39.5 619.9,36.2 617.1,34.2 620.6,34.1"/>
<polygon points="622.3,31.2 623.4,34.4 626.8,34.5 624.1,36.6 625.1,39.9 622.3,37.9 619.5,39.9 620.5,36.6 617.7,34.5 621.2,34.4"/>
<polygon points="622.9,32.2 624,35.5 627.4,35.5 624.7,37.6 625.7,40.9 622.9,38.9 620.1,40.9 621,37.6 618.3,35.5 621.7,35.5"/>
<polygon points="623.5,32.3 624.6,35.6 628,35.6 625.3,37.7 626.3,41 623.5,39 620.6,41 621.6,37.7 618.9,35.6 622.3,35.6"/>
<polygon points="624,32.3 625.2,35.5 628.6,35.6 625.9,37.7 626.9,41 624,39 621.2,41 622.2,37.7 619.5,35.6 622.9,35.5"/>
<polygon points="624.6,33.9 625.7,37.2 629.2,37.2 626.4,39.3 627.4,42.6 624.6,40.6 621.8,42.6 622.8,39.3 620,37.2 623.5,37.2"/>
<polygon points="625.2,34.9 626.3,38.2 629.7,38.3 627,40.3 628,43.6 625.2,41.7 622.3,43.6 623.3,40.3 620.6,38.3 624,38.2"/>
<polygon points="625.7,34.2 626.8,37.4 630.3,37.5 627.5,39.6 628.5,42.8 625.7,40.9 622.9,42.8 623.9,39.6 621.1,37.5 624.6,37.4"/>
<polygon points="626.3,35.7 627.4,39 630.8,39.1 628.1,41.1 629.1,44.4 626.3,42.5 623.4,44.4 624.4,41.1 621.7,39.1 625.1,39"/>
<polygon points="626.8,36.7 627.9,40 631.4,40.1 628.6,42.1 629.6,45.4 626.8,43.5 624,45.4 625,42.1 622.2,40.1 625.7,40"/>
<polygon points="627.3,36.9 628.5,40.2 631.9,40.2 629.2,42.3 630.1,45.6 627.3,43.6 624.5,45.6 625.5,42.3 622.8,40.2 626.2,40.2"/>
<polygon points="627.9,37.4 629,40.7 632.4,40.8 629.7,42.8 630.7,46.1 627.9,44.2 625,46.1 626,42.8 623.3,40.8 626.7,40.7"/>
<polygon points="628.4,38.4 629.5,41.7 632.9,41.7 630.2,43.8 631.2,47.1 628.4,45.1 625.5,47.1 626.5,43.8 623.8,41.7 627.2,41.7"/>
<polygon points="628.9,38.4 630,41.7 633.4,41.7 630.7,43.8 631.7,47.1 628.9,45.1 626.1,47.1 627.1,43.8 624.3,41.7 627.8,41.7"/>
<polygon points="629.4,39.8 630.5,43 634,43.1 631.2,45.2 632.2,48.5 629.4,46.5 626.6,48.5 627.6,45.2 624.8,43.1 628.3,43"/>
<polygon points="629.9,40.5 631,43.7 634.5,43.8 631.7,45.9 632.7,49.2 629.9,47.2 627.1,49.2 628.1,45.9 625.3,43.8 628.8,43.7"/>
<polygon points="630.4,40.7 631.5,43.9 635,44 632.2,46.1 633.2,49.4 630.4,47.4 627.6,49.4 628.6,46.1 625.8,44 629.3,43.9"/>
<polygon points="630.9,41.3 632,44.6 635.4,44.7 632.7,46.7 633.7,50 630.9,48.1 628.1,50 629.1,46.7 626.3,44.7 629.8,44.6"/>
<polygon points="631.4,42.5 632.5,45.7 635.9,45.8 633.2,47.9 634.2,51.1 631.4,49.2 628.5,51.1 629.5,47.9 626.8,45.8 630.2,45.7"/>
<polygon points="631.8,42.6 633,45.9 636.4,45.9 633.7,48 634.7,51.3 631.8,49.3 629,51.3 630,48 627.3,45.9 630.7,45.9"/>
<polygon points="632.3,43.6 633.4,46.8 636.9,46.9 634.1,49 635.1,52.3 632.3,50.3 629.5,52.3 630.5,49 627.8,46.9 631.2,46.8"/>
<polygon points="632.8,43.2 633.9,46.4 637.4,46.5 634.6,48.6 635.6,51.8 632.8,49.9 630,51.8 631,48.6 628.2,46.5 631.7,46.4"/>
<polygon points="633.3,45.2 634.4,48.4 637.8,48.5 635.1,50.6 636.1,53.9 633.3,51.9 630.4,53.9 631.4,50.6 628.7,48.5 632.1,48.4"/>
<polygon points="633.7,44.8 634.8,48.1 638.3,48.1 635.5,50.2 636.5,53.5 633.7,51.5 630.9,53.5 631.9,50.2 629.1,48.1 632.6,48.1"/>
<polygon points="634.2,46 635.3,49.3 638.7,49.3 636,51.4 637,54.7 634.2,52.7 631.3,54.7 632.3,51.4 629.6,49.3 633,49.3"/>
<polygon points="634.6,47.1 635.7,50.4 639.2,50.5 636.4,52.5 637.4,55.8 634.6,53.9 631.8,55.8 632.8,52.5 630.1,50.5 633.5,50.4"/>
<polygon points="635.1,46.9 636.2,50.2 639.6,50.2 636.9,52.3 637.9,55.6 635.1,53.6 632.2,55.6 633.2,52.3 630.5,50.2 633.9,50.2"/>
<polygon points="635.5,47.9 636.6,51.2 640.1,51.2 637.3,53.3 638.3,56.6 635.5,54.6 632.7,56.6 633.7,53.3 630.9,51.2 634.4,51.2"/>
<polygon points="635.9,48.2 637.1,51.4 640.5,51.5 637.8,53.6 638.8,56.9 635.9,54.9 633.1,56.9 634.1,53.6 631.4,51.5 634.8,51.4"/>
<polygon points="636.4,49.2 637.5,52.5 640.9,52.5 638.2,54.6 639.2,57.9 636.4,55.9 633.5,57.9 634.5,54.6 631.8,52.5 635.2,52.5"/>
<polygon points="636.8,50.3 637.9,53.6 641.4,53.6 638.6,55.7 639.6,59 636.8,57 634,59 635,55.7 632.2,53.6 635.7,53.6"/>
<polygon points="637.2,51 638.4,54.3 641.8,54.4 639,56.4 640,59.7 637.2,57.8 634.4,59.7 635.4,56.4 632.7,54.4 636.1,54.3"/>
<polygon points="637.6,51.4 638.8,54.6 642.2,54.7 639.5,56.8 640.5,60.1 637.6,58.1 634.8,60.1 635.8,56.8 633.1,54.7 636.5,54.6"/>
<polygon points="638.1,51.8 639.2,55.1 642.6,55.1 639.9,57.2 640.9,60.5 638.1,58.6 635.2,60.5 636.2,57.2 633.5,55.1 636.9,55.1"/>
<polygon points="638.5,52.3 639.6,55.5 643,55.6 640.3,57.7 641.3,61 638.5,59 635.6,61 636.6,57.7 633.9,55.6 637.3,55.5"/>
<polygon points="638.9,53.6 640,56.8 643.4,56.9 640.7,59 641.7,62.2 638.9,60.3 636.1,62.2 637.1,59 634.3,56.9 637.7,56.8"/>
<polygon points="639.3,53.3 640.4,56.6 643.8,56.7 641.1,58.7 642.1,62 639.3,60.1 636.5,62 637.5,58.7 634.7,56.7 638.2,56.6"/>
<polygon points="639.7,54 640.8,57.3 644.2,57.4 641.5,59.4 642.5,62.7 639.7,60.8 636.9,62.7 637.9,59.4 635.1,57.4 638.6,57.3"/>
<polygon points="640.1,55.1 641.2,58.4 644.6,58.4 641.9,60.5 642.9,63.8 640.1,61.9 637.3,63.8 638.3,60.5 635.5,58.4 638.9,58.4"/>
<polygon points="640.5,56.8 641.6,60 645,60.1 642.3,62.2 643.3,65.4 640.5,63.5 637.6,65.4 638.6,62.2 635.9,60.1 639.3,60"/>
<polygon points="640.9,57 642,60.3 645.4,60.3 642.7,62.4 643.7,65.7 640.9,63.7 638,65.7 639,62.4 636.3,60.3 639.7,60.3"/>
<polygon points="641.2,57.8 642.4,61 645.8,61.1 643.1,63.1 644.1,66.4 641.2,64.5 638.4,66.4 639.4,63.1 636.7,61.1 640.1,61"/>
<polygon points="641.6,57.2 642.8,60.4 646.2,60.5 643.5,62.6 644.5,65.9 641.6,63.9 638.8,65.9 639.8,62.6 637.1,60.5 640.5,60.4"/>
<polygon points="642,59 643.2,62.3 646.6,62.3 643.9,64.4 644.9,67.7 642,65.7 639.2,67.7 640.2,64.4 637.5,62.3 640.9,62.3"/>
<polygon points="642.5,59.1 643.6,62.3 647,62.4 644.3,64.4 645.3,67.7 642.5,65.8 639.6,67.7 640.6,64.4 637.9,62.4 641.3,62.3"/>
<polygon points="642.9,60 644,63.3 647.5,63.3 644.7,65.4 645.7,68.7 642.9,66.7 640.1,68.7 641.1,65.4 638.4,63.3 641.8,63.3"/>
<polygon points="643.4,60.7 644.5,63.9 648,64 645.2,66 646.2,69.3 643.4,67.4 640.6,69.3 641.6,66 638.8,64 642.3,63.9"/>
<polygon points="643.9,61.8 645.1,65.1 648.5,65.2 645.8,67.2 646.8,70.5 643.9,68.6 641.1,70.5 642.1,67.2 639.4,65.2 642.8,65.1"/>
<polygon points="644.5,63.1 645.6,66.4 649.1,66.4 646.3,68.5 647.3,71.8 644.5,69.8 641.7,71.8 642.7,68.5 639.9,66.4 643.4,66.4"/>
<polygon points="645.1,64.4 646.2,67.6 649.7,67.7 646.9,69.8 647.9,73.1 645.1,71.1 642.3,73.1 643.3,69.8 640.5,67.7 644,67.6"/>
<polygon points="645.7,65.4 646.9,68.7 650.3,68.7 647.6,70.8 648.6,74.1 645.7,72.1 642.9,74.1 643.9,70.8 641.2,68.7 644.6,68.7"/>
<polygon points="646.4,66.7 647.6,70 651,70 648.3,72.1 649.3,75.4 646.4,73.4 643.6,75.4 644.6,72.1 641.9,70 645.3,70"/>
<polygon points="647.2,68.2 648.3,71.5 651.7,71.5 649,73.6 650,76.9 647.2,74.9 644.3,76.9 645.3,73.6 642.6,71.5 646,71.5"/>
<polygon points="647.9,69.7 649.1,73 652.5,73.1 649.8,75.1 650.8,78.4 647.9,76.5 645.1,78.4 646.1,75.1 643.4,73.1 646.8,73"/>
<polygon points="648.8,71.1 649.9,74.4 653.3,74.4 650.6,76.5 651.6,79.8 648.8,77.8 645.9,79.8 646.9,76.5 644.2,74.4 647.6,74.4"/>
<polygon points="649.6,74.3 650.8,77.6 654.2,77.6 651.5,79.7 652.5,83 649.6,81 646.8,83 647.8,79.7 645.1,77.6 648.5,77.6"/>
<polygon points="650.3,76.1 651.4,79.3 654.9,79.4 652.1,81.5 653.1,84.8 650.3,82.8 647.5,84.8 648.5,81.5 645.8,79.4 649.2,79.3"/>
<polygon points="656,90.8 657.2,94.1 660.6,94.2 657.9,96.2 658.9,99.5 656,97.6 653.2,99.5 654.2,96.2 651.5,94.2 654.9,94.1"/>
<polygon points="661.1,104.5 662.2,107.7 665.6,107.8 662.9,109.9 663.9,113.2 661.1,111.2 658.3,113.2 659.3,109.9 656.5,107.8 660,107.7"/>
<polygon points="665.6,121.2 666.7,124.5 670.2,124.5 667.4,126.6 668.4,129.9 665.6,127.9 662.8,129.9 663.8,126.6 661,124.5 664.5,124.5"/>
<polygon points="669.7,132.1 670.8,135.4 674.3,135.4 671.5,137.5 672.5,140.8 669.7,138.9 666.9,140.8 667.9,137.5 665.1,135.4 668.6,135.4"/>
<polygon points="673.5,147.9 674.6,151.1 678,151.2 675.3,153.3 676.3,156.6 673.5,154.6 670.6,156.6 671.6,153.3 668.9,151.2 672.3,151.1"/>
<polygon points="676.9,158.2 678,161.4 681.5,161.5 678.7,163.6 679.7,166.9 676.9,164.9 674.1,166.9 675.1,163.6 672.3,161.5 675.8,161.4"/>
<polygon points="680.1,171.8 681.2,175.1 684.7,175.1 681.9,177.2 682.9,180.5 680.1,178.5 677.3,180.5 678.3,177.2 675.5,175.1 679,175.1"/>
<polygon points="683.1,183.7 684.2,186.9 687.6,187 684.9,189 685.9,192.3 683.1,190.4 680.3,192.3 681.3,189 678.5,187 682,186.9"/>
<polygon points="685.9,193.9 687,197.1 690.4,197.2 687.7,199.3 688.7,202.6 685.9,200.6 683,202.6 684,199.3 681.3,197.2 684.7,197.1"/>
<polygon points="688.5,203 689.6,206.2 693.1,206.3 690.3,208.4 691.3,211.6 688.5,209.7 685.7,211.6 686.7,208.4 683.9,206.3 687.4,206.2"/>
<polygon points="691,209.5 692.1,212.7 695.5,212.8 692.8,214.9 693.8,218.1 691,216.2 688.1,218.1 689.1,214.9 686.4,212.8 689.8,212.7"/>
<polygon points="693.3,217.2 694.4,220.4 697.9,220.5 695.1,222.6 696.1,225.9 693.3,223.9 690.5,225.9 691.5,222.6 688.7,220.5 692.2,220.4"/>
<polygon points="695.5,223.2 696.6,226.5 700.1,226.6 697.3,228.6 698.3,231.9 695.5,230 692.7,231.9 693.7,228.6 691,226.6 694.4,226.5"/>
<polygon points="697.6,227.8 698.8,231.1 702.2,231.1 699.5,233.2 700.5,236.5 697.6,234.5 694.8,236.5 695.8,233.2 693.1,231.1 696.5,231.1"/>
<polygon points="699.6,231.5 700.8,234.8 704.2,234.8 701.5,236.9 702.5,240.2 699.6,238.2 696.8,240.2 697.8,236.9 695.1,234.8 698.5,234.8"/>
<polygon points="701.6,235.7 702.7,239 706.1,239 703.4,241.1 704.4,244.4 701.6,242.4 698.8,244.4 699.7,241.1 697,239 700.4,239"/>
<polygon points="703.4,236.1 704.5,239.3 708,239.4 705.2,241.5 706.2,244.8 703.4,242.8 700.6,244.8 701.6,241.5 698.9,239.4 702.3,239.3"/>
<polygon points="705.2,238.2 706.3,241.5 709.8,241.5 707,243.6 708,246.9 705.2,244.9 702.4,246.9 703.4,243.6 700.6,241.5 704.1,241.5"/>
<polygon points="706.9,240.3 708,243.6 711.5,243.6 708.7,245.7 709.7,249 706.9,247.1 704.1,249 705.1,245.7 702.3,243.6 705.8,243.6"/>
<polygon points="708.5,240.6 709.7,243.9 713.1,243.9 710.4,246 711.4,249.3 708.5,247.3 705.7,249.3 706.7,246 704,243.9 707.4,243.9"/>
<polygon points="710.1,241.9 711.2,245.2 714.7,245.2 711.9,247.3 712.9,250.6 710.1,248.6 707.3,250.6 708.3,247.3 705.5,245.2 709,245.2"/>
<polygon points="711.6,243.4 712.8,246.6 716.2,246.7 713.5,248.8 714.5,252.1 711.6,250.1 708.8,252.1 709.8,248.8 707.1,246.7 710.5,246.6"/>
<polygon points="713.1,243.9 714.2,247.1 717.7,247.2 714.9,249.3 715.9,252.6 713.1,250.6 710.3,252.6 711.3,249.3 708.5,247.2 712,247.1"/>
</g>
<g fill="none" stroke="#ff00ff" stroke-width="1.5">
<rect x="485.8" y="177.6" width="4.2" height="4.2"/>
<rect x="486.2" y="174.8" width="4.2" height="4.2"/>
<rect x="487.3" y="172.2" width="4.2" height="4.2"/>
<rect x="488.1" y="170.3" width="4.2" height="4.2"/>
<rect x="489" y="168.3" width="4.2" height="4.2"/>
<rect x="489.2" y="166.5" width="4.2" height="4.2"/>
<rect x="489.6" y="164.4" width="4.2" height="4.2"/>
<rect x="490.3" y="163.4" width="4.2" height="4.2"/>
<rect x="491.1" y="161.3" width="4.2" height="4.2"/>
<rect x="491.6" y="159" width="4.2" height="4.2"/>
<rect x="492.2" y="157.9" width="4.2" height="4.2"/>
<rect x="493" y="156.2" width="4.2" height="4.2"/>
<rect x="493.3" y="154.7" width="4.2" height="4.2"/>
<rect x="494.1" y="152.8" width="4.2" height="4.2"/>
<rect x="495.1" y="151.2" width="4.2" height="4.2"/>
<rect x="495.2" y="150.1" width="4.2" height="4.2"/>
<rect x="495.7" y="149.9" width="4.2" height="4.2"/>
<rect x="496.2" y="148" width="4.2" height="4.2"/>
<rect x="496.8" y="146.2" width="4.2" height="4.2"/>
<rect x="497.4" y="145.8" width="4.2" height="4.2"/>
<rect x="497.8" y="144.2" width="4.2" height="4.2"/>
<rect x="498.6" y="142.8" width="4.2" height="4.2"/>
<rect x="499.2" y="141.9" width="4.2" height="4.2"/>
<rect x="499.5" y="140.6" width="4.2" height="4.2"/>
<rect x="500.5" y="139.6" width="4.2" height="4.2"/>
<rect x="500.7" y="139.2" width="4.2" height="4.2"/>
<rect x="501.1" y="138.1" width="4.2" height="4.2"/>
<rect x="501.7" y="137.1" width="4.2" height="4.2"/>
<rect x="502.1" y="135.9" width="4.2" height="4.2"/>
<rect x="502.4" y="135.7" width="4.2" height="4.2"/>
<rect x="504.2" y="133" width="4.2" height="4.2"/>
<rect x="507.6" y="128.6" width="4.2" height="4.2"/>
<rect x="510.7" y="122.4" width="4.2" height="4.2"/>
<rect x="513.6" y="114.7" width="4.2" height="4.2"/>
<rect x="516.4" y="108.8" width="4.2" height="4.2"/>
<rect x="518.9" y="102.3" width="4.2" height="4.2"/>
<rect x="521.4" y="96.5" width="4.2" height="4.2"/>
<rect x="523.7" y="90.9" width="4.2" height="4.2"/>
<rect x="525.9" y="86" width="4.2" height="4.2"/>
<rect x="528" y="82.6" width="4.2" height="4.2"/>
<rect x="529.9" y="78.1" width="4.2" height="4.2"/>
<rect x="531.8" y="75.9" width="4.2" height="4.2"/>
<rect x="533.7" y="73" width="4.2" height="4.2"/>
<rect x="535.4" y="70.5" width="4.2" height="4.2"/>
<rect x="537.1" y="68.1" width="4.2" height="4.2"/>
<rect x="538.7" y="67.5" width="4.2" height="4.2"/>
<rect x="540.3" y="64.3" width="4.2" height="4.2"/>
<rect x="541.8" y="63" width="4.2" height="4.2"/>
<rect x="543.2" y="61.4" width="4.2" height="4.2"/>
<rect x="544.6" y="60.8" width="4.2" height="4.2"/>
<rect x="546" y="57.1" width="4.2" height="4.2"/>
<rect x="547.3" y="56.2" width="4.2" height="4.2"/>
<rect x="548.6" y="54.6" width="4.2" height="4.2"/>
<rect x="553.3" y="46.7" width="4.2" height="4.2"/>
<rect x="559" y="42.1" width="4.2" height="4.2"/>
<rect x="564" y="37.7" width="4.2" height="4.2"/>
<rect x="568.5" y="34.7" width="4.2" height="4.2"/>
<rect x="572.5" y="31.7" width="4.2" height="4.2"/>
<rect x="576.2" y="28.7" width="4.2" height="4.2"/>
<rect x="579.7" y="26.5" width="4.2" height="4.2"/>
<rect x="582.9" y="24.4" width="4.2" height="4.2"/>
<rect x="585.8" y="22.2" width="4.2" height="4.2"/>
<rect x="587.2" y="21" width="4.2" height="4.2"/>
<rect x="588.6" y="20" width="4.2" height="4.2"/>
<rect x="589.9" y="19" width="4.2" height="4.2"/>
<rect x="591.2" y="19.4" width="4.2" height="4.2"/>
<rect x="592.4" y="18.6" width="4.2" height="4.2"/>
<rect x="593.7" y="18.1" width="4.2" height="4.2"/>
<rect x="594.8" y="16.7" width="4.2" height="4.2"/>
<rect x="596" y="17.6" width="4.2" height="4.2"/>
<rect x="597.1" y="15.3" width="4.2" height="4.2"/>
<rect x="598.2" y="16" width="4.2" height="4.2"/>
<rect x="599.3" y="15.6" width="4.2" height="4.2"/>
<rect x="600.3" y="15.1" width="4.2" height="4.2"/>
<rect x="601.3" y="14.6" width="4.2" height="4.2"/>
<rect x="602.3" y="14.6" width="4.2" height="4.2"/>
<rect x="603.3" y="14.3" width="4.2" height="4.2"/>
<rect x="604.2" y="14.8" width="4.2" height="4.2"/>
<rect x="605.2" y="13.9" width="4.2" height="4.2"/>
<rect x="606.1" y="14.1" width="4.2" height="4.2"/>
<rect x="607" y="14.8" width="4.2" height="4.2"/>
<rect x="607.8" y="13.9" width="4.2" height="4.2"/>
<rect x="608.7" y="14.7" width="4.2" height="4.2"/>
<rect x="609.5" y="14.5" width="4.2" height="4.2"/>
<rect x="610.4" y="15.1" width="4.2" height="4.2"/>
<rect x="611.2" y="15.1" width="4.2" height="4.2"/>
<rect x="612" y="14.8" width="4.2" height="4.2"/>
<rect x="612.7" y="16.1" width="4.2" height="4.2"/>
<rect x="613.5" y="15.5" width="4.2" height="4.2"/>
<rect x="614.3" y="16.1" width="4.2" height="4.2"/>
<rect x="615" y="16.4" width="4.2" height="4.2"/>
<rect x="615.7" y="18.3" width="4.2" height="4.2"/>
<rect x="616.4" y="17.5" width="4.2" height="4.2"/>
<rect x="617.1" y="17.5" width="4.2" height="4.2"/>
<rect x="617.8" y="18.7" width="4.2" height="4.2"/>
<rect x="618.5" y="18.8" width="4.2" height="4.2"/>
<rect x="619.2" y="20.9" width="4.2" height="4.2"/>
<rect x="619.9" y="19.9" width="4.2" height="4.2"/>
<rect x="620.5" y="21.3" width="4.2" height="4.2"/>
<rect x="621.1" y="21.4" width="4.2" height="4.2"/>
<rect x="621.8" y="23.5" width="4.2" height="4.2"/>
<rect x="622.4" y="23" width="4.2" height="4.2"/>
<rect x="623" y="24.1" width="4.2" height="4.2"/>
<rect x="623.6" y="24.5" width="4.2" height="4.2"/>
<rect x="624.2" y="26" width="4.2" height="4.2"/>
<rect x="624.8" y="26.5" width="4.2" height="4.2"/>
<rect x="625.4" y="25.8" width="4.2" height="4.2"/>
<rect x="626" y="28" width="4.2" height="4.2"/>
<rect x="626.5" y="28.8" width="4.2" height="4.2"/>
<rect x="627.1" y="29.4" width="4.2" height="4.2"/>
<rect x="627.6" y="30.3" width="4.2" height="4.2"/>
<rect x="628.2" y="30.1" width="4.2" height="4.2"/>
<rect x="628.7" y="30.6" width="4.2" height="4.2"/>
<rect x="629.3" y="32.6" width="4.2" height="4.2"/>
<rect x="629.8" y="33.7" width="4.2" height="4.2"/>
<rect x="630.3" y="33.2" width="4.2" height="4.2"/>
<rect x="630.8" y="34" width="4.2" height="4.2"/>
<rect x="631.3" y="34.9" width="4.2" height="4.2"/>
<rect x="631.8" y="35.6" width="4.2" height="4.2"/>
<rect x="632.3" y="37.3" width="4.2" height="4.2"/>
<rect x="632.8" y="37.7" width="4.2" height="4.2"/>
<rect x="633.3" y="39" width="4.2" height="4.2"/>
<rect x="633.8" y="39.9" width="4.2" height="4.2"/>
<rect x="634.3" y="39.4" width="4.2" height="4.2"/>
<rect x="634.7" y="41.1" width="4.2" height="4.2"/>
<rect x="635.2" y="40.4" width="4.2" height="4.2"/>
<rect x="635.6" y="42.3" width="4.2" height="4.2"/>
<rect x="636.1" y="43.4" width="4.2" height="4.2"/>
<rect x="636.6" y="43.3" width="4.2" height="4.2"/>
<rect x="637" y="43.8" width="4.2" height="4.2"/>
<rect x="637.4" y="45.3" width="4.2" height="4.2"/>
<rect x="637.9" y="46.7" width="4.2" height="4.2"/>
<rect x="638.3" y="46.7" width="4.2" height="4.2"/>
<rect x="638.7" y="46.8" width="4.2" height="4.2"/>
<rect x="639.2" y="48.5" width="4.2" height="4.2"/>
<rect x="639.6" y="49.3" width="4.2" height="4.2"/>
<rect x="640" y="49.5" width="4.2" height="4.2"/>
<rect x="640.4" y="50.5" width="4.2" height="4.2"/>
<rect x="640.8" y="51.7" width="4.2" height="4.2"/>
<rect x="641.2" y="52" width="4.2" height="4.2"/>
<rect x="641.6" y="53.1" width="4.2" height="4.2"/>
<rect x="642" y="53.3" width="4.2" height="4.2"/>
<rect x="642.4" y="54.1" width="4.2" height="4.2"/>
<rect x="642.8" y="54.5" width="4.2" height="4.2"/>
<rect x="643.2" y="55.4" width="4.2" height="4.2"/>
<rect x="643.6" y="57" width="4.2" height="4.2"/>
<rect x="644" y="57.2" width="4.2" height="4.2"/>
<rect x="644.4" y="57.5" width="4.2" height="4.2"/>
<rect x="644.9" y="58.6" width="4.2" height="4.2"/>
<rect x="645.3" y="59.4" width="4.2" height="4.2"/>
<rect x="645.9" y="61.2" width="4.2" height="4.2"/>
<rect x="646.4" y="62.2" width="4.2" height="4.2"/>
<rect x="647" y="62.8" width="4.2" height="4.2"/>
<rect x="647.7" y="64.9" width="4.2" height="4.2"/>
<rect x="648.4" y="66.7" width="4.2" height="4.2"/>
<rect x="649.1" y="67.2" width="4.2" height="4.2"/>
<rect x="649.9" y="69.5" width="4.2" height="4.2"/>
<rect x="650.7" y="71.5" width="4.2" height="4.2"/>
<rect x="651.6" y="74" width="4.2" height="4.2"/>
<rect x="652.3" y="74.8" width="4.2" height="4.2"/>
<rect x="658" y="90.2" width="4.2" height="4.2"/>
<rect x="663" y="103.3" width="4.2" height="4.2"/>
<rect x="667.5" y="120.2" width="4.2" height="4.2"/>
<rect x="671.6" y="133.7" width="4.2" height="4.2"/>
<rect x="675.4" y="147.4" width="4.2" height="4.2"/>
<rect x="678.8" y="160.6" width="4.2" height="4.2"/>
<rect x="682" y="176" width="4.2" height="4.2"/>
<rect x="685" y="186.2" width="4.2" height="4.2"/>
<rect x="687.8" y="197.6" width="4.2" height="4.2"/>
<rect x="690.4" y="205" width="4.2" height="4.2"/>
<rect x="692.9" y="211.9" width="4.2" height="4.2"/>
<rect x="695.2" y="219.8" width="4.2" height="4.2"/>
<rect x="697.5" y="225.9" width="4.2" height="4.2"/>
<rect x="699.6" y="231.3" width="4.2" height="4.2"/>
<rect x="701.6" y="235.5" width="4.2" height="4.2"/>
<rect x="703.5" y="238.5" width="4.2" height="4.2"/>
<rect x="705.4" y="240.1" width="4.2" height="4.2"/>
<rect x="707.1" y="241.7" width="4.2" height="4.2"/>
<rect x="708.8" y="243.3" width="4.2" height="4.2"/>
<rect x="710.5" y="245.4" width="4.2" height="4.2"/>
<rect x="712" y="246.1" width="4.2" height="4.2"/>
<rect x="713.6" y="247" width="4.2" height="4.2"/>
<rect x="715" y="247.7" width="4.2" height="4.2"/>
</g>
<polyline fill="none" stroke="#00f000" stroke-width="1.5" points="405,253.5 407.6,252.7 410.2,251.9 412.7,251 415.3,250 417.9,249 420.5,248 423,246.8 425.6,245.6 428.2,244.4 430.8,243 433.3,241.6 435.9,240.1 438.5,238.4 441.1,236.7 443.6,234.9 446.2,233 448.8,231 451.4,228.8 453.9,226.5 456.5,224.1 459.1,221.5 461.7,218.7 464.2,215.8 466.8,212.8 469.4,209.5 472,206 474.5,202.3 477.1,198.4 479.7,194.3 482.3,189.9 484.8,185.2 487.4,180.3 490,175 492.6,169.5 495.1,163.6 497.7,157.3 500.3,150.7 502.9,143.6 505.4,136.1"/>
</g>
<text x="402.3" y="244.3" font-family="Liberation Sans, sans-serif" font-size="10.6" text-anchor="end" fill="#000">2</text>
<text x="402.3" y="218.2" font-family="Liberation Sans, sans-serif" font-size="10.6" text-anchor="end" fill="#000">4</text>
<text x="402.3" y="192.1" font-family="Liberation Sans, sans-serif" font-size="10.6" text-anchor="end" fill="#000">6</text>
<text x="402.3" y="166" font-family="Liberation Sans, sans-serif" font-size="10.6" text-anchor="end" fill="#000">8</text>
<text x="402.3" y="139.9" font-family="Liberation Sans, sans-serif" font-size="10.6" text-anchor="end" fill="#000">10</text>
<text x="402.3" y="113.9" font-family="Liberation Sans, sans-serif" font-size="10.6" text-anchor="end" fill="#000">12</text>
<text x="402.3" y="87.8" font-family="Liberation Sans, sans-serif" font-size="10.6" text-anchor="end" fill="#000">14</text>
<text x="402.3" y="61.7" font-family="Liberation Sans, sans-serif" font-size="10.6" text-anchor="end" fill="#000">16</text>
<text x="402.3" y="35.6" font-family="Liberation Sans, sans-serif" font-size="10.6" text-anchor="end" fill="#000">18</text>
<text x="402.3" y="9.5" font-family="Liberation Sans, sans-serif" font-size="10.6" text-anchor="end" fill="#000">20</text>
<text fill="#000"><tspan x="397.5" y="269.5" font-family="Liberation Sans, sans-serif" font-size="10.8">10</tspan><tspan x="409.6" y="264.4" font-family="Liberation Sans, sans-serif" font-size="9">0</tspan></text>
<text fill="#000"><tspan x="497.9" y="269.5" font-family="Liberation Sans, sans-serif" font-size="10.8">10</tspan><tspan x="510.1" y="264.4" font-family="Liberation Sans, sans-serif" font-size="9">1</tspan></text>
<text fill="#000"><tspan x="598.4" y="269.5" font-family="Liberation Sans, sans-serif" font-size="10.8">10</tspan><tspan x="610.5" y="264.4" font-family="Liberation Sans, sans-serif" font-size="9">2</tspan></text>
<text fill="#000"><tspan x="698.9" y="269.5" font-family="Liberation Sans, sans-serif" font-size="10.8">10</tspan><tspan x="711" y="264.4" font-family="Liberation Sans, sans-serif" font-size="9">3</tspan></text>
<rect x="408.3" y="9.9" width="102.2" height="80" fill="#fff" stroke="#000" stroke-width="1.5"/>
<g fill="none" stroke="#ff0000" stroke-width="1.6">
<circle cx="422.2" cy="18.4" r="2.8"/>
</g>
<text fill="#303030"><tspan x="434.7" y="21.7" font-family="Liberation Serif, serif" font-size="14.2" font-style="italic" textLength="9.6" lengthAdjust="spacingAndGlyphs">V</tspan><tspan x="444.3" y="24.4" font-family="Liberation Serif, serif" font-size="9.7" font-style="italic">j</tspan><tspan x="453.2" y="22.8" font-family="Liberation Serif, serif" font-size="14.2" textLength="11.3" lengthAdjust="spacingAndGlyphs">=</tspan><tspan x="467.7" y="21.7" font-family="Liberation Serif, serif" font-size="14.2" textLength="14.1" lengthAdjust="spacingAndGlyphs">25</tspan><tspan x="482.3" y="21.7" font-family="Liberation Serif, serif" font-size="14.2" font-style="italic" textLength="12.6" lengthAdjust="spacingAndGlyphs">m</tspan><tspan x="496.2" y="21.7" font-family="Liberation Serif, serif" font-size="14.2" font-style="italic" textLength="6.2" lengthAdjust="spacingAndGlyphs">/</tspan><tspan x="503.1" y="21.7" font-family="Liberation Serif, serif" font-size="14.2" font-style="italic" textLength="4.2" lengthAdjust="spacingAndGlyphs">s</tspan></text>
<g fill="none" stroke="#0000ff" stroke-width="1.6">
<polygon points="422.2,30.3 425.5,36.4 418.9,36.4"/>
</g>
<text fill="#303030"><tspan x="434.7" y="37.2" font-family="Liberation Serif, serif" font-size="14.2" font-style="italic" textLength="9.6" lengthAdjust="spacingAndGlyphs">V</tspan><tspan x="444.3" y="39.9" font-family="Liberation Serif, serif" font-size="9.7" font-style="italic">j</tspan><tspan x="453.2" y="38.3" font-family="Liberation Serif, serif" font-size="14.2" textLength="11.3" lengthAdjust="spacingAndGlyphs">=</tspan><tspan x="467.7" y="37.2" font-family="Liberation Serif, serif" font-size="14.2" textLength="14.1" lengthAdjust="spacingAndGlyphs">30</tspan><tspan x="482.3" y="37.2" font-family="Liberation Serif, serif" font-size="14.2" font-style="italic" textLength="12.6" lengthAdjust="spacingAndGlyphs">m</tspan><tspan x="496.2" y="37.2" font-family="Liberation Serif, serif" font-size="14.2" font-style="italic" textLength="6.2" lengthAdjust="spacingAndGlyphs">/</tspan><tspan x="503.1" y="37.2" font-family="Liberation Serif, serif" font-size="14.2" font-style="italic" textLength="4.2" lengthAdjust="spacingAndGlyphs">s</tspan></text>
<g fill="#000000" stroke="none">
<polygon points="422.2,44.8 423.4,48.3 427.1,48.4 424.2,50.6 425.2,54.2 422.2,52.1 419.2,54.2 420.2,50.6 417.3,48.4 421,48.3"/>
</g>
<text fill="#303030"><tspan x="434.7" y="53.3" font-family="Liberation Serif, serif" font-size="14.2" font-style="italic" textLength="9.6" lengthAdjust="spacingAndGlyphs">V</tspan><tspan x="444.3" y="56" font-family="Liberation Serif, serif" font-size="9.7" font-style="italic">j</tspan><tspan x="453.2" y="54.4" font-family="Liberation Serif, serif" font-size="14.2" textLength="11.3" lengthAdjust="spacingAndGlyphs">=</tspan><tspan x="467.7" y="53.3" font-family="Liberation Serif, serif" font-size="14.2" textLength="14.1" lengthAdjust="spacingAndGlyphs">35</tspan><tspan x="482.3" y="53.3" font-family="Liberation Serif, serif" font-size="14.2" font-style="italic" textLength="12.6" lengthAdjust="spacingAndGlyphs">m</tspan><tspan x="496.2" y="53.3" font-family="Liberation Serif, serif" font-size="14.2" font-style="italic" textLength="6.2" lengthAdjust="spacingAndGlyphs">/</tspan><tspan x="503.1" y="53.3" font-family="Liberation Serif, serif" font-size="14.2" font-style="italic" textLength="4.2" lengthAdjust="spacingAndGlyphs">s</tspan></text>
<g fill="none" stroke="#ff00ff" stroke-width="1.6">
<rect x="419.9" y="63.5" width="4.5360000000000005" height="4.5360000000000005"/>
</g>
<text fill="#303030"><tspan x="434.7" y="69.1" font-family="Liberation Serif, serif" font-size="14.2" font-style="italic" textLength="9.6" lengthAdjust="spacingAndGlyphs">V</tspan><tspan x="444.3" y="71.8" font-family="Liberation Serif, serif" font-size="9.7" font-style="italic">j</tspan><tspan x="453.2" y="70.2" font-family="Liberation Serif, serif" font-size="14.2" textLength="11.3" lengthAdjust="spacingAndGlyphs">=</tspan><tspan x="467.7" y="69.1" font-family="Liberation Serif, serif" font-size="14.2" textLength="14.1" lengthAdjust="spacingAndGlyphs">40</tspan><tspan x="482.3" y="69.1" font-family="Liberation Serif, serif" font-size="14.2" font-style="italic" textLength="12.6" lengthAdjust="spacingAndGlyphs">m</tspan><tspan x="496.2" y="69.1" font-family="Liberation Serif, serif" font-size="14.2" font-style="italic" textLength="6.2" lengthAdjust="spacingAndGlyphs">/</tspan><tspan x="503.1" y="69.1" font-family="Liberation Serif, serif" font-size="14.2" font-style="italic" textLength="4.2" lengthAdjust="spacingAndGlyphs">s</tspan></text>
<line x1="412" y1="82" x2="431" y2="82" stroke="#00f000" stroke-width="1.5"/>
<text fill="#303030"><tspan x="435" y="86" font-family="Liberation Serif, serif" font-size="14.5" font-style="italic">u</tspan><tspan x="442" y="80.2" font-family="Liberation Serif, serif" font-size="11" textLength="7" lengthAdjust="spacingAndGlyphs">+</tspan><tspan x="455.1" y="86.8" font-family="Liberation Serif, serif" font-size="14.2" textLength="12.2" lengthAdjust="spacingAndGlyphs">=</tspan><tspan x="471.5" y="86" font-family="Liberation Serif, serif" font-size="14.5" font-style="italic" textLength="7.2" lengthAdjust="spacingAndGlyphs">y</tspan><tspan x="479" y="80.2" font-family="Liberation Serif, serif" font-size="11" textLength="7" lengthAdjust="spacingAndGlyphs">+</tspan></text>
<text fill="#303030" transform="translate(386,139.5) rotate(-90)"><tspan x="0" y="0" font-family="Liberation Serif, serif" font-size="14" font-style="italic">u</tspan><tspan x="8.8" y="-4.6" font-family="Liberation Serif, serif" font-size="11">+</tspan></text>
<text fill="#303030"><tspan x="554" y="283.5" font-family="Liberation Serif, serif" font-size="14" font-style="italic" textLength="6.5" lengthAdjust="spacingAndGlyphs">z</tspan><tspan x="561.3" y="278.3" font-family="Liberation Serif, serif" font-size="10.5">+</tspan></text>
<text x="543" y="302.7" font-family="Liberation Serif, serif" font-size="12" font-style="italic" text-anchor="start" textLength="14.5" lengthAdjust="spacingAndGlyphs" fill="#303030">(b)</text>
</svg>
</body></html>
